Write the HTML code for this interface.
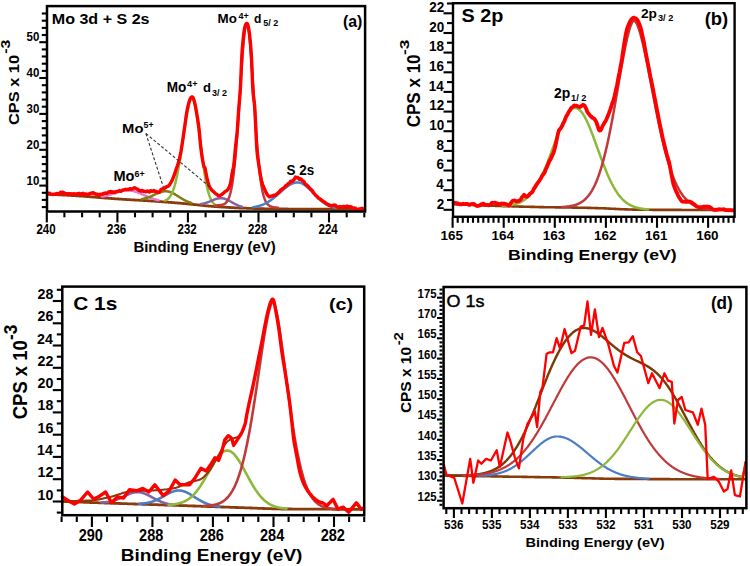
<!DOCTYPE html>
<html><head><meta charset="utf-8"><style>
html,body{margin:0;padding:0;background:#fff;}
svg{display:block;}
text{font-family:"Liberation Sans",sans-serif;font-weight:bold;}
</style></head><body>
<svg width="750" height="566" viewBox="0 0 750 566">
<rect width="750" height="566" fill="#fff"/>
<line x1="64.4" y1="212.5" x2="64.4" y2="217.3" stroke="#000" stroke-width="2.1"/>
<line x1="82.1" y1="212.5" x2="82.1" y2="217.3" stroke="#000" stroke-width="2.1"/>
<line x1="99.7" y1="212.5" x2="99.7" y2="217.3" stroke="#000" stroke-width="2.1"/>
<line x1="135" y1="212.5" x2="135" y2="217.3" stroke="#000" stroke-width="2.1"/>
<line x1="152.6" y1="212.5" x2="152.6" y2="217.3" stroke="#000" stroke-width="2.1"/>
<line x1="170.3" y1="212.5" x2="170.3" y2="217.3" stroke="#000" stroke-width="2.1"/>
<line x1="205.6" y1="212.5" x2="205.6" y2="217.3" stroke="#000" stroke-width="2.1"/>
<line x1="223.2" y1="212.5" x2="223.2" y2="217.3" stroke="#000" stroke-width="2.1"/>
<line x1="240.8" y1="212.5" x2="240.8" y2="217.3" stroke="#000" stroke-width="2.1"/>
<line x1="276.1" y1="212.5" x2="276.1" y2="217.3" stroke="#000" stroke-width="2.1"/>
<line x1="293.8" y1="212.5" x2="293.8" y2="217.3" stroke="#000" stroke-width="2.1"/>
<line x1="311.4" y1="212.5" x2="311.4" y2="217.3" stroke="#000" stroke-width="2.1"/>
<line x1="346.7" y1="212.5" x2="346.7" y2="217.3" stroke="#000" stroke-width="2.1"/>
<line x1="364.3" y1="212.5" x2="364.3" y2="217.3" stroke="#000" stroke-width="2.1"/>
<line x1="46.8" y1="212.5" x2="46.8" y2="222.4" stroke="#000" stroke-width="2.1"/>
<line x1="117.4" y1="212.5" x2="117.4" y2="222.4" stroke="#000" stroke-width="2.1"/>
<line x1="187.9" y1="212.5" x2="187.9" y2="222.4" stroke="#000" stroke-width="2.1"/>
<line x1="258.5" y1="212.5" x2="258.5" y2="222.4" stroke="#000" stroke-width="2.1"/>
<line x1="329" y1="212.5" x2="329" y2="222.4" stroke="#000" stroke-width="2.1"/>
<line x1="46" y1="207.1" x2="41.8" y2="207.1" stroke="#000" stroke-width="2.1"/>
<line x1="46" y1="199.9" x2="41.8" y2="199.9" stroke="#000" stroke-width="2.1"/>
<line x1="46" y1="192.8" x2="41.8" y2="192.8" stroke="#000" stroke-width="2.1"/>
<line x1="46" y1="178.4" x2="41.8" y2="178.4" stroke="#000" stroke-width="2.1"/>
<line x1="46" y1="171.3" x2="41.8" y2="171.3" stroke="#000" stroke-width="2.1"/>
<line x1="46" y1="164.1" x2="41.8" y2="164.1" stroke="#000" stroke-width="2.1"/>
<line x1="46" y1="156.9" x2="41.8" y2="156.9" stroke="#000" stroke-width="2.1"/>
<line x1="46" y1="142.6" x2="41.8" y2="142.6" stroke="#000" stroke-width="2.1"/>
<line x1="46" y1="135.4" x2="41.8" y2="135.4" stroke="#000" stroke-width="2.1"/>
<line x1="46" y1="128.2" x2="41.8" y2="128.2" stroke="#000" stroke-width="2.1"/>
<line x1="46" y1="121.1" x2="41.8" y2="121.1" stroke="#000" stroke-width="2.1"/>
<line x1="46" y1="106.7" x2="41.8" y2="106.7" stroke="#000" stroke-width="2.1"/>
<line x1="46" y1="99.6" x2="41.8" y2="99.6" stroke="#000" stroke-width="2.1"/>
<line x1="46" y1="92.4" x2="41.8" y2="92.4" stroke="#000" stroke-width="2.1"/>
<line x1="46" y1="85.2" x2="41.8" y2="85.2" stroke="#000" stroke-width="2.1"/>
<line x1="46" y1="70.9" x2="41.8" y2="70.9" stroke="#000" stroke-width="2.1"/>
<line x1="46" y1="63.7" x2="41.8" y2="63.7" stroke="#000" stroke-width="2.1"/>
<line x1="46" y1="56.5" x2="41.8" y2="56.5" stroke="#000" stroke-width="2.1"/>
<line x1="46" y1="49.4" x2="41.8" y2="49.4" stroke="#000" stroke-width="2.1"/>
<line x1="46" y1="35" x2="41.8" y2="35" stroke="#000" stroke-width="2.1"/>
<line x1="46" y1="27.9" x2="41.8" y2="27.9" stroke="#000" stroke-width="2.1"/>
<line x1="46" y1="20.7" x2="41.8" y2="20.7" stroke="#000" stroke-width="2.1"/>
<line x1="46" y1="13.5" x2="41.8" y2="13.5" stroke="#000" stroke-width="2.1"/>
<line x1="46" y1="185.6" x2="39.3" y2="185.6" stroke="#000" stroke-width="2.1"/>
<line x1="46" y1="149.8" x2="39.3" y2="149.8" stroke="#000" stroke-width="2.1"/>
<line x1="46" y1="113.9" x2="39.3" y2="113.9" stroke="#000" stroke-width="2.1"/>
<line x1="46" y1="78" x2="39.3" y2="78" stroke="#000" stroke-width="2.1"/>
<line x1="46" y1="42.2" x2="39.3" y2="42.2" stroke="#000" stroke-width="2.1"/>
<path d="M47.5,194.3 48,194.3 48.5,194.4 49,194.4 49.5,194.4 50,194.4 50.5,194.4 51,194.5 51.5,194.5 52,194.5 52.5,194.5 53,194.5 53.5,194.6 54,194.6 54.5,194.6 55,194.6 55.5,194.7 56,194.7 56.5,194.7 57,194.7 57.5,194.7 58,194.8 58.5,194.8 59,194.8 59.5,194.8 60,194.9 60.5,194.9 61,194.9 61.5,194.9 62,195 62.5,195 63,195 63.5,195.1 64,195.1 64.5,195.1 65,195.1 65.5,195.2 66,195.2 66.5,195.2 67,195.2 67.5,195.3 68,195.3 68.5,195.3 69,195.4 69.5,195.4 70,195.4 70.5,195.4 71,195.5 71.5,195.5 72,195.5 72.5,195.6 73,195.6 73.5,195.6 74,195.7 74.5,195.7 75,195.7 75.5,195.7 76,195.8 76.5,195.8 77,195.8 77.5,195.9 78,195.9 78.5,195.9 79,196 79.5,196 80,196 80.5,196.1 81,196.1 81.5,196.1 82,196.2 82.5,196.2 83,196.2 83.5,196.3 84,196.3 84.5,196.4 85,196.4 85.5,196.4 86,196.5 86.5,196.5 87,196.5 87.5,196.6 88,196.6 88.5,196.7 89,196.7 89.5,196.7 90,196.8 90.5,196.8 91,196.9 91.5,196.9 92,196.9 92.5,197 93,197 93.5,197.1 94,197.1 94.5,197.2 95,197.2 95.5,197.2 96,197.3 96.5,197.3 97,197.4 97.5,197.4 98,197.4 98.5,197.5 99,197.5 99.5,197.6 100,197.6 100.5,197.6 101,197.7 101.5,197.7 102,197.8 102.5,197.8 103,197.8 103.5,197.9 104,197.9 104.5,198 105,198 105.5,198 106,198.1 106.5,198.1 107,198.2 107.5,198.2 108,198.2 108.5,198.3 109,198.3 109.5,198.4 110,198.4 110.5,198.4 111,198.5 111.5,198.5 112,198.5 112.5,198.6 113,198.6 113.5,198.7 114,198.7 114.5,198.7 115,198.8 115.5,198.8 116,198.8 116.5,198.9 117,198.9 117.5,198.9 118,199 118.5,199 119,199 119.5,199.1 120,199.1 120.5,199.1 121,199.2 121.5,199.2 122,199.2 122.5,199.3 123,199.3 123.5,199.3 124,199.4 124.5,199.4 125,199.4 125.5,199.5 126,199.5 126.5,199.5 127,199.6 127.5,199.6 128,199.6 128.5,199.7 129,199.7 129.5,199.7 130,199.7 130.5,199.8 131,199.8 131.5,199.8 132,199.9 132.5,199.9 133,199.9 133.5,199.9 134,200 134.5,200 135,200 135.5,200.1 136,200.1 136.5,200.1 137,200.1 137.5,200.2 138,200.2 138.5,200.2 139,200.2 139.5,200.3 140,200.3 140.5,200.3 141,200.4 141.5,200.4 142,200.4 142.5,200.4 143,200.5 143.5,200.5 144,200.5 144.5,200.6 145,200.6 145.5,200.6 146,200.6 146.5,200.7 147,200.7 147.5,200.7 148,200.8 148.5,200.8 149,200.8 149.5,200.9 150,200.9 150.5,200.9 151,201 151.5,201 152,201 152.5,201.1 153,201.1 153.5,201.1 154,201.2 154.5,201.2 155,201.2 155.5,201.3 156,201.3 156.5,201.3 157,201.4 157.5,201.4 158,201.5 158.5,201.5 159,201.5 159.5,201.6 160,201.6 160.5,201.6 161,201.7 161.5,201.7 162,201.8 162.5,201.8 163,201.8 163.5,201.9 164,201.9 164.5,201.9 165,202 165.5,202 166,202.1 166.5,202.1 167,202.1 167.5,202.2 168,202.2 168.5,202.3 169,202.3 169.5,202.3 170,202.4 170.5,202.4 171,202.5 171.5,202.5 172,202.5 172.5,202.6 173,202.6 173.5,202.7 174,202.7 174.5,202.7 175,202.8 175.5,202.8 176,202.9 176.5,202.9 177,202.9 177.5,203 178,203 178.5,203.1 179,203.1 179.5,203.2 180,203.2 180.5,203.2 181,203.3 181.5,203.3 182,203.4 182.5,203.4 183,203.5 183.5,203.5 184,203.6 184.5,203.6 185,203.6 185.5,203.7 186,203.7 186.5,203.8 187,203.8 187.5,203.9 188,203.9 188.5,204 189,204 189.5,204.1 190,204.1 190.5,204.2 191,204.2 191.5,204.3 192,204.3 192.5,204.4 193,204.4 193.5,204.5 194,204.5 194.5,204.6 195,204.6 195.5,204.7 196,204.7 196.5,204.8 197,204.8 197.5,204.9 198,204.9 198.5,205 199,205 199.5,205.1 200,205.2 200.5,205.2 201,205.3 201.5,205.3 202,205.4 202.5,205.4 203,205.5 203.5,205.5 204,205.6 204.5,205.7 205,205.7 205.5,205.8 206,205.8 206.5,205.8 207,205.9 207.5,205.9 208,206 208.5,206 209,206.1 209.5,206.1 210,206.2 210.5,206.2 211,206.2 211.5,206.3 212,206.3 212.5,206.4 213,206.4 213.5,206.4 214,206.5 214.5,206.5 215,206.6 215.5,206.6 216,206.6 216.5,206.7 217,206.7 217.5,206.7 218,206.8 218.5,206.8 219,206.8 219.5,206.9 220,206.9 220.5,206.9 221,207 221.5,207 222,207 222.5,207.1 223,207.1 223.5,207.1 224,207.2 224.5,207.2 225,207.2 225.5,207.2 226,207.3 226.5,207.3 227,207.3 227.5,207.4 228,207.4 228.5,207.4 229,207.5 229.5,207.5 230,207.5 230.5,207.5 231,207.6 231.5,207.6 232,207.6 232.5,207.6 233,207.7 233.5,207.7 234,207.7 234.5,207.8 235,207.8 235.5,207.8 236,207.8 236.5,207.9 237,207.9 237.5,207.9 238,207.9 238.5,207.9 239,208 239.5,208 240,208 240.5,208 241,208.1 241.5,208.1 242,208.1 242.5,208.1 243,208.1 243.5,208.1 244,208.2 244.5,208.2 245,208.2 245.5,208.2 246,208.2 246.5,208.2 247,208.3 247.5,208.3 248,208.3 248.5,208.3 249,208.3 249.5,208.3 250,208.4 250.5,208.4 251,208.4 251.5,208.4 252,208.4 252.5,208.4 253,208.5 253.5,208.5 254,208.5 254.5,208.5 255,208.5 255.5,208.5 256,208.5 256.5,208.6 257,208.6 257.5,208.6 258,208.6 258.5,208.6 259,208.6 259.5,208.6 260,208.6 260.5,208.7 261,208.7 261.5,208.7 262,208.7 262.5,208.7 263,208.7 263.5,208.7 264,208.7 264.5,208.8 265,208.8 265.5,208.8 266,208.8 266.5,208.8 267,208.8 267.5,208.8 268,208.8 268.5,208.8 269,208.9 269.5,208.9 270,208.9 270.5,208.9 271,208.9 271.5,208.9 272,208.9 272.5,208.9 273,208.9 273.5,208.9 274,208.9 274.5,208.9 275,209 275.5,209 276,209 276.5,209 277,209 277.5,209 278,209 278.5,209 279,209 279.5,209 280,209 280.5,209 281,209 281.5,209 282,209 282.5,209 283,209 283.5,209 284,209 284.5,209 285,209 285.5,209 286,209 286.5,209 287,209 287.5,209 288,209.1 288.5,209.1 289,209.1 289.5,209.1 290,209.1 290.5,209.1 291,209.1 291.5,209.1 292,209.1 292.5,209.1 293,209.1 293.5,209.1 294,209.1 294.5,209.1 295,209.1 295.5,209.1 296,209.1 296.5,209.1 297,209.1 297.5,209.1 298,209.1 298.5,209.1 299,209.1 299.5,209.1 300,209.1 300.5,209.1 301,209.1 301.5,209.1 302,209.1 302.5,209.1 303,209.1 303.5,209.1 304,209.1 304.5,209.1 305,209.1 305.5,209.1 306,209.2 306.5,209.2 307,209.2 307.5,209.2 308,209.2 308.5,209.2 309,209.2 309.5,209.2 310,209.2 310.5,209.2 311,209.2 311.5,209.2 312,209.2 312.5,209.2 313,209.2 313.5,209.2 314,209.2 314.5,209.2 315,209.2 315.5,209.2 316,209.2 316.5,209.2 317,209.2 317.5,209.2 318,209.2 318.5,209.2 319,209.2 319.5,209.2 320,209.2 320.5,209.2 321,209.2 321.5,209.2 322,209.2 322.5,209.2 323,209.2 323.5,209.2 324,209.2 324.5,209.2 325,209.2 325.5,209.2 326,209.2 326.5,209.2 327,209.2 327.5,209.2 328,209.2 328.5,209.2 329,209.2 329.5,209.2 330,209.2 330.5,209.2 331,209.2 331.5,209.3 332,209.3 332.5,209.3 333,209.3 333.5,209.3 334,209.3 334.5,209.3 335,209.3 335.5,209.3 336,209.3 336.5,209.3 337,209.3 337.5,209.3 338,209.3 338.5,209.3 339,209.3 339.5,209.3 340,209.3 340.5,209.3 341,209.3 341.5,209.3 342,209.3 342.5,209.3 343,209.3 343.5,209.3 344,209.3 344.5,209.3 345,209.3 345.5,209.3 346,209.3 346.5,209.3 347,209.3 347.5,209.3 348,209.3 348.5,209.3 349,209.3 349.5,209.3 350,209.3 350.5,209.3 351,209.3 351.5,209.3 352,209.3 352.5,209.3 353,209.3 353.5,209.3 354,209.3 354.5,209.3 355,209.3 355.5,209.3 356,209.3 356.5,209.3 357,209.3 357.5,209.3 358,209.3 358.5,209.3 359,209.3 359.5,209.3 360,209.3 360.5,209.3 361,209.3 361.5,209.3 362,209.3 362.5,209.3 363,209.3 363.5,209.3" fill="none" stroke="#8b3a0a" stroke-width="2.8" stroke-linejoin="round" stroke-linecap="round"/>
<path d="M102,196.5 102.5,196.4 103,196.3 103.5,196.3 104,196.2 104.5,196.1 105,196 105.5,195.9 106,195.8 106.5,195.7 107,195.6 107.5,195.5 108,195.3 108.5,195.2 109,195.1 109.5,194.9 110,194.8 110.5,194.6 111,194.4 111.5,194.3 112,194.1 112.5,193.9 113,193.7 113.5,193.6 114,193.4 114.5,193.2 115,193 115.5,192.8 116,192.6 116.5,192.4 117,192.3 117.5,192.1 118,191.9 118.5,191.7 119,191.6 119.5,191.4 120,191.2 120.5,191.1 121,191 121.5,190.8 122,190.7 122.5,190.6 123,190.5 123.5,190.4 124,190.3 124.5,190.2 125,190.2 125.5,190.1 126,190.1 126.5,190.1 127,190.1 127.5,190.1 128,190.1 128.5,190.2 129,190.2 129.5,190.3 130,190.3 130.5,190.4 131,190.5 131.5,190.6 132,190.7 132.5,190.8 133,190.9 133.5,191.1 134,191.2 134.5,191.4 135,191.5 135.5,191.7 136,191.8 136.5,192 137,192.2 137.5,192.4 138,192.6 138.5,192.8 139,193 139.5,193.2 140,193.4 140.5,193.6 141,193.8 141.5,194.1 142,194.3 142.5,194.5 143,194.7 143.5,194.9 144,195.2 144.5,195.4 145,195.6 145.5,195.8 146,196 146.5,196.2 147,196.5 147.5,196.7 148,196.9 148.5,197.1 149,197.3 149.5,197.5 150,197.7 150.5,197.8 151,198 151.5,198.2 152,198.4 152.5,198.6 153,198.7 153.5,198.9 154,199.1 154.5,199.2 155,199.4 155.5,199.5 156,199.6 156.5,199.8 157,199.9 157.5,200 158,200.2 158.5,200.3" fill="none" stroke="#e679c8" stroke-width="2.5" stroke-linejoin="round" stroke-linecap="round"/>
<path d="M141.5,199.2 142,199.1 142.5,199 143,198.9 143.5,198.8 144,198.7 144.5,198.5 145,198.4 145.5,198.3 146,198.1 146.5,198 147,197.8 147.5,197.7 148,197.5 148.5,197.3 149,197.1 149.5,196.9 150,196.7 150.5,196.5 151,196.3 151.5,196.1 152,195.8 152.5,195.6 153,195.4 153.5,195.1 154,194.9 154.5,194.7 155,194.4 155.5,194.2 156,193.9 156.5,193.7 157,193.5 157.5,193.3 158,193.1 158.5,192.8 159,192.6 159.5,192.5 160,192.3 160.5,192.1 161,192 161.5,191.8 162,191.7 162.5,191.6 163,191.5 163.5,191.4 164,191.3 164.5,191.3 165,191.3 165.5,191.3 166,191.3 166.5,191.3 167,191.3 167.5,191.4 168,191.5 168.5,191.6 169,191.7 169.5,191.9 170,192 170.5,192.2 171,192.4 171.5,192.6 172,192.8 172.5,193 173,193.3 173.5,193.5 174,193.8 174.5,194.1 175,194.4 175.5,194.7 176,195 176.5,195.3 177,195.6 177.5,195.9 178,196.2 178.5,196.5 179,196.8 179.5,197.2 180,197.5 180.5,197.8 181,198.1 181.5,198.4 182,198.7 182.5,199 183,199.3 183.5,199.6 184,199.8 184.5,200.1 185,200.4 185.5,200.6 186,200.9 186.5,201.1 187,201.3 187.5,201.5 188,201.8 188.5,202 189,202.2 189.5,202.3 190,202.5 190.5,202.7 191,202.9 191.5,203" fill="none" stroke="#7f7f10" stroke-width="2.5" stroke-linejoin="round" stroke-linecap="round"/>
<path d="M165,200.6 165.5,200.4 166,200.2 166.5,200 167,199.6 167.5,199.3 168,198.9 168.5,198.4 169,197.9 169.5,197.3 170,196.6 170.5,195.9 171,195 171.5,194.1 172,193 172.5,191.9 173,190.6 173.5,189.2 174,187.7 174.5,186.1 175,184.3 175.5,182.4 176,180.4 176.5,178.2 177,175.9 177.5,173.4 178,170.8 178.5,168.1 179,165.3 179.5,162.3 180,159.2 180.5,156 181,152.8 181.5,149.4 182,146.1 182.5,142.6 183,139.2 183.5,135.7 184,132.3 184.5,128.9 185,125.6 185.5,122.4 186,119.3 186.5,116.3 187,113.5 187.5,110.8 188,108.4 188.5,106.2 189,104.2 189.5,102.5 190,101.1 190.5,100 191,99.1 191.5,98.6 192,98.3 192.5,98.4 193,98.9 193.5,99.8 194,101.2 194.5,102.8 195,104.9 195.5,107.3 196,110 196.5,113 197,116.3 197.5,119.8 198,123.4 198.5,127.2 199,131.2 199.5,135.2 200,139.3 200.5,143.3 201,147.4 201.5,151.4 202,155.3 202.5,159.2 203,162.9 203.5,166.5 204,169.9 204.5,173.1 205,176.2 205.5,179.1 206,181.9 206.5,184.4 207,186.7 207.5,188.9 208,190.9 208.5,192.7 209,194.4 209.5,195.9 210,197.2 210.5,198.5 211,199.5 211.5,200.5 212,201.4 212.5,202.1 213,202.8 213.5,203.4 214,203.9 214.5,204.3 215,204.7 215.5,205.1 216,205.4" fill="none" stroke="#8cb83c" stroke-width="2.5" stroke-linejoin="round" stroke-linecap="round"/>
<path d="M201,204 201.5,203.9 202,203.9 202.5,203.8 203,203.7 203.5,203.6 204,203.5 204.5,203.3 205,203.2 205.5,203.1 206,202.9 206.5,202.7 207,202.6 207.5,202.4 208,202.2 208.5,202 209,201.8 209.5,201.6 210,201.4 210.5,201.2 211,201 211.5,200.7 212,200.5 212.5,200.3 213,200.1 213.5,199.9 214,199.7 214.5,199.5 215,199.3 215.5,199.1 216,199 216.5,198.8 217,198.7 217.5,198.6 218,198.5 218.5,198.4 219,198.3 219.5,198.2 220,198.2 220.5,198.2 221,198.2 221.5,198.2 222,198.2 222.5,198.3 223,198.4 223.5,198.5 224,198.6 224.5,198.7 225,198.9 225.5,199.1 226,199.3 226.5,199.5 227,199.7 227.5,199.9 228,200.2 228.5,200.4 229,200.7 229.5,200.9 230,201.2 230.5,201.5 231,201.8 231.5,202.1 232,202.3 232.5,202.6 233,202.9 233.5,203.2 234,203.5 234.5,203.7 235,204 235.5,204.2 236,204.5 236.5,204.7 237,205 237.5,205.2 238,205.4 238.5,205.6 239,205.8 239.5,206 240,206.2 240.5,206.4 241,206.5 241.5,206.7 242,206.8" fill="none" stroke="#8064a8" stroke-width="2.5" stroke-linejoin="round" stroke-linecap="round"/>
<path d="M215.5,205.4 216,205.4 216.5,205.4 217,205.4 217.5,205.3 218,205.3 218.5,205.3 219,205.3 219.5,205.2 220,205.2 220.5,205.1 221,205.1 221.5,205 222,204.9 222.5,204.7 223,204.6 223.5,204.4 224,204.2 224.5,203.9 225,203.6 225.5,203.2 226,202.7 226.5,202.2 227,201.5 227.5,200.8 228,199.9 228.5,198.8 229,197.6 229.5,196.2 230,194.5 230.5,192.6 231,190.5 231.5,188.1 232,185.3 232.5,182.3 233,178.9 233.5,175.1 234,170.9 234.5,166.3 235,161.4 235.5,156 236,150.2 236.5,144.1 237,137.6 237.5,130.7 238,123.6 238.5,116.2 239,108.6 239.5,100.8 240,93 240.5,85.2 241,77.5 241.5,69.9 242,62.6 242.5,55.6 243,49.1 243.5,43.2 244,37.9 244.5,33.3 245,29.4 245.5,26.5 246,24.5 246.5,23.4 247,23.3 247.5,24.2 248,26.1 248.5,28.9 249,32.6 249.5,37 250,42.3 250.5,48.1 251,54.6 251.5,61.5 252,68.8 252.5,76.3 253,84.1 253.5,91.9 254,99.8 254.5,107.6 255,115.3 255.5,122.7 256,130 256.5,136.9 257,143.5 257.5,149.8 258,155.7 258.5,161.2 259,166.2 259.5,170.9 260,175.2 260.5,179.1 261,182.6 261.5,185.8 262,188.7 262.5,191.2 263,193.4 263.5,195.4 264,197.1 264.5,198.6 265,199.9 265.5,201 266,202 266.5,202.8 267,203.6 267.5,204.2 268,204.7 268.5,205.1 269,205.5 269.5,205.8 270,206.1 270.5,206.3 271,206.5 271.5,206.7 272,206.9 272.5,207 273,207.1 273.5,207.2 274,207.3 274.5,207.4 275,207.4 275.5,207.5 276,207.6 276.5,207.6 277,207.7 277.5,207.7 278,207.8" fill="none" stroke="#c0393b" stroke-width="2.5" stroke-linejoin="round" stroke-linecap="round"/>
<path d="M253,207.2 253.5,207.2 254,207.1 254.5,207 255,206.9 255.5,206.8 256,206.7 256.5,206.6 257,206.5 257.5,206.4 258,206.2 258.5,206.1 259,206 259.5,205.8 260,205.7 260.5,205.5 261,205.3 261.5,205.2 262,205 262.5,204.8 263,204.6 263.5,204.3 264,204.1 264.5,203.9 265,203.6 265.5,203.4 266,203.1 266.5,202.9 267,202.6 267.5,202.3 268,202 268.5,201.7 269,201.4 269.5,201 270,200.7 270.5,200.4 271,200 271.5,199.6 272,199.3 272.5,198.9 273,198.5 273.5,198.1 274,197.7 274.5,197.3 275,196.9 275.5,196.5 276,196.1 276.5,195.6 277,195.2 277.5,194.8 278,194.3 278.5,193.9 279,193.4 279.5,193 280,192.5 280.5,192.1 281,191.6 281.5,191.2 282,190.8 282.5,190.3 283,189.9 283.5,189.5 284,189 284.5,188.6 285,188.2 285.5,187.8 286,187.4 286.5,187 287,186.7 287.5,186.3 288,186 288.5,185.6 289,185.3 289.5,185 290,184.7 290.5,184.4 291,184.2 291.5,183.9 292,183.7 292.5,183.5 293,183.3 293.5,183.1 294,182.9 294.5,182.8 295,182.7 295.5,182.6 296,182.5 296.5,182.5 297,182.4 297.5,182.4 298,182.4 298.5,182.4 299,182.5 299.5,182.6 300,182.7 300.5,182.9 301,183 301.5,183.2 302,183.4 302.5,183.7 303,184 303.5,184.2 304,184.6 304.5,184.9 305,185.3 305.5,185.6 306,186 306.5,186.4 307,186.9 307.5,187.3 308,187.8 308.5,188.2 309,188.7 309.5,189.2 310,189.7 310.5,190.2 311,190.7 311.5,191.2 312,191.7 312.5,192.3 313,192.8 313.5,193.3 314,193.8 314.5,194.4 315,194.9 315.5,195.4 316,195.9 316.5,196.4 317,196.9 317.5,197.4 318,197.9 318.5,198.4 319,198.8 319.5,199.3 320,199.7 320.5,200.2 321,200.6 321.5,201 322,201.4 322.5,201.8 323,202.2 323.5,202.5 324,202.9 324.5,203.2 325,203.6 325.5,203.9 326,204.2 326.5,204.5 327,204.8 327.5,205 328,205.3 328.5,205.5 329,205.8 329.5,206 330,206.2 330.5,206.4 331,206.6 331.5,206.8 332,206.9 332.5,207.1 333,207.3 333.5,207.4 334,207.5 334.5,207.7 335,207.8 335.5,207.9 336,208" fill="none" stroke="#4a7ec6" stroke-width="2.5" stroke-linejoin="round" stroke-linecap="round"/>
<path d="M47.5,193.2 48,193.4 48.5,193.5 49,193.6 49.5,193.8 50,193.9 50.5,194 51,194.1 51.5,194.2 52,194.3 52.5,194.3 53,194.4 53.5,194.4 54,194.4 54.5,194.5 55,194.5 55.5,194.5 56,194.6 56.5,194.6 57,194.6 57.5,194.5 58,194.4 58.5,194.1 59,193.9 59.5,193.6 60,193.4 60.5,193.1 61,192.9 61.5,192.8 62,192.8 62.5,192.8 63,192.9 63.5,193 64,193.1 64.5,193.3 65,193.4 65.5,193.5 66,193.6 66.5,193.7 67,193.8 67.5,193.8 68,193.8 68.5,193.8 69,193.9 69.5,193.9 70,193.9 70.5,193.9 71,193.9 71.5,193.9 72,193.9 72.5,193.8 73,193.8 73.5,193.8 74,193.8 74.5,193.8 75,193.8 75.5,193.8 76,193.8 76.5,193.8 77,193.8 77.5,193.8 78,193.8 78.5,193.8 79,193.8 79.5,193.8 80,193.9 80.5,193.9 81,193.9 81.5,193.9 82,194 82.5,194 83,194 83.5,194 84,194.1 84.5,194.1 85,194.1 85.5,194.1 86,194.1 86.5,194.2 87,194.2 87.5,194.2 88,194.2 88.5,194.2 89,194.2 89.5,194 90,193.8 90.5,193.6 91,193.3 91.5,193 92,192.8 92.5,192.6 93,192.6 93.5,192.7 94,193 94.5,193.4 95,193.8 95.5,194.2 96,194.6 96.5,194.8 97,195 97.5,195 98,194.9 98.5,194.9 99,194.8 99.5,194.7 100,194.6 100.5,194.5 101,194.3 101.5,194.2 102,194.1 102.5,193.9 103,193.8 103.5,193.7 104,193.5 104.5,193.4 105,193.3 105.5,193.3 106,193.2 106.5,193.1 107,193 107.5,192.9 108,192.8 108.5,192.7 109,192.6 109.5,192.5 110,192.4 110.5,192.3 111,192.2 111.5,192.2 112,192.2 112.5,192.1 113,192.1 113.5,192.1 114,192.1 114.5,192 115,191.9 115.5,191.9 116,191.8 116.5,191.7 117,191.6 117.5,191.6 118,191.5 118.5,191.4 119,191.3 119.5,191.2 120,191.1 120.5,191 121,190.8 121.5,190.7 122,190.5 122.5,190.4 123,190.3 123.5,190.2 124,190.1 124.5,190 125,189.9 125.5,189.9 126,189.8 126.5,189.7 127,189.7 127.5,189.6 128,189.6 128.5,189.5 129,189.5 129.5,189.4 130,189.3 130.5,189.3 131,189.2 131.5,189.2 132,189.1 132.5,188.9 133,188.7 133.5,188.5 134,188.3 134.5,188.2 135,188.1 135.5,188.2 136,188.4 136.5,188.7 137,189 137.5,189.4 138,189.8 138.5,190.1 139,190.3 139.5,190.4 140,190.5 140.5,190.6 141,190.7 141.5,190.7 142,190.8 142.5,190.9 143,190.9 143.5,191 144,191 144.5,191 145,191 145.5,191.1 146,191.1 146.5,191.1 147,191.1 147.5,191.1 148,191.1 148.5,191.1 149,191.1 149.5,191.2 150,191.2 150.5,191.2 151,191.2 151.5,191.2 152,191.2 152.5,191.2 153,191.3 153.5,191.3 154,191.3 154.5,191.3 155,191.3 155.5,191.5 156,191.8 156.5,192.1 157,192.4 157.5,192.7 158,192.8 158.5,192.8 159,192.5 159.5,192 160,191.3 160.5,190.7 161,190.2 161.5,189.8 162,189.4 162.5,189.1 163,188.8 163.5,188.5 164,188.2 164.5,187.9 165,187.6 165.5,187.4 166,187.2 166.5,187 167,186.9 167.5,186.7 168,186.4 168.5,186 169,185.4 169.5,184.7 170,183.9 170.5,183.1 171,182.3 171.5,181.4 172,180.4 172.5,179.4 173,178.2 173.5,177 174,175.7 174.5,174.3 175,172.9 175.5,171.3 176,169.7 176.5,168.1 177,166.9 177.5,165.6 178,164 178.5,162.3 179,160.5 179.5,158.5 180,156.3 180.5,153.9 181,151.3 181.5,148.3 182,145.1 182.5,141.8 183,138.4 183.5,135 184,131.5 184.5,128.1 185,124.6 185.5,120.9 186,117.3 186.5,114 187,111 187.5,108.4 188,106.1 188.5,104.1 189,102.2 189.5,100.7 190,99.3 190.5,98.3 191,97.5 191.5,97.1 192,96.9 192.5,97.1 193,97.7 193.5,98.8 194,100.2 194.5,102 195,104.2 195.5,106.7 196,109.4 196.5,112.3 197,115.2 197.5,118.3 198,121.6 198.5,125 199,128.8 199.5,133.5 200,139.1 200.5,144.6 201,149.1 201.5,152.8 202,156.2 202.5,159.3 203,162.1 203.5,164.6 204,166.7 204.5,167.3 205,168 205.5,170.5 206,173.2 206.5,175.8 207,178.2 207.5,180.3 208,182.2 208.5,183.9 209,185.4 209.5,186.6 210,187.6 210.5,188.5 211,189.2 211.5,189.8 212,190.3 212.5,190.7 213,191.2 213.5,191.6 214,192.1 214.5,192.6 215,193 215.5,193.5 216,193.9 216.5,194.2 217,194.6 217.5,195 218,195.4 218.5,195.6 219,195.8 219.5,195.8 220,195.6 220.5,195.3 221,195 221.5,194.6 222,194.3 222.5,193.9 223,193.5 223.5,193.1 224,192.6 224.5,192.1 225,191.7 225.5,191.4 226,191.1 226.5,190.8 227,190.4 227.5,189.9 228,189.3 228.5,188.5 229,187.5 229.5,186.3 230,184.9 230.5,183.3 231,181.2 231.5,177.6 232,173.9 232.5,171.5 233,169.5 233.5,167.1 234,163.6 234.5,158.5 235,152.8 235.5,147.3 236,142.8 236.5,138.5 237,133.7 237.5,127.6 238,120.2 238.5,112.4 239,105.4 239.5,99.8 240,94.2 240.5,86.5 241,75 241.5,62.6 242,53 242.5,46.4 243,40.8 243.5,36 244,32 244.5,28.9 245,26.6 245.5,24.9 246,23.9 246.5,23.4 247,23.4 247.5,24.1 248,25.5 248.5,27.6 249,30.5 249.5,34.3 250,38.8 250.5,44.2 251,50.3 251.5,58.1 252,69.8 252.5,82.2 253,91.5 253.5,96.8 254,100.5 254.5,104.5 255,111.1 255.5,122.1 256,133.2 256.5,143.5 257,150.8 257.5,155.8 258,159.6 258.5,162.8 259,165.9 259.5,169.2 260,172.5 260.5,175.5 261,178.2 261.5,180.6 262,182.6 262.5,184.3 263,185.7 263.5,186.8 264,187.9 264.5,189 265,190.1 265.5,191.2 266,192.2 266.5,193.2 267,194.1 267.5,194.9 268,195.6 268.5,196 269,196.3 269.5,196.4 270,196.4 270.5,196.4 271,196.3 271.5,196.2 272,196 272.5,195.9 273,195.7 273.5,195.6 274,195.4 274.5,195.3 275,195.2 275.5,195.1 276,194.9 276.5,194.6 277,194.3 277.5,193.9 278,193.4 278.5,192.9 279,192.3 279.5,191.8 280,191.3 280.5,190.8 281,190.3 281.5,189.9 282,189.4 282.5,189 283,188.6 283.5,188.2 284,187.8 284.5,187.4 285,187 285.5,186.6 286,186 286.5,185.5 287,184.9 287.5,184.4 288,183.8 288.5,183.4 289,183 289.5,182.7 290,182.4 290.5,182.1 291,181.9 291.5,181.6 292,181.4 292.5,181.2 293,181 293.5,180.6 294,179.9 294.5,179 295,178.2 295.5,177.8 296,177.7 296.5,177.7 297,177.8 297.5,178 298,178.2 298.5,178.4 299,178.6 299.5,178.9 300,179.1 300.5,179.4 301,179.7 301.5,180 302,180.3 302.5,180.7 303,181.1 303.5,181.5 304,182 304.5,182.5 305,183.1 305.5,183.7 306,184.4 306.5,185 307,185.6 307.5,186.1 308,186.6 308.5,187.1 309,187.5 309.5,188 310,188.5 310.5,189 311,189.6 311.5,190.1 312,190.6 312.5,191.3 313,192 313.5,192.7 314,193.5 314.5,194.2 315,194.9 315.5,195.5 316,196 316.5,196.5 317,196.9 317.5,197.3 318,197.7 318.5,198.1 319,198.5 319.5,198.8 320,199.2 320.5,199.6 321,199.9 321.5,200.2 322,200.6 322.5,200.9 323,201.2 323.5,201.6 324,201.9 324.5,202.3 325,202.6 325.5,203 326,203.3 326.5,203.6 327,203.9 327.5,204.2 328,204.5 328.5,204.8 329,205 329.5,205.2 330,205.3 330.5,205.4 331,205.5 331.5,205.5 332,205.5 332.5,205.5 333,205.5 333.5,205.6 334,205.6 334.5,205.8 335,205.9 335.5,206 336,206.2 336.5,206.3 337,206.4 337.5,206.6 338,206.7 338.5,206.8 339,206.9 339.5,207 340,207 340.5,207 341,207 341.5,206.9 342,206.8 342.5,206.7 343,206.5 343.5,206.4 344,206.3 344.5,206.3 345,206.3 345.5,206.3 346,206.4 346.5,206.5 347,206.6 347.5,206.7 348,206.8 348.5,206.9 349,207 349.5,207.2 350,207.3 350.5,207.4 351,207.5 351.5,207.7 352,207.8 352.5,207.9 353,208 353.5,208.1 354,208.3 354.5,208.4 355,208.5 355.5,208.6 356,208.7 356.5,208.8 357,208.9 357.5,209 358,209 358.5,209 359,208.9 359.5,208.9 360,208.7 360.5,208.6 361,208.5 361.5,208.4 362,208.3 362.5,208.3 363,208.5 363.5,208.7" fill="none" stroke="#8b3a0a" stroke-width="2" stroke-linejoin="round" stroke-linecap="round"/>
<path d="M47.5,193.3 48,193.4 48.5,193.3 49,193.3 49.5,193.2 50,193.6 50.5,194.1 51,194.3 51.5,194.2 52,194.1 52.5,194.4 53,194.6 53.5,194.3 54,194.2 54.5,194.4 55,194.3 55.5,194.3 56,193.7 56.5,193.7 57,193.4 57.5,193.7 58,193.6 58.5,193.8 59,193.7 59.5,193.7 60,192.8 60.5,192.4 61,192.2 61.5,192.7 62,192.5 62.5,192.4 63,192.2 63.5,192.5 64,193 64.5,193.1 65,193.4 65.5,193.5 66,193.7 66.5,193.8 67,193.6 67.5,193.8 68,193.6 68.5,193.6 69,193.9 69.5,193.8 70,194 70.5,193.7 71,193.9 71.5,194.2 72,194.3 72.5,194.2 73,193.8 73.5,193.7 74,193.9 74.5,194.1 75,193.9 75.5,194.1 76,194.3 76.5,194.1 77,194 77.5,193.6 78,193.8 78.5,193.5 79,193.4 79.5,193.4 80,193.9 80.5,194.3 81,194.1 81.5,193.7 82,193.6 82.5,193.5 83,193.6 83.5,193.4 84,194.2 84.5,194.5 85,194.5 85.5,194.1 86,193.9 86.5,194.4 87,194.4 87.5,194.4 88,194.1 88.5,194.2 89,194.2 89.5,193.7 90,193.5 90.5,193.2 91,193.4 91.5,193.3 92,193.2 92.5,192.9 93,192.7 93.5,193.1 94,193.2 94.5,193.8 95,193.6 95.5,194.1 96,194 96.5,194.1 97,194.1 97.5,194.2 98,194.7 98.5,195.2 99,195.2 99.5,194.9 100,194.3 100.5,194.5 101,194.5 101.5,194.2 102,194.1 102.5,194.2 103,193.8 103.5,193.5 104,193.3 104.5,193.2 105,193.2 105.5,192.9 106,193.3 106.5,193.1 107,193.3 107.5,192.8 108,192.7 108.5,192.1 109,191.9 109.5,191.9 110,191.7 110.5,192.1 111,191.5 111.5,192.2 112,191.7 112.5,192.3 113,192.1 113.5,191.9 114,192 114.5,192.3 115,192.6 115.5,192.1 116,191.7 116.5,191.4 117,191.6 117.5,191.5 118,191.6 118.5,191.1 119,191 119.5,190.6 120,190.9 120.5,190.9 121,191.3 121.5,190.9 122,190.6 122.5,190.2 123,189.9 123.5,190 124,189.9 124.5,189.8 125,189.4 125.5,189.3 126,189.7 126.5,189.8 127,189.7 127.5,189.3 128,189.7 128.5,189.6 129,189.4 129.5,188.9 130,188.7 130.5,188.9 131,189 131.5,189.4 132,188.9 132.5,188.8 133,188.5 133.5,188.4 134,187.9 134.5,187.6 135,187.9 135.5,188.1 136,188.6 136.5,188.6 137,189 137.5,189.2 138,189.7 138.5,190.1 139,190.3 139.5,190.3 140,190.7 140.5,191 141,191.2 141.5,190.9 142,190.4 142.5,190.6 143,191 143.5,191.4 144,191.3 144.5,191.3 145,191.5 145.5,191.7 146,191.4 146.5,191.6 147,191.1 147.5,191.4 148,191.1 148.5,191.6 149,191.9 149.5,192.1 150,191.7 150.5,190.9 151,190.7 151.5,190.8 152,191.2 152.5,191.2 153,191.1 153.5,190.6 154,190.5 154.5,190.9 155,191.3 155.5,191.4 156,191.5 156.5,191.6 157,191.8 157.5,192.1 158,192.2 158.5,192.3 159,192.2 159.5,192.2 160,191.2 160.5,190.4 161,189.5 161.5,189.2 162,189 162.5,188.8 163,188.7 163.5,188.4 164,188.8 164.5,188.1 165,188 165.5,187.3 166,187.4 166.5,186.7 167,186.4 167.5,186.4 168,186.4 168.5,186.1 169,185.3 169.5,184.9 170,183.9 170.5,183.1 171,182.3 171.5,181.4 172,180.4 172.5,179.4 173,178.2 173.5,177 174,175.7 174.5,174.3 175,172.9 175.5,171.3 176,169.7 176.5,168.1 177,166.9 177.5,165.6 178,164 178.5,162.3 179,160.5 179.5,158.5 180,156.3 180.5,153.9 181,151.3 181.5,148.3 182,145.1 182.5,141.8 183,138.4 183.5,135 184,131.5 184.5,128.1 185,124.6 185.5,120.9 186,117.3 186.5,114 187,111 187.5,108.4 188,106.1 188.5,104.1 189,102.2 189.5,100.7 190,99.3 190.5,98.3 191,97.5 191.5,97.1 192,96.9 192.5,97.1 193,97.7 193.5,98.8 194,100.2 194.5,102 195,104.2 195.5,106.7 196,109.4 196.5,112.3 197,115.2 197.5,118.3 198,121.6 198.5,125 199,128.8 199.5,133.5 200,139.1 200.5,144.6 201,149.1 201.5,152.8 202,156.2 202.5,159.3 203,162.1 203.5,164.6 204,166.7 204.5,167.3 205,168 205.5,170.5 206,173.2 206.5,175.8 207,178.2 207.5,180.3 208,182.2 208.5,183.9 209,185.4 209.5,186.6 210,187.6 210.5,188.5 211,189.2 211.5,189.8 212,190.3 212.5,190.7 213,191.2 213.5,191.6 214,192.1 214.5,192.6 215,193 215.5,193.5 216,193.9 216.5,194.2 217,194.6 217.5,195 218,195.4 218.5,195.6 219,195.8 219.5,195.8 220,195.6 220.5,195.3 221,195 221.5,194.6 222,194.3 222.5,193.9 223,193.5 223.5,193.1 224,192.6 224.5,192.1 225,191.7 225.5,191.4 226,191.1 226.5,190.8 227,190.4 227.5,189.9 228,189.3 228.5,188.5 229,187.5 229.5,186.3 230,184.9 230.5,183.3 231,181.2 231.5,177.6 232,173.9 232.5,171.5 233,169.5 233.5,167.1 234,163.6 234.5,158.5 235,152.8 235.5,147.3 236,142.8 236.5,138.5 237,133.7 237.5,127.6 238,120.2 238.5,112.4 239,105.4 239.5,99.8 240,94.2 240.5,86.5 241,75 241.5,62.6 242,53 242.5,46.4 243,40.8 243.5,36 244,32 244.5,28.9 245,26.6 245.5,24.9 246,23.9 246.5,23.4 247,23.4 247.5,24.1 248,25.5 248.5,27.6 249,30.5 249.5,34.3 250,38.8 250.5,44.2 251,50.3 251.5,58.1 252,69.8 252.5,82.2 253,91.5 253.5,96.8 254,100.5 254.5,104.5 255,111.1 255.5,122.1 256,133.2 256.5,143.5 257,150.8 257.5,155.8 258,159.6 258.5,162.8 259,165.9 259.5,169.2 260,172.5 260.5,175.5 261,178.2 261.5,180.6 262,182.6 262.5,184.3 263,185.7 263.5,186.8 264,187.9 264.5,189 265,190.1 265.5,191.2 266,192.2 266.5,193.2 267,194.1 267.5,194.9 268,195.6 268.5,195.9 269,196.7 269.5,196.5 270,196.7 270.5,196.3 271,196.2 271.5,196.1 272,196 272.5,196.1 273,195.8 273.5,195.4 274,195.2 274.5,195.1 275,195.4 275.5,195.1 276,194.9 276.5,194.1 277,194.1 277.5,193.4 278,192.9 278.5,192.3 279,192.2 279.5,191.7 280,191 280.5,190.1 281,189.7 281.5,189.6 282,189.1 282.5,188.8 283,188.4 283.5,188 284,187.9 284.5,187.1 285,186.6 285.5,185.8 286,185.8 286.5,185.4 287,185.3 287.5,184.3 288,183.9 288.5,183.4 289,183.4 289.5,182.9 290,182.3 290.5,181.4 291,181.1 291.5,181.3 292,181.5 292.5,181.3 293,180.7 293.5,180 294,179.8 294.5,178.7 295,178.1 295.5,177.1 296,177.8 296.5,177.5 297,177.7 297.5,177.4 298,177.6 298.5,178.2 299,178.9 299.5,179.3 300,179.1 300.5,178.8 301,179.1 301.5,179.5 302,180.2 302.5,180.7 303,180.8 303.5,181.3 304,181.7 304.5,182.8 305,183.7 305.5,184.3 306,184.6 306.5,184.8 307,185.3 307.5,185.8 308,186.3 308.5,186.7 309,187.4 309.5,187.9 310,188.7 310.5,189 311,189.4 311.5,189.7 312,190.3 312.5,190.9 313,191.9 313.5,192.6 314,193.2 314.5,193.9 315,194.4 315.5,195.1 316,195.6 316.5,195.9 317,196.5 317.5,197 318,197.7 318.5,198 319,198.3 319.5,198.5 320,198.9 320.5,199.2 321,199.8 321.5,199.9 322,200.4 322.5,200.7 323,201.3 323.5,201.5 324,201.9 324.5,202 325,202.5 325.5,202.8 326,203.5 326.5,203.8 327,203.9 327.5,204.1 328,204.4 328.5,204.9 329,205.3 329.5,205 330,205.2 330.5,205.5 331,206 331.5,206 332,205.4 332.5,205.4 333,205.4 333.5,205.2 334,205.2 334.5,205 335,205.4 335.5,205.3 336,206 336.5,206.4 337,206.7 337.5,206.9 338,207.4 338.5,207.4 339,207.1 339.5,206.7 340,206.6 340.5,206.7 341,207 341.5,207.1 342,207.1 342.5,206.7 343,206.6 343.5,206.4 344,206.6 344.5,206.8 345,206.7 345.5,206.6 346,206.5 346.5,206.3 347,206.1 347.5,206.3 348,206.6 348.5,207.1 349,206.8 349.5,206.8 350,206.8 350.5,207.1 351,206.8 351.5,207 352,207.4 352.5,208.1 353,208.1 353.5,208.1 354,208.3 354.5,208 355,208.1 355.5,208.2 356,209 356.5,209.4 357,209.6 357.5,209.6 358,209.3 358.5,209.3 359,209.1 359.5,208.9 360,208.8 360.5,209.2 361,209 361.5,208.7 362,208.3 362.5,208.6 363,208.8 363.5,209" fill="none" stroke="#ff0000" stroke-width="3.4" stroke-linejoin="round" stroke-linecap="round"/>
<text x="36.4" y="234" font-size="13.9" fill="#000" textLength="19.2" lengthAdjust="spacingAndGlyphs">240</text>
<text x="107" y="234" font-size="13.9" fill="#000" textLength="19.2" lengthAdjust="spacingAndGlyphs">236</text>
<text x="177.5" y="234" font-size="13.9" fill="#000" textLength="19.2" lengthAdjust="spacingAndGlyphs">232</text>
<text x="248" y="234" font-size="13.9" fill="#000" textLength="19.2" lengthAdjust="spacingAndGlyphs">228</text>
<text x="318.5" y="234" font-size="13.9" fill="#000" textLength="19.2" lengthAdjust="spacingAndGlyphs">224</text>
<text x="26.5" y="184.7" font-size="13.4" fill="#000" textLength="12.8" lengthAdjust="spacingAndGlyphs">10</text>
<text x="26.5" y="148.8" font-size="13.4" fill="#000" textLength="12.8" lengthAdjust="spacingAndGlyphs">20</text>
<text x="26.5" y="113" font-size="13.4" fill="#000" textLength="12.8" lengthAdjust="spacingAndGlyphs">30</text>
<text x="26.5" y="77.1" font-size="13.4" fill="#000" textLength="12.8" lengthAdjust="spacingAndGlyphs">40</text>
<text x="26.5" y="41.3" font-size="13.4" fill="#000" textLength="12.8" lengthAdjust="spacingAndGlyphs">50</text>
<text x="133.4" y="251.5" font-size="13.93" fill="#000" textLength="142.3" lengthAdjust="spacingAndGlyphs">Binding Energy (eV)</text>
<text transform="translate(18.7,125.1) rotate(-90)" x="0" y="0" font-size="14.43" textLength="70.2" lengthAdjust="spacingAndGlyphs">CPS x 10</text>
<text transform="translate(10.2,53.7) rotate(-90)" x="0" y="0" font-size="12.43" textLength="14.2" lengthAdjust="spacingAndGlyphs">-3</text>
<text x="51.8" y="23.8" font-size="15.45" fill="#000" textLength="97.7" lengthAdjust="spacingAndGlyphs">Mo 3d + S 2s</text>
<text x="343" y="26.7" font-size="17.22" fill="#000" textLength="19.4" lengthAdjust="spacingAndGlyphs">(a)</text>
<text x="217.5" y="23.2" font-size="13.33" fill="#000" textLength="19.3" lengthAdjust="spacingAndGlyphs">Mo</text>
<text x="238.5" y="18.9" font-size="9.28" fill="#000" textLength="10.3" lengthAdjust="spacingAndGlyphs">4+</text>
<text x="253.9" y="23.2" font-size="12.69" fill="#000" textLength="7.4" lengthAdjust="spacingAndGlyphs">d</text>
<text x="263.2" y="26.2" font-size="9.52" fill="#000" textLength="15" lengthAdjust="spacingAndGlyphs">5/ 2</text>
<text x="166.7" y="91.9" font-size="13.91" fill="#000" textLength="19.6" lengthAdjust="spacingAndGlyphs">Mo</text>
<text x="187.1" y="87.3" font-size="9.28" fill="#000" textLength="10.4" lengthAdjust="spacingAndGlyphs">4+</text>
<text x="203" y="91.9" font-size="13.24" fill="#000" textLength="8" lengthAdjust="spacingAndGlyphs">d</text>
<text x="212" y="95.5" font-size="9.38" fill="#000" textLength="15" lengthAdjust="spacingAndGlyphs">3/ 2</text>
<text x="122.1" y="132.6" font-size="13.33" fill="#000" textLength="21.3" lengthAdjust="spacingAndGlyphs">Mo</text>
<text x="143.6" y="128.3" font-size="9.57" fill="#000" textLength="10" lengthAdjust="spacingAndGlyphs">5+</text>
<text x="113.5" y="181.3" font-size="13.91" fill="#000" textLength="21" lengthAdjust="spacingAndGlyphs">Mo</text>
<text x="134.6" y="176.5" font-size="9.29" fill="#000" textLength="10.1" lengthAdjust="spacingAndGlyphs">6+</text>
<text x="286.5" y="174.5" font-size="13.71" fill="#000" textLength="27.7" lengthAdjust="spacingAndGlyphs">S 2s</text>
<line x1="145.9" y1="133.5" x2="163.3" y2="186.9" stroke="#333" stroke-width="1.1" stroke-dasharray="3,2"/>
<line x1="145.9" y1="133.5" x2="210.9" y2="187.8" stroke="#333" stroke-width="1.1" stroke-dasharray="3,2"/>
<line x1="457.7" y1="217.5" x2="457.7" y2="222.8" stroke="#000" stroke-width="2.1"/>
<line x1="462.8" y1="217.5" x2="462.8" y2="222.8" stroke="#000" stroke-width="2.1"/>
<line x1="467.9" y1="217.5" x2="467.9" y2="222.8" stroke="#000" stroke-width="2.1"/>
<line x1="473" y1="217.5" x2="473" y2="222.8" stroke="#000" stroke-width="2.1"/>
<line x1="478.2" y1="217.5" x2="478.2" y2="222.8" stroke="#000" stroke-width="2.1"/>
<line x1="483.3" y1="217.5" x2="483.3" y2="222.8" stroke="#000" stroke-width="2.1"/>
<line x1="488.4" y1="217.5" x2="488.4" y2="222.8" stroke="#000" stroke-width="2.1"/>
<line x1="493.5" y1="217.5" x2="493.5" y2="222.8" stroke="#000" stroke-width="2.1"/>
<line x1="498.6" y1="217.5" x2="498.6" y2="222.8" stroke="#000" stroke-width="2.1"/>
<line x1="508.8" y1="217.5" x2="508.8" y2="222.8" stroke="#000" stroke-width="2.1"/>
<line x1="513.9" y1="217.5" x2="513.9" y2="222.8" stroke="#000" stroke-width="2.1"/>
<line x1="519" y1="217.5" x2="519" y2="222.8" stroke="#000" stroke-width="2.1"/>
<line x1="524.1" y1="217.5" x2="524.1" y2="222.8" stroke="#000" stroke-width="2.1"/>
<line x1="529.2" y1="217.5" x2="529.2" y2="222.8" stroke="#000" stroke-width="2.1"/>
<line x1="534.4" y1="217.5" x2="534.4" y2="222.8" stroke="#000" stroke-width="2.1"/>
<line x1="539.5" y1="217.5" x2="539.5" y2="222.8" stroke="#000" stroke-width="2.1"/>
<line x1="544.6" y1="217.5" x2="544.6" y2="222.8" stroke="#000" stroke-width="2.1"/>
<line x1="549.7" y1="217.5" x2="549.7" y2="222.8" stroke="#000" stroke-width="2.1"/>
<line x1="559.9" y1="217.5" x2="559.9" y2="222.8" stroke="#000" stroke-width="2.1"/>
<line x1="565" y1="217.5" x2="565" y2="222.8" stroke="#000" stroke-width="2.1"/>
<line x1="570.1" y1="217.5" x2="570.1" y2="222.8" stroke="#000" stroke-width="2.1"/>
<line x1="575.2" y1="217.5" x2="575.2" y2="222.8" stroke="#000" stroke-width="2.1"/>
<line x1="580.4" y1="217.5" x2="580.4" y2="222.8" stroke="#000" stroke-width="2.1"/>
<line x1="585.5" y1="217.5" x2="585.5" y2="222.8" stroke="#000" stroke-width="2.1"/>
<line x1="590.6" y1="217.5" x2="590.6" y2="222.8" stroke="#000" stroke-width="2.1"/>
<line x1="595.7" y1="217.5" x2="595.7" y2="222.8" stroke="#000" stroke-width="2.1"/>
<line x1="600.8" y1="217.5" x2="600.8" y2="222.8" stroke="#000" stroke-width="2.1"/>
<line x1="611" y1="217.5" x2="611" y2="222.8" stroke="#000" stroke-width="2.1"/>
<line x1="616.1" y1="217.5" x2="616.1" y2="222.8" stroke="#000" stroke-width="2.1"/>
<line x1="621.2" y1="217.5" x2="621.2" y2="222.8" stroke="#000" stroke-width="2.1"/>
<line x1="626.3" y1="217.5" x2="626.3" y2="222.8" stroke="#000" stroke-width="2.1"/>
<line x1="631.5" y1="217.5" x2="631.5" y2="222.8" stroke="#000" stroke-width="2.1"/>
<line x1="636.6" y1="217.5" x2="636.6" y2="222.8" stroke="#000" stroke-width="2.1"/>
<line x1="641.7" y1="217.5" x2="641.7" y2="222.8" stroke="#000" stroke-width="2.1"/>
<line x1="646.8" y1="217.5" x2="646.8" y2="222.8" stroke="#000" stroke-width="2.1"/>
<line x1="651.9" y1="217.5" x2="651.9" y2="222.8" stroke="#000" stroke-width="2.1"/>
<line x1="662.1" y1="217.5" x2="662.1" y2="222.8" stroke="#000" stroke-width="2.1"/>
<line x1="667.2" y1="217.5" x2="667.2" y2="222.8" stroke="#000" stroke-width="2.1"/>
<line x1="672.3" y1="217.5" x2="672.3" y2="222.8" stroke="#000" stroke-width="2.1"/>
<line x1="677.4" y1="217.5" x2="677.4" y2="222.8" stroke="#000" stroke-width="2.1"/>
<line x1="682.6" y1="217.5" x2="682.6" y2="222.8" stroke="#000" stroke-width="2.1"/>
<line x1="687.7" y1="217.5" x2="687.7" y2="222.8" stroke="#000" stroke-width="2.1"/>
<line x1="692.8" y1="217.5" x2="692.8" y2="222.8" stroke="#000" stroke-width="2.1"/>
<line x1="697.9" y1="217.5" x2="697.9" y2="222.8" stroke="#000" stroke-width="2.1"/>
<line x1="703" y1="217.5" x2="703" y2="222.8" stroke="#000" stroke-width="2.1"/>
<line x1="713.2" y1="217.5" x2="713.2" y2="222.8" stroke="#000" stroke-width="2.1"/>
<line x1="718.3" y1="217.5" x2="718.3" y2="222.8" stroke="#000" stroke-width="2.1"/>
<line x1="723.4" y1="217.5" x2="723.4" y2="222.8" stroke="#000" stroke-width="2.1"/>
<line x1="728.5" y1="217.5" x2="728.5" y2="222.8" stroke="#000" stroke-width="2.1"/>
<line x1="733.7" y1="217.5" x2="733.7" y2="222.8" stroke="#000" stroke-width="2.1"/>
<line x1="452.6" y1="217.5" x2="452.6" y2="227.8" stroke="#000" stroke-width="2.1"/>
<line x1="503.7" y1="217.5" x2="503.7" y2="227.8" stroke="#000" stroke-width="2.1"/>
<line x1="554.8" y1="217.5" x2="554.8" y2="227.8" stroke="#000" stroke-width="2.1"/>
<line x1="605.9" y1="217.5" x2="605.9" y2="227.8" stroke="#000" stroke-width="2.1"/>
<line x1="657" y1="217.5" x2="657" y2="227.8" stroke="#000" stroke-width="2.1"/>
<line x1="708.1" y1="217.5" x2="708.1" y2="227.8" stroke="#000" stroke-width="2.1"/>
<line x1="452" y1="200" x2="447" y2="200" stroke="#000" stroke-width="2.1"/>
<line x1="452" y1="180.3" x2="447" y2="180.3" stroke="#000" stroke-width="2.1"/>
<line x1="452" y1="160.7" x2="447" y2="160.7" stroke="#000" stroke-width="2.1"/>
<line x1="452" y1="141" x2="447" y2="141" stroke="#000" stroke-width="2.1"/>
<line x1="452" y1="121.4" x2="447" y2="121.4" stroke="#000" stroke-width="2.1"/>
<line x1="452" y1="101.7" x2="447" y2="101.7" stroke="#000" stroke-width="2.1"/>
<line x1="452" y1="82.1" x2="447" y2="82.1" stroke="#000" stroke-width="2.1"/>
<line x1="452" y1="62.4" x2="447" y2="62.4" stroke="#000" stroke-width="2.1"/>
<line x1="452" y1="42.8" x2="447" y2="42.8" stroke="#000" stroke-width="2.1"/>
<line x1="452" y1="23.1" x2="447" y2="23.1" stroke="#000" stroke-width="2.1"/>
<line x1="452" y1="3.5" x2="447" y2="3.5" stroke="#000" stroke-width="2.1"/>
<line x1="452" y1="209.8" x2="443.5" y2="209.8" stroke="#000" stroke-width="2.1"/>
<line x1="452" y1="190.2" x2="443.5" y2="190.2" stroke="#000" stroke-width="2.1"/>
<line x1="452" y1="170.5" x2="443.5" y2="170.5" stroke="#000" stroke-width="2.1"/>
<line x1="452" y1="150.9" x2="443.5" y2="150.9" stroke="#000" stroke-width="2.1"/>
<line x1="452" y1="131.2" x2="443.5" y2="131.2" stroke="#000" stroke-width="2.1"/>
<line x1="452" y1="111.6" x2="443.5" y2="111.6" stroke="#000" stroke-width="2.1"/>
<line x1="452" y1="91.9" x2="443.5" y2="91.9" stroke="#000" stroke-width="2.1"/>
<line x1="452" y1="72.3" x2="443.5" y2="72.3" stroke="#000" stroke-width="2.1"/>
<line x1="452" y1="52.6" x2="443.5" y2="52.6" stroke="#000" stroke-width="2.1"/>
<line x1="452" y1="33" x2="443.5" y2="33" stroke="#000" stroke-width="2.1"/>
<line x1="452" y1="13.3" x2="443.5" y2="13.3" stroke="#000" stroke-width="2.1"/>
<path d="M453.5,204.2 454,204.2 454.5,204.3 455,204.3 455.5,204.3 456,204.3 456.5,204.4 457,204.4 457.5,204.4 458,204.4 458.5,204.4 459,204.5 459.5,204.5 460,204.5 460.5,204.5 461,204.6 461.5,204.6 462,204.6 462.5,204.6 463,204.6 463.5,204.7 464,204.7 464.5,204.7 465,204.7 465.5,204.7 466,204.8 466.5,204.8 467,204.8 467.5,204.8 468,204.8 468.5,204.9 469,204.9 469.5,204.9 470,204.9 470.5,204.9 471,205 471.5,205 472,205 472.5,205 473,205 473.5,205.1 474,205.1 474.5,205.1 475,205.1 475.5,205.1 476,205.2 476.5,205.2 477,205.2 477.5,205.2 478,205.2 478.5,205.3 479,205.3 479.5,205.3 480,205.3 480.5,205.3 481,205.4 481.5,205.4 482,205.4 482.5,205.4 483,205.4 483.5,205.4 484,205.5 484.5,205.5 485,205.5 485.5,205.5 486,205.5 486.5,205.6 487,205.6 487.5,205.6 488,205.6 488.5,205.6 489,205.6 489.5,205.7 490,205.7 490.5,205.7 491,205.7 491.5,205.7 492,205.7 492.5,205.8 493,205.8 493.5,205.8 494,205.8 494.5,205.8 495,205.8 495.5,205.9 496,205.9 496.5,205.9 497,205.9 497.5,205.9 498,205.9 498.5,206 499,206 499.5,206 500,206 500.5,206 501,206 501.5,206 502,206.1 502.5,206.1 503,206.1 503.5,206.1 504,206.1 504.5,206.1 505,206.2 505.5,206.2 506,206.2 506.5,206.2 507,206.2 507.5,206.2 508,206.2 508.5,206.3 509,206.3 509.5,206.3 510,206.3 510.5,206.3 511,206.3 511.5,206.3 512,206.4 512.5,206.4 513,206.4 513.5,206.4 514,206.4 514.5,206.4 515,206.4 515.5,206.5 516,206.5 516.5,206.5 517,206.5 517.5,206.5 518,206.5 518.5,206.5 519,206.6 519.5,206.6 520,206.6 520.5,206.6 521,206.6 521.5,206.6 522,206.6 522.5,206.6 523,206.7 523.5,206.7 524,206.7 524.5,206.7 525,206.7 525.5,206.7 526,206.7 526.5,206.8 527,206.8 527.5,206.8 528,206.8 528.5,206.8 529,206.8 529.5,206.8 530,206.8 530.5,206.9 531,206.9 531.5,206.9 532,206.9 532.5,206.9 533,206.9 533.5,206.9 534,206.9 534.5,206.9 535,207 535.5,207 536,207 536.5,207 537,207 537.5,207 538,207 538.5,207 539,207.1 539.5,207.1 540,207.1 540.5,207.1 541,207.1 541.5,207.1 542,207.1 542.5,207.1 543,207.1 543.5,207.1 544,207.2 544.5,207.2 545,207.2 545.5,207.2 546,207.2 546.5,207.2 547,207.2 547.5,207.2 548,207.2 548.5,207.2 549,207.2 549.5,207.3 550,207.3 550.5,207.3 551,207.3 551.5,207.3 552,207.3 552.5,207.3 553,207.3 553.5,207.3 554,207.3 554.5,207.3 555,207.3 555.5,207.4 556,207.4 556.5,207.4 557,207.4 557.5,207.4 558,207.4 558.5,207.4 559,207.4 559.5,207.4 560,207.4 560.5,207.4 561,207.4 561.5,207.4 562,207.4 562.5,207.4 563,207.4 563.5,207.4 564,207.5 564.5,207.5 565,207.5 565.5,207.5 566,207.5 566.5,207.5 567,207.5 567.5,207.5 568,207.5 568.5,207.5 569,207.5 569.5,207.5 570,207.5 570.5,207.5 571,207.5 571.5,207.5 572,207.6 572.5,207.6 573,207.6 573.5,207.6 574,207.6 574.5,207.6 575,207.6 575.5,207.6 576,207.6 576.5,207.6 577,207.6 577.5,207.6 578,207.7 578.5,207.7 579,207.7 579.5,207.7 580,207.7 580.5,207.7 581,207.7 581.5,207.7 582,207.7 582.5,207.7 583,207.8 583.5,207.8 584,207.8 584.5,207.8 585,207.8 585.5,207.8 586,207.8 586.5,207.8 587,207.8 587.5,207.9 588,207.9 588.5,207.9 589,207.9 589.5,207.9 590,207.9 590.5,207.9 591,207.9 591.5,208 592,208 592.5,208 593,208 593.5,208 594,208 594.5,208 595,208.1 595.5,208.1 596,208.1 596.5,208.1 597,208.1 597.5,208.1 598,208.1 598.5,208.2 599,208.2 599.5,208.2 600,208.2 600.5,208.2 601,208.2 601.5,208.2 602,208.3 602.5,208.3 603,208.3 603.5,208.3 604,208.3 604.5,208.4 605,208.4 605.5,208.4 606,208.4 606.5,208.5 607,208.5 607.5,208.5 608,208.5 608.5,208.6 609,208.6 609.5,208.6 610,208.6 610.5,208.7 611,208.7 611.5,208.7 612,208.7 612.5,208.8 613,208.8 613.5,208.8 614,208.8 614.5,208.9 615,208.9 615.5,208.9 616,208.9 616.5,209 617,209 617.5,209 618,209 618.5,209.1 619,209.1 619.5,209.1 620,209.1 620.5,209.2 621,209.2 621.5,209.2 622,209.2 622.5,209.3 623,209.3 623.5,209.3 624,209.3 624.5,209.3 625,209.4 625.5,209.4 626,209.4 626.5,209.4 627,209.4 627.5,209.4 628,209.5 628.5,209.5 629,209.5 629.5,209.5 630,209.5 630.5,209.5 631,209.5 631.5,209.5 632,209.5 632.5,209.6 633,209.6 633.5,209.6 634,209.6 634.5,209.6 635,209.6 635.5,209.6 636,209.6 636.5,209.6 637,209.6 637.5,209.6 638,209.7 638.5,209.7 639,209.7 639.5,209.7 640,209.7 640.5,209.7 641,209.7 641.5,209.7 642,209.7 642.5,209.7 643,209.7 643.5,209.7 644,209.8 644.5,209.8 645,209.8 645.5,209.8 646,209.8 646.5,209.8 647,209.8 647.5,209.8 648,209.8 648.5,209.8 649,209.8 649.5,209.8 650,209.8 650.5,209.8 651,209.8 651.5,209.8 652,209.8 652.5,209.9 653,209.9 653.5,209.9 654,209.9 654.5,209.9 655,209.9 655.5,209.9 656,209.9 656.5,209.9 657,209.9 657.5,209.9 658,209.9 658.5,209.9 659,209.9 659.5,209.9 660,209.9 660.5,209.9 661,209.9 661.5,209.9 662,209.9 662.5,209.9 663,209.9 663.5,209.9 664,209.9 664.5,209.9 665,209.9 665.5,209.9 666,209.9 666.5,209.9 667,209.9 667.5,209.9 668,209.9 668.5,209.9 669,209.9 669.5,209.9 670,209.9 670.5,209.9 671,209.9 671.5,209.9 672,209.9 672.5,209.9 673,209.9 673.5,209.9 674,209.9 674.5,209.9 675,209.9 675.5,209.9 676,209.9 676.5,209.9 677,209.9 677.5,209.9 678,209.9 678.5,209.9 679,209.9 679.5,209.9 680,209.9 680.5,209.9 681,209.9 681.5,209.9 682,210 682.5,210 683,210 683.5,210 684,210 684.5,210 685,210 685.5,210 686,210 686.5,210 687,210 687.5,210 688,210 688.5,210 689,210 689.5,210 690,210 690.5,210 691,210 691.5,210 692,210 692.5,210 693,210 693.5,210 694,210 694.5,210 695,210 695.5,210 696,210 696.5,210 697,210 697.5,210 698,210 698.5,210 699,210 699.5,210 700,210 700.5,210 701,210 701.5,210 702,210 702.5,210 703,210 703.5,210 704,210 704.5,210 705,210 705.5,210 706,210 706.5,210 707,210 707.5,210 708,210 708.5,210 709,210 709.5,210 710,210 710.5,210 711,210 711.5,210 712,210 712.5,210 713,210 713.5,210 714,210 714.5,210 715,210 715.5,210 716,210 716.5,210 717,210 717.5,210 718,210 718.5,210 719,210 719.5,210 720,210 720.5,210 721,210 721.5,210 722,210 722.5,210 723,210 723.5,210 724,210 724.5,210 725,210 725.5,210 726,210 726.5,210 727,210 727.5,210 728,210 728.5,210 729,210 729.5,210 730,210 730.5,210 731,210 731.5,210 732,210 732.5,210 733,210 733.5,210" fill="none" stroke="#8b3a0a" stroke-width="2.6" stroke-linejoin="round" stroke-linecap="round"/>
<path d="M502.5,205.7 503,205.6 503.5,205.6 504,205.6 504.5,205.6 505,205.5 505.5,205.5 506,205.5 506.5,205.4 507,205.4 507.5,205.4 508,205.3 508.5,205.3 509,205.2 509.5,205.1 510,205.1 510.5,205 511,204.9 511.5,204.9 512,204.8 512.5,204.7 513,204.6 513.5,204.5 514,204.4 514.5,204.2 515,204.1 515.5,204 516,203.8 516.5,203.7 517,203.5 517.5,203.4 518,203.2 518.5,203 519,202.8 519.5,202.6 520,202.4 520.5,202.1 521,201.9 521.5,201.6 522,201.3 522.5,201.1 523,200.8 523.5,200.4 524,200.1 524.5,199.8 525,199.4 525.5,199 526,198.7 526.5,198.2 527,197.8 527.5,197.4 528,196.9 528.5,196.4 529,195.9 529.5,195.4 530,194.9 530.5,194.3 531,193.8 531.5,193.2 532,192.5 532.5,191.9 533,191.2 533.5,190.5 534,189.8 534.5,189.1 535,188.4 535.5,187.6 536,186.8 536.5,186 537,185.1 537.5,184.3 538,183.4 538.5,182.5 539,181.5 539.5,180.6 540,179.6 540.5,178.6 541,177.6 541.5,176.5 542,175.4 542.5,174.3 543,173.2 543.5,172.1 544,171 544.5,169.8 545,168.6 545.5,167.4 546,166.2 546.5,164.9 547,163.7 547.5,162.4 548,161.1 548.5,159.8 549,158.5 549.5,157.2 550,155.9 550.5,154.5 551,153.2 551.5,151.8 552,150.5 552.5,149.1 553,147.7 553.5,146.4 554,145 554.5,143.6 555,142.3 555.5,140.9 556,139.6 556.5,138.2 557,136.9 557.5,135.6 558,134.3 558.5,133 559,131.7 559.5,130.4 560,129.2 560.5,128 561,126.8 561.5,125.6 562,124.5 562.5,123.3 563,122.3 563.5,121.2 564,120.2 564.5,119.2 565,118.2 565.5,117.3 566,116.4 566.5,115.5 567,114.7 567.5,114 568,113.2 568.5,112.6 569,111.9 569.5,111.3 570,110.8 570.5,110.3 571,109.8 571.5,109.4 572,109.1 572.5,108.8 573,108.5 573.5,108.3 574,108.2 574.5,108.1 575,108 575.5,108 576,108.1 576.5,108.2 577,108.3 577.5,108.5 578,108.8 578.5,109.1 579,109.5 579.5,109.9 580,110.3 580.5,110.8 581,111.4 581.5,112 582,112.6 582.5,113.3 583,114.1 583.5,114.8 584,115.7 584.5,116.5 585,117.4 585.5,118.4 586,119.3 586.5,120.3 587,121.4 587.5,122.5 588,123.6 588.5,124.7 589,125.8 589.5,127 590,128.2 590.5,129.5 591,130.7 591.5,132 592,133.3 592.5,134.6 593,135.9 593.5,137.3 594,138.6 594.5,140 595,141.4 595.5,142.7 596,144.1 596.5,145.5 597,146.9 597.5,148.3 598,149.7 598.5,151 599,152.4 599.5,153.8 600,155.2 600.5,156.5 601,157.9 601.5,159.2 602,160.6 602.5,161.9 603,163.2 603.5,164.5 604,165.8 604.5,167.1 605,168.3 605.5,169.6 606,170.8 606.5,172 607,173.2 607.5,174.4 608,175.5 608.5,176.7 609,177.8 609.5,178.9 610,179.9 610.5,181 611,182 611.5,183 612,184 612.5,184.9 613,185.8 613.5,186.8 614,187.6 614.5,188.5 615,189.3 615.5,190.2 616,190.9 616.5,191.7 617,192.5 617.5,193.2 618,193.9 618.5,194.6 619,195.2 619.5,195.9 620,196.5 620.5,197.1 621,197.7 621.5,198.2 622,198.8 622.5,199.3 623,199.8 623.5,200.3 624,200.7 624.5,201.2 625,201.6 625.5,202 626,202.4 626.5,202.8 627,203.1 627.5,203.5 628,203.8 628.5,204.1 629,204.4 629.5,204.7 630,205 630.5,205.2 631,205.5 631.5,205.7 632,205.9 632.5,206.2 633,206.4 633.5,206.6 634,206.7 634.5,206.9 635,207.1 635.5,207.3 636,207.4 636.5,207.5 637,207.7 637.5,207.8 638,207.9 638.5,208.1 639,208.2 639.5,208.3 640,208.4 640.5,208.5 641,208.6 641.5,208.6 642,208.7 642.5,208.8 643,208.9 643.5,208.9 644,209 644.5,209.1 645,209.1 645.5,209.2 646,209.2 646.5,209.3 647,209.3 647.5,209.3 648,209.4" fill="none" stroke="#8cb83c" stroke-width="2.5" stroke-linejoin="round" stroke-linecap="round"/>
<path d="M562,207 562.5,207 563,207 563.5,206.9 564,206.9 564.5,206.9 565,206.8 565.5,206.8 566,206.7 566.5,206.7 567,206.6 567.5,206.6 568,206.5 568.5,206.4 569,206.4 569.5,206.3 570,206.2 570.5,206.1 571,206 571.5,205.9 572,205.8 572.5,205.7 573,205.6 573.5,205.5 574,205.4 574.5,205.2 575,205.1 575.5,204.9 576,204.7 576.5,204.6 577,204.4 577.5,204.2 578,204 578.5,203.7 579,203.5 579.5,203.2 580,203 580.5,202.7 581,202.4 581.5,202.1 582,201.8 582.5,201.4 583,201.1 583.5,200.7 584,200.3 584.5,199.9 585,199.4 585.5,198.9 586,198.5 586.5,197.9 587,197.4 587.5,196.8 588,196.2 588.5,195.6 589,195 589.5,194.3 590,193.6 590.5,192.9 591,192.1 591.5,191.3 592,190.4 592.5,189.6 593,188.7 593.5,187.7 594,186.7 594.5,185.7 595,184.7 595.5,183.6 596,182.4 596.5,181.2 597,180 597.5,178.7 598,177.4 598.5,176 599,174.6 599.5,173.2 600,171.7 600.5,170.1 601,168.5 601.5,166.8 602,165.1 602.5,163.4 603,161.6 603.5,159.8 604,157.9 604.5,155.9 605,153.9 605.5,151.9 606,149.8 606.5,147.6 607,145.4 607.5,143.2 608,140.9 608.5,138.5 609,136.2 609.5,133.7 610,131.3 610.5,128.7 611,126.2 611.5,123.6 612,121 612.5,118.3 613,115.6 613.5,112.9 614,110.1 614.5,107.3 615,104.5 615.5,101.6 616,98.8 616.5,95.9 617,93 617.5,90.1 618,87.2 618.5,84.3 619,81.4 619.5,78.5 620,75.7 620.5,72.8 621,69.9 621.5,67.1 622,64.3 622.5,61.5 623,58.8 623.5,56.1 624,53.5 624.5,50.9 625,48.4 625.5,45.9 626,43.5 626.5,41.2 627,39 627.5,36.8 628,34.8 628.5,32.9 629,31 629.5,29.3 630,27.7 630.5,26.2 631,24.9 631.5,23.7 632,22.7 632.5,21.9 633,21.2 633.5,20.8 634,20.6 634.5,20.7 635,21.1 635.5,21.7 636,22.4 636.5,23.3 637,24.3 637.5,25.4 638,26.6 638.5,28 639,29.4 639.5,31 640,32.7 640.5,34.4 641,36.2 641.5,38.1 642,40.1 642.5,42.2 643,44.3 643.5,46.5 644,48.7 644.5,51 645,53.3 645.5,55.7 646,58.1 646.5,60.6 647,63.1 647.5,65.6 648,68.1 648.5,70.7 649,73.3 649.5,75.9 650,78.5 650.5,81.1 651,83.8 651.5,86.4 652,89 652.5,91.7 653,94.3 653.5,96.9 654,99.5 654.5,102.1 655,104.7 655.5,107.3 656,109.8 656.5,112.3 657,114.8 657.5,117.3 658,119.7 658.5,122.2 659,124.6 659.5,126.9 660,129.2 660.5,131.5 661,133.8 661.5,136 662,138.2 662.5,140.4 663,142.5 663.5,144.6 664,146.6 664.5,148.6 665,150.6 665.5,152.5 666,154.4 666.5,156.2 667,158 667.5,159.8 668,161.5 668.5,163.2 669,164.8 669.5,166.4 670,168 670.5,169.5 671,171 671.5,172.4 672,173.8 672.5,175.2 673,176.5 673.5,177.8 674,179 674.5,180.2 675,181.4 675.5,182.5 676,183.6 676.5,184.7 677,185.7 677.5,186.7 678,187.7 678.5,188.6 679,189.5 679.5,190.4 680,191.2 680.5,192 681,192.8 681.5,193.6 682,194.3 682.5,195 683,195.7 683.5,196.3 684,196.9 684.5,197.5 685,198.1 685.5,198.7 686,199.2 686.5,199.7 687,200.2 687.5,200.6 688,201.1 688.5,201.5 689,201.9 689.5,202.3 690,202.7 690.5,203.1 691,203.4 691.5,203.8 692,204.1 692.5,204.4 693,204.7 693.5,204.9 694,205.2 694.5,205.5 695,205.7 695.5,205.9 696,206.1 696.5,206.3 697,206.5 697.5,206.7 698,206.9 698.5,207.1 699,207.2 699.5,207.4 700,207.5 700.5,207.7 701,207.8 701.5,207.9 702,208 702.5,208.2 703,208.3 703.5,208.4 704,208.5 704.5,208.5 705,208.6 705.5,208.7 706,208.8 706.5,208.9 707,208.9 707.5,209 708,209.1 708.5,209.1 709,209.2 709.5,209.2 710,209.3 710.5,209.3 711,209.4 711.5,209.4 712,209.4 712.5,209.5 713,209.5 713.5,209.5 714,209.6 714.5,209.6" fill="none" stroke="#c0393b" stroke-width="2.5" stroke-linejoin="round" stroke-linecap="round"/>
<path d="M453.5,202.7 454,202.7 454.5,202.8 455,203 455.5,203.1 456,203.3 456.5,203.4 457,203.5 457.5,203.6 458,203.8 458.5,203.8 459,203.9 459.5,204 460,204 460.5,204 461,204 461.5,204 462,204 462.5,204.1 463,204.1 463.5,204 464,204 464.5,204 465,204 465.5,204 466,204 466.5,204 467,204 467.5,204 468,204 468.5,204 469,204 469.5,204 470,204 470.5,204 471,204 471.5,204 472,204 472.5,204.1 473,204.2 473.5,204.3 474,204.5 474.5,204.8 475,205 475.5,205.2 476,205.5 476.5,205.7 477,205.8 477.5,205.9 478,206 478.5,206 479,205.8 479.5,205.5 480,205.2 480.5,204.9 481,204.6 481.5,204.3 482,204.1 482.5,204 483,204 483.5,204.1 484,204.2 484.5,204.3 485,204.4 485.5,204.5 486,204.6 486.5,204.7 487,204.8 487.5,204.9 488,204.9 488.5,204.9 489,204.7 489.5,204.5 490,204.2 490.5,203.9 491,203.6 491.5,203.3 492,203 492.5,202.8 493,202.7 493.5,202.7 494,202.8 494.5,202.9 495,203 495.5,203.2 496,203.3 496.5,203.5 497,203.7 497.5,203.8 498,203.9 498.5,204 499,204 499.5,204 500,204 500.5,204 501,204 501.5,204 502,204 502.5,204 503,204 503.5,204 504,204 504.5,204 505,204 505.5,204 506,204.2 506.5,204.6 507,204.9 507.5,205.2 508,205.3 508.5,205.2 509,204.8 509.5,204.4 510,203.9 510.5,203.3 511,202.6 511.5,202.1 512,201.5 512.5,201.1 513,200.8 513.5,200.7 514,200.6 514.5,200.7 515,200.7 515.5,200.8 516,200.9 516.5,201 517,201.1 517.5,201.1 518,201.1 518.5,201 519,200.8 519.5,200.4 520,199.9 520.5,199.4 521,198.7 521.5,198.1 522,197.4 522.5,196.8 523,196.2 523.5,195.7 524,195.3 524.5,195.2 525,195.4 525.5,195.9 526,196.4 526.5,196.7 527,196.8 527.5,196.5 528,196.2 528.5,195.7 529,195.3 529.5,194.8 530,194.3 530.5,193.8 531,193.2 531.5,192.6 532,192 532.5,191.3 533,190.6 533.5,189.9 534,189 534.5,188.2 535,187.4 535.5,186.5 536,185.7 536.5,184.8 537,184 537.5,183.2 538,182.5 538.5,181.7 539,181 539.5,180.2 540,179.5 540.5,178.7 541,177.9 541.5,177.1 542,176.3 542.5,175.6 543,174.9 543.5,174.2 544,173.4 544.5,172.5 545,171.5 545.5,170.4 546,169.3 546.5,168.1 547,166.9 547.5,165.7 548,164.5 548.5,163.2 549,162 549.5,160.9 550,159.9 550.5,158.9 551,158 551.5,157.1 552,156.2 552.5,155.2 553,154.2 553.5,153 554,151.6 554.5,149.9 555,147.9 555.5,145.7 556,143.6 556.5,141.3 557,138.8 557.5,136.1 558,133.7 558.5,131.9 559,130.7 559.5,129.7 560,129 560.5,128.3 561,127.8 561.5,127.1 562,126.4 562.5,125.4 563,124.3 563.5,123.1 564,121.8 564.5,120.6 565,119.3 565.5,118.1 566,117 566.5,115.9 567,114.9 567.5,114 568,113.1 568.5,112.3 569,111.5 569.5,110.7 570,110 570.5,109.3 571,108.6 571.5,108 572,107.4 572.5,106.9 573,106.4 573.5,105.9 574,105.6 574.5,105.3 575,105.2 575.5,105.1 576,105.2 576.5,105.4 577,105.7 577.5,106 578,106.3 578.5,106.6 579,106.8 579.5,106.9 580,106.9 580.5,106.7 581,106.3 581.5,105.9 582,105.5 582.5,105.2 583,105 583.5,105 584,105.2 584.5,105.7 585,106.5 585.5,107.5 586,108.5 586.5,109.6 587,110.6 587.5,111.4 588,112.2 588.5,113.1 589,113.9 589.5,114.6 590,115.3 590.5,115.8 591,116.3 591.5,116.7 592,117.1 592.5,117.5 593,117.9 593.5,118.2 594,118.5 594.5,118.9 595,119.5 595.5,120.5 596,121.7 596.5,122.9 597,124.1 597.5,125.4 598,127 598.5,128.5 599,129.7 599.5,130.6 600,130.8 600.5,130.4 601,129.6 601.5,128.6 602,127.4 602.5,126.3 603,125.4 603.5,124.6 604,123.8 604.5,122.9 605,121.9 605.5,121 606,119.9 606.5,118.9 607,117.8 607.5,116.6 608,115.5 608.5,114.2 609,113 609.5,111.6 610,110.3 610.5,108.8 611,107.3 611.5,105.8 612,104.2 612.5,102.6 613,101.1 613.5,99.5 614,97.7 614.5,95.8 615,93.8 615.5,91.6 616,89.4 616.5,87.1 617,84.7 617.5,82.3 618,79.8 618.5,77.3 619,74.7 619.5,72.1 620,69.4 620.5,66.8 621,64.1 621.5,61.3 622,58.3 622.5,55.2 623,51.8 623.5,48.5 624,45.1 624.5,41.8 625,38.7 625.5,35.9 626,33.3 626.5,31.2 627,29.4 627.5,27.7 628,26.2 628.5,24.8 629,23.6 629.5,22.4 630,21.5 630.5,20.6 631,19.9 631.5,19.2 632,18.7 632.5,18.3 633,18 633.5,17.8 634,17.7 634.5,17.9 635,18.1 635.5,18.3 636,18.6 636.5,19.1 637,19.6 637.5,20.2 638,20.9 638.5,21.8 639,22.9 639.5,24.1 640,25.6 640.5,27.3 641,29.2 641.5,31.3 642,33.5 642.5,35.8 643,38.3 643.5,40.8 644,43.3 644.5,46 645,48.6 645.5,51.3 646,54 646.5,56.7 647,59.3 647.5,62 648,64.5 648.5,67.1 649,69.6 649.5,72.1 650,74.5 650.5,77 651,79.4 651.5,81.9 652,84.3 652.5,86.7 653,89.2 653.5,91.7 654,94.2 654.5,96.8 655,99.3 655.5,101.9 656,104.6 656.5,107.2 657,109.8 657.5,112.4 658,115 658.5,117.6 659,120.1 659.5,122.6 660,125.1 660.5,127.6 661,130 661.5,132.3 662,134.6 662.5,136.9 663,139 663.5,141.2 664,143.3 664.5,145.4 665,147.4 665.5,149.4 666,151.3 666.5,153.2 667,155.1 667.5,156.9 668,158.8 668.5,160.6 669,162.4 669.5,164.4 670,166.7 670.5,169.3 671,171.9 671.5,174.7 672,177.3 672.5,179.9 673,182.3 673.5,184.4 674,186.1 674.5,187.5 675,188.8 675.5,190 676,191.2 676.5,192.3 677,193.4 677.5,194.4 678,195.4 678.5,196.3 679,197.2 679.5,198 680,198.8 680.5,199.6 681,200.4 681.5,201.1 682,201.5 682.5,201.7 683,201.7 683.5,201.7 684,201.5 684.5,201.5 685,201.5 685.5,201.6 686,201.6 686.5,201.6 687,201.6 687.5,201.5 688,201.5 688.5,201.5 689,201.5 689.5,201.6 690,201.7 690.5,202 691,202.3 691.5,202.6 692,202.9 692.5,203.3 693,203.6 693.5,203.9 694,204.2 694.5,204.5 695,204.9 695.5,205.3 696,205.8 696.5,206.2 697,206.6 697.5,206.7 698,206.9 698.5,207 699,207.1 699.5,207.1 700,207.2 700.5,207.3 701,207.3 701.5,207.3 702,207.3 702.5,207.2 703,207.2 703.5,207.1 704,207 704.5,207 705,206.9 705.5,206.8 706,206.7 706.5,206.7 707,206.6 707.5,206.6 708,206.6 708.5,206.6 709,206.6 709.5,206.6 710,206.8 710.5,207.3 711,207.8 711.5,208.4 712,209 712.5,209.4 713,209.7 713.5,209.7 714,209.7 714.5,209.7 715,209.7 715.5,209.7 716,209.7 716.5,209.7 717,209.7 717.5,209.6 718,209.6 718.5,209.6 719,209.5 719.5,209.5 720,209.5 720.5,209.5 721,209.4 721.5,209.4 722,209.4 722.5,209.4 723,209.4 723.5,209.5 724,209.6 724.5,209.7 725,209.9 725.5,210.1 726,210.2 726.5,210.3 727,210.3 727.5,210.3 728,210.3 728.5,210.3 729,210.3 729.5,210.3 730,210.3 730.5,210.3 731,210.3 731.5,210.3 732,210.3 732.5,210.3 733,210.3 733.5,210.3" fill="none" stroke="#8b3a0a" stroke-width="2" stroke-linejoin="round" stroke-linecap="round"/>
<path d="M453.5,202.8 454,202.8 454.5,202.6 455,203.1 455.5,203.4 456,203.3 456.5,203.2 457,203.2 457.5,203.4 458,203.4 458.5,203.7 459,203.9 459.5,204.3 460,204.1 460.5,204.2 461,204.1 461.5,204.4 462,204 462.5,203.9 463,203.8 463.5,203.8 464,204.1 464.5,204.1 465,204 465.5,203.9 466,203.8 466.5,204.1 467,204 467.5,203.9 468,204 468.5,204.5 469,204.9 469.5,204.7 470,204.3 470.5,204.3 471,204.2 471.5,204.1 472,203.8 472.5,204 473,204.1 473.5,204 474,203.9 474.5,204.4 475,204.7 475.5,205.2 476,205.4 476.5,205.8 477,205.9 477.5,206.1 478,205.9 478.5,205.8 479,205.4 479.5,205.5 480,205.2 480.5,205 481,204.4 481.5,204.1 482,204.1 482.5,203.8 483,203.7 483.5,203.6 484,204.3 484.5,204.8 485,204.9 485.5,204.7 486,205 486.5,205.1 487,205 487.5,205 488,205.1 488.5,205.3 489,204.8 489.5,204.8 490,204.7 490.5,204.6 491,204.1 491.5,203.2 492,202.9 492.5,202.6 493,202.9 493.5,202.9 494,202.9 494.5,202.6 495,202.7 495.5,202.8 496,203.2 496.5,203.2 497,203.4 497.5,203.3 498,203.7 498.5,203.8 499,204.4 499.5,204.6 500,204.6 500.5,204.1 501,203.6 501.5,203.4 502,203.6 502.5,203.8 503,203.6 503.5,203.8 504,203.5 504.5,203.9 505,203.8 505.5,204 506,204.1 506.5,204.4 507,204.7 507.5,204.7 508,204.9 508.5,205.2 509,205.5 509.5,205.2 510,204.5 510.5,203.5 511,202.9 511.5,202.2 512,201.7 512.5,201 513,200.8 513.5,200.6 514,200.6 514.5,200.4 515,200.5 515.5,201 516,201.2 516.5,201.4 517,201.1 517.5,201.3 518,201.1 518.5,200.9 519,200.7 519.5,200.6 520,200.1 520.5,199.7 521,198.9 521.5,198.2 522,197.2 522.5,197 523,196 523.5,195.5 524,194.8 524.5,195.1 525,195.6 525.5,196.3 526,196.4 526.5,196.8 527,196.7 527.5,196.5 528,196.1 528.5,195.6 529,194.9 529.5,194.2 530,193.6 530.5,193.3 531,192.9 531.5,192.6 532,192.4 532.5,191.6 533,190.6 533.5,189.4 534,188.5 534.5,187.7 535,187.1 535.5,186.3 536,185.3 536.5,184.5 537,183.8 537.5,183.4 538,182.5 538.5,181.9 539,181.1 539.5,180.5 540,179.7 540.5,179 541,178.1 541.5,177 542,176.1 542.5,175.3 543,174.9 543.5,173.9 544,173.4 544.5,172.6 545,171.6 545.5,170 546,168.8 546.5,167.8 547,166.7 547.5,165.6 548,164.3 548.5,163.3 549,161.9 549.5,160.9 550,159.9 550.5,159.5 551,158.4 551.5,157.3 552,155.8 552.5,155.2 553,154 553.5,152.9 554,151.3 554.5,149.6 555,147.6 555.5,145.3 556,143 556.5,140.7 557,138.1 557.5,135.9 558,133.7 558.5,131.6 559,130.3 559.5,129.5 560,129.1 560.5,128.6 561,127.7 561.5,127.1 562,126.2 562.5,125.2 563,123.8 563.5,123 564,122 564.5,121 565,119.5 565.5,118.4 566,116.9 566.5,115.9 567,115.2 567.5,114.5 568,113.6 568.5,112.3 569,111.4 569.5,110.9 570,110.2 570.5,109.1 571,108.2 571.5,107.7 572,107.4 572.5,107.1 573,106.7 573.5,106.3 574,105.6 574.5,105.4 575,105.5 575.5,105.8 576,105.8 576.5,105.6 577,106.1 577.5,106.2 578,106.4 578.5,106.5 579,107 579.5,107.1 580,107 580.5,106.6 581,106.4 581.5,105.9 582,105.4 582.5,105 583,105 583.5,105 584,105.2 584.5,105.6 585,106.4 585.5,107.4 586,108.2 586.5,109.6 587,111 587.5,112.3 588,112.9 588.5,113.5 589,114 589.5,114.8 590,115.6 590.5,115.9 591,116.5 591.5,116.6 592,117.5 592.5,117.8 593,118 593.5,118.2 594,118.6 594.5,119.1 595,119.7 595.5,120.5 596,121.4 596.5,122.6 597,124 597.5,125.7 598,127.1 598.5,128.7 599,129.9 599.5,130.6 600,130.6 600.5,130.4 601,129.5 601.5,128.7 602,127.3 602.5,126.2 603,125.3 603.5,124.6 604,123.7 604.5,122.6 605,121.8 605.5,121.3 606,120.2 606.5,119.1 607,117.9 607.5,116.7 608,115.5 608.5,114.2 609,112.9 609.5,111.5 610,110.2 610.5,108.8 611,107.3 611.5,105.7 612,104.2 612.5,102.7 613,101.3 613.5,99.7 614,98 614.5,96.2 615,94 615.5,91.9 616,89.4 616.5,87.3 617,85.1 617.5,82.5 618,79.7 618.5,77 619,74.7 619.5,72.3 620,69.6 620.5,66.9 621,64.2 621.5,61.4 622,58.5 622.5,55 623,51.8 623.5,48.2 624,45.1 624.5,41.8 625,38.7 625.5,35.8 626,33.2 626.5,31.1 627,29 627.5,27.4 628,26.1 628.5,24.9 629,23.7 629.5,22.6 630,21.6 630.5,20.7 631,19.9 631.5,19.4 632,18.8 632.5,18.3 633,17.9 633.5,17.8 634,17.6 634.5,17.9 635,18 635.5,18.4 636,18.6 636.5,19.1 637,19.5 637.5,20.2 638,21.1 638.5,22 639,23.3 639.5,24.5 640,25.8 640.5,27.3 641,29.2 641.5,31.3 642,33.6 642.5,35.8 643,38.1 643.5,40.5 644,42.9 644.5,45.8 645,48.4 645.5,51.2 646,53.8 646.5,56.6 647,59.2 647.5,61.7 648,64.1 648.5,66.6 649,69.2 649.5,71.9 650,74.5 650.5,77.1 651,79.2 651.5,81.8 652,84.2 652.5,86.7 653,89.2 653.5,91.9 654,94.5 654.5,97 655,99.3 655.5,101.9 656,104.5 656.5,107.3 657,109.8 657.5,112.7 658,115 658.5,117.5 659,120 659.5,122.7 660,125.1 660.5,127.4 661,129.7 661.5,132.2 662,134.7 662.5,137.2 663,139.3 663.5,141.1 664,143.1 664.5,145.3 665,147.3 665.5,149.3 666,151.2 666.5,153.3 667,155.2 667.5,156.9 668,158.5 668.5,160.2 669,161.9 669.5,164.2 670,166.5 670.5,169.3 671,172.1 671.5,175 672,177.5 672.5,180 673,182.4 673.5,184.5 674,186.1 674.5,187.3 675,188.5 675.5,190 676,191 676.5,192.1 677,193 677.5,194.2 678,195.3 678.5,196.3 679,197.2 679.5,198.1 680,198.7 680.5,199.5 681,200.1 681.5,201 682,201.5 682.5,201.6 683,201.6 683.5,201.6 684,201.6 684.5,201.5 685,201.7 685.5,201.9 686,201.9 686.5,201.7 687,201.7 687.5,201.9 688,201.8 688.5,201.6 689,201.5 689.5,201.5 690,201.6 690.5,202 691,202.2 691.5,202.6 692,202.7 692.5,203.1 693,203.4 693.5,203.8 694,204.2 694.5,204.6 695,205.1 695.5,205.5 696,205.9 696.5,206.3 697,206.5 697.5,206.8 698,206.8 698.5,207.1 699,207.1 699.5,207.2 700,207.1 700.5,207.1 701,207.2 701.5,207.2 702,207.3 702.5,207.2 703,207 703.5,206.7 704,206.5 704.5,206.7 705,206.8 705.5,207 706,206.8 706.5,206.5 707,206.6 707.5,206.7 708,206.8 708.5,206.7 709,206.9 709.5,207.1 710,207.2 710.5,207.4 711,207.9 711.5,208.4 712,208.9 712.5,209.2 713,209.5 713.5,209.6 714,209.6 714.5,210 715,209.9 715.5,209.9 716,209.6 716.5,209.7 717,209.8 717.5,209.7 718,209.6 718.5,209.3 719,209.2 719.5,209.3 720,209.4 720.5,209.4 721,209.3 721.5,209.3 722,209.4 722.5,209.4 723,209.4 723.5,209.2 724,209.2 724.5,209.6 725,209.7 725.5,210 726,210 726.5,210.2 727,210.2 727.5,210.2 728,210.2 728.5,210.3 729,210.1 729.5,210.1 730,210 730.5,210.2 731,210.2 731.5,210.4 732,210.5 732.5,210.4 733,210.4 733.5,210.4" fill="none" stroke="#ff0000" stroke-width="3.8" stroke-linejoin="round" stroke-linecap="round"/>
<text x="440.6" y="240.3" font-size="13.7" fill="#000" textLength="22.4" lengthAdjust="spacingAndGlyphs">165</text>
<text x="491.5" y="240.3" font-size="13.7" fill="#000" textLength="22.4" lengthAdjust="spacingAndGlyphs">164</text>
<text x="542.8" y="240.3" font-size="13.7" fill="#000" textLength="22.4" lengthAdjust="spacingAndGlyphs">163</text>
<text x="594" y="240.3" font-size="13.7" fill="#000" textLength="22.4" lengthAdjust="spacingAndGlyphs">162</text>
<text x="645" y="240.3" font-size="13.7" fill="#000" textLength="22.4" lengthAdjust="spacingAndGlyphs">161</text>
<text x="696.2" y="240.3" font-size="13.7" fill="#000" textLength="22.4" lengthAdjust="spacingAndGlyphs">160</text>
<text x="436.7" y="208.5" font-size="14.6" fill="#000" textLength="7.5" lengthAdjust="spacingAndGlyphs">2</text>
<text x="436.2" y="188.8" font-size="14.6" fill="#000" textLength="7.5" lengthAdjust="spacingAndGlyphs">4</text>
<text x="436.6" y="169.2" font-size="14.6" fill="#000" textLength="7.5" lengthAdjust="spacingAndGlyphs">6</text>
<text x="436.5" y="149.6" font-size="14.6" fill="#000" textLength="7.5" lengthAdjust="spacingAndGlyphs">8</text>
<text x="429.2" y="129.9" font-size="14.6" fill="#000" textLength="15" lengthAdjust="spacingAndGlyphs">10</text>
<text x="429.2" y="110.3" font-size="14.6" fill="#000" textLength="15" lengthAdjust="spacingAndGlyphs">12</text>
<text x="428.7" y="90.6" font-size="14.6" fill="#000" textLength="15" lengthAdjust="spacingAndGlyphs">14</text>
<text x="429.1" y="71" font-size="14.6" fill="#000" textLength="15" lengthAdjust="spacingAndGlyphs">16</text>
<text x="429.1" y="51.3" font-size="14.6" fill="#000" textLength="15" lengthAdjust="spacingAndGlyphs">18</text>
<text x="429.2" y="31.7" font-size="14.6" fill="#000" textLength="15" lengthAdjust="spacingAndGlyphs">20</text>
<text x="429.2" y="12" font-size="14.6" fill="#000" textLength="15" lengthAdjust="spacingAndGlyphs">22</text>
<text x="508.1" y="259.6" font-size="15.45" fill="#000" textLength="168.5" lengthAdjust="spacingAndGlyphs">Binding Energy (eV)</text>
<text transform="translate(420,127.3) rotate(-90)" x="0" y="0" font-size="17.43" textLength="72.9" lengthAdjust="spacingAndGlyphs">CPS x 10</text>
<text transform="translate(408.9,55) rotate(-90)" x="0" y="0" font-size="12.86" textLength="15.5" lengthAdjust="spacingAndGlyphs">-3</text>
<text x="461.6" y="21.8" font-size="17.71" fill="#000" textLength="41.8" lengthAdjust="spacingAndGlyphs">S 2p</text>
<text x="704.7" y="24.5" font-size="18.5" fill="#000" textLength="23.5" lengthAdjust="spacingAndGlyphs">(b)</text>
<text x="640.9" y="17.9" font-size="13.43" fill="#000" textLength="16" lengthAdjust="spacingAndGlyphs">2p</text>
<text x="658" y="20.5" font-size="8.55" fill="#000" textLength="15.3" lengthAdjust="spacingAndGlyphs">3/ 2</text>
<text x="553.9" y="97.6" font-size="13.71" fill="#000" textLength="16.3" lengthAdjust="spacingAndGlyphs">2p</text>
<text x="571.1" y="100.5" font-size="8.69" fill="#000" textLength="15.4" lengthAdjust="spacingAndGlyphs">1/ 2</text>
<line x1="61.6" y1="516.5" x2="61.6" y2="522" stroke="#000" stroke-width="2.1"/>
<line x1="76.8" y1="516.5" x2="76.8" y2="522" stroke="#000" stroke-width="2.1"/>
<line x1="107" y1="516.5" x2="107" y2="522" stroke="#000" stroke-width="2.1"/>
<line x1="122.2" y1="516.5" x2="122.2" y2="522" stroke="#000" stroke-width="2.1"/>
<line x1="137.3" y1="516.5" x2="137.3" y2="522" stroke="#000" stroke-width="2.1"/>
<line x1="167.6" y1="516.5" x2="167.6" y2="522" stroke="#000" stroke-width="2.1"/>
<line x1="182.7" y1="516.5" x2="182.7" y2="522" stroke="#000" stroke-width="2.1"/>
<line x1="197.8" y1="516.5" x2="197.8" y2="522" stroke="#000" stroke-width="2.1"/>
<line x1="228.1" y1="516.5" x2="228.1" y2="522" stroke="#000" stroke-width="2.1"/>
<line x1="243.2" y1="516.5" x2="243.2" y2="522" stroke="#000" stroke-width="2.1"/>
<line x1="258.3" y1="516.5" x2="258.3" y2="522" stroke="#000" stroke-width="2.1"/>
<line x1="288.6" y1="516.5" x2="288.6" y2="522" stroke="#000" stroke-width="2.1"/>
<line x1="303.7" y1="516.5" x2="303.7" y2="522" stroke="#000" stroke-width="2.1"/>
<line x1="318.9" y1="516.5" x2="318.9" y2="522" stroke="#000" stroke-width="2.1"/>
<line x1="349.1" y1="516.5" x2="349.1" y2="522" stroke="#000" stroke-width="2.1"/>
<line x1="364.2" y1="516.5" x2="364.2" y2="522" stroke="#000" stroke-width="2.1"/>
<line x1="91.9" y1="516.5" x2="91.9" y2="527" stroke="#000" stroke-width="2.1"/>
<line x1="152.4" y1="516.5" x2="152.4" y2="527" stroke="#000" stroke-width="2.1"/>
<line x1="212.9" y1="516.5" x2="212.9" y2="527" stroke="#000" stroke-width="2.1"/>
<line x1="273.5" y1="516.5" x2="273.5" y2="527" stroke="#000" stroke-width="2.1"/>
<line x1="334" y1="516.5" x2="334" y2="527" stroke="#000" stroke-width="2.1"/>
<line x1="61.5" y1="512.6" x2="56.8" y2="512.6" stroke="#000" stroke-width="2.1"/>
<line x1="61.5" y1="490.4" x2="56.8" y2="490.4" stroke="#000" stroke-width="2.1"/>
<line x1="61.5" y1="468.1" x2="56.8" y2="468.1" stroke="#000" stroke-width="2.1"/>
<line x1="61.5" y1="445.8" x2="56.8" y2="445.8" stroke="#000" stroke-width="2.1"/>
<line x1="61.5" y1="423.5" x2="56.8" y2="423.5" stroke="#000" stroke-width="2.1"/>
<line x1="61.5" y1="401.2" x2="56.8" y2="401.2" stroke="#000" stroke-width="2.1"/>
<line x1="61.5" y1="379" x2="56.8" y2="379" stroke="#000" stroke-width="2.1"/>
<line x1="61.5" y1="356.7" x2="56.8" y2="356.7" stroke="#000" stroke-width="2.1"/>
<line x1="61.5" y1="334.4" x2="56.8" y2="334.4" stroke="#000" stroke-width="2.1"/>
<line x1="61.5" y1="312.1" x2="56.8" y2="312.1" stroke="#000" stroke-width="2.1"/>
<line x1="61.5" y1="289.8" x2="56.8" y2="289.8" stroke="#000" stroke-width="2.1"/>
<line x1="61.5" y1="501.5" x2="52.8" y2="501.5" stroke="#000" stroke-width="2.1"/>
<line x1="61.5" y1="479.2" x2="52.8" y2="479.2" stroke="#000" stroke-width="2.1"/>
<line x1="61.5" y1="456.9" x2="52.8" y2="456.9" stroke="#000" stroke-width="2.1"/>
<line x1="61.5" y1="434.7" x2="52.8" y2="434.7" stroke="#000" stroke-width="2.1"/>
<line x1="61.5" y1="412.4" x2="52.8" y2="412.4" stroke="#000" stroke-width="2.1"/>
<line x1="61.5" y1="390.1" x2="52.8" y2="390.1" stroke="#000" stroke-width="2.1"/>
<line x1="61.5" y1="367.8" x2="52.8" y2="367.8" stroke="#000" stroke-width="2.1"/>
<line x1="61.5" y1="345.5" x2="52.8" y2="345.5" stroke="#000" stroke-width="2.1"/>
<line x1="61.5" y1="323.3" x2="52.8" y2="323.3" stroke="#000" stroke-width="2.1"/>
<line x1="61.5" y1="301" x2="52.8" y2="301" stroke="#000" stroke-width="2.1"/>
<path d="M62.5,501.5 63,501.5 63.5,501.6 64,501.6 64.5,501.6 65,501.6 65.5,501.6 66,501.6 66.5,501.7 67,501.7 67.5,501.7 68,501.7 68.5,501.7 69,501.7 69.5,501.8 70,501.8 70.5,501.8 71,501.8 71.5,501.8 72,501.8 72.5,501.9 73,501.9 73.5,501.9 74,501.9 74.5,501.9 75,502 75.5,502 76,502 76.5,502 77,502 77.5,502 78,502.1 78.5,502.1 79,502.1 79.5,502.1 80,502.1 80.5,502.1 81,502.2 81.5,502.2 82,502.2 82.5,502.2 83,502.2 83.5,502.2 84,502.3 84.5,502.3 85,502.3 85.5,502.3 86,502.3 86.5,502.4 87,502.4 87.5,502.4 88,502.4 88.5,502.4 89,502.4 89.5,502.5 90,502.5 90.5,502.5 91,502.5 91.5,502.5 92,502.5 92.5,502.6 93,502.6 93.5,502.6 94,502.6 94.5,502.6 95,502.6 95.5,502.7 96,502.7 96.5,502.7 97,502.7 97.5,502.7 98,502.7 98.5,502.8 99,502.8 99.5,502.8 100,502.8 100.5,502.8 101,502.9 101.5,502.9 102,502.9 102.5,502.9 103,502.9 103.5,502.9 104,503 104.5,503 105,503 105.5,503 106,503 106.5,503 107,503.1 107.5,503.1 108,503.1 108.5,503.1 109,503.1 109.5,503.1 110,503.2 110.5,503.2 111,503.2 111.5,503.2 112,503.2 112.5,503.2 113,503.3 113.5,503.3 114,503.3 114.5,503.3 115,503.3 115.5,503.3 116,503.4 116.5,503.4 117,503.4 117.5,503.4 118,503.4 118.5,503.4 119,503.5 119.5,503.5 120,503.5 120.5,503.5 121,503.5 121.5,503.6 122,503.6 122.5,503.6 123,503.6 123.5,503.6 124,503.6 124.5,503.7 125,503.7 125.5,503.7 126,503.7 126.5,503.7 127,503.7 127.5,503.8 128,503.8 128.5,503.8 129,503.8 129.5,503.8 130,503.8 130.5,503.9 131,503.9 131.5,503.9 132,503.9 132.5,503.9 133,503.9 133.5,504 134,504 134.5,504 135,504 135.5,504 136,504 136.5,504.1 137,504.1 137.5,504.1 138,504.1 138.5,504.1 139,504.1 139.5,504.2 140,504.2 140.5,504.2 141,504.2 141.5,504.2 142,504.2 142.5,504.3 143,504.3 143.5,504.3 144,504.3 144.5,504.3 145,504.3 145.5,504.3 146,504.4 146.5,504.4 147,504.4 147.5,504.4 148,504.4 148.5,504.4 149,504.5 149.5,504.5 150,504.5 150.5,504.5 151,504.5 151.5,504.5 152,504.6 152.5,504.6 153,504.6 153.5,504.6 154,504.6 154.5,504.6 155,504.7 155.5,504.7 156,504.7 156.5,504.7 157,504.7 157.5,504.7 158,504.8 158.5,504.8 159,504.8 159.5,504.8 160,504.8 160.5,504.8 161,504.9 161.5,504.9 162,504.9 162.5,504.9 163,504.9 163.5,504.9 164,505 164.5,505 165,505 165.5,505 166,505 166.5,505 167,505.1 167.5,505.1 168,505.1 168.5,505.1 169,505.1 169.5,505.1 170,505.2 170.5,505.2 171,505.2 171.5,505.2 172,505.2 172.5,505.2 173,505.3 173.5,505.3 174,505.3 174.5,505.3 175,505.3 175.5,505.3 176,505.4 176.5,505.4 177,505.4 177.5,505.4 178,505.4 178.5,505.4 179,505.5 179.5,505.5 180,505.5 180.5,505.5 181,505.5 181.5,505.6 182,505.6 182.5,505.6 183,505.6 183.5,505.6 184,505.6 184.5,505.7 185,505.7 185.5,505.7 186,505.7 186.5,505.7 187,505.7 187.5,505.8 188,505.8 188.5,505.8 189,505.8 189.5,505.8 190,505.8 190.5,505.9 191,505.9 191.5,505.9 192,505.9 192.5,505.9 193,506 193.5,506 194,506 194.5,506 195,506 195.5,506 196,506.1 196.5,506.1 197,506.1 197.5,506.1 198,506.1 198.5,506.1 199,506.2 199.5,506.2 200,506.2 200.5,506.2 201,506.2 201.5,506.3 202,506.3 202.5,506.3 203,506.3 203.5,506.3 204,506.3 204.5,506.4 205,506.4 205.5,506.4 206,506.4 206.5,506.4 207,506.5 207.5,506.5 208,506.5 208.5,506.5 209,506.5 209.5,506.5 210,506.6 210.5,506.6 211,506.6 211.5,506.6 212,506.6 212.5,506.6 213,506.7 213.5,506.7 214,506.7 214.5,506.7 215,506.7 215.5,506.8 216,506.8 216.5,506.8 217,506.8 217.5,506.8 218,506.8 218.5,506.9 219,506.9 219.5,506.9 220,506.9 220.5,506.9 221,507 221.5,507 222,507 222.5,507 223,507 223.5,507 224,507.1 224.5,507.1 225,507.1 225.5,507.1 226,507.1 226.5,507.1 227,507.2 227.5,507.2 228,507.2 228.5,507.2 229,507.2 229.5,507.2 230,507.3 230.5,507.3 231,507.3 231.5,507.3 232,507.3 232.5,507.3 233,507.4 233.5,507.4 234,507.4 234.5,507.4 235,507.4 235.5,507.5 236,507.5 236.5,507.5 237,507.5 237.5,507.5 238,507.5 238.5,507.6 239,507.6 239.5,507.6 240,507.6 240.5,507.6 241,507.6 241.5,507.7 242,507.7 242.5,507.7 243,507.7 243.5,507.7 244,507.7 244.5,507.8 245,507.8 245.5,507.8 246,507.8 246.5,507.8 247,507.8 247.5,507.9 248,507.9 248.5,507.9 249,507.9 249.5,507.9 250,508 250.5,508 251,508 251.5,508 252,508 252.5,508.1 253,508.1 253.5,508.1 254,508.1 254.5,508.1 255,508.2 255.5,508.2 256,508.2 256.5,508.2 257,508.2 257.5,508.3 258,508.3 258.5,508.3 259,508.3 259.5,508.3 260,508.4 260.5,508.4 261,508.4 261.5,508.4 262,508.4 262.5,508.4 263,508.5 263.5,508.5 264,508.5 264.5,508.5 265,508.5 265.5,508.6 266,508.6 266.5,508.6 267,508.6 267.5,508.6 268,508.6 268.5,508.7 269,508.7 269.5,508.7 270,508.7 270.5,508.7 271,508.7 271.5,508.7 272,508.8 272.5,508.8 273,508.8 273.5,508.8 274,508.8 274.5,508.8 275,508.8 275.5,508.8 276,508.9 276.5,508.9 277,508.9 277.5,508.9 278,508.9 278.5,508.9 279,508.9 279.5,508.9 280,508.9 280.5,508.9 281,509 281.5,509 282,509 282.5,509 283,509 283.5,509 284,509 284.5,509 285,509 285.5,509 286,509 286.5,509 287,509 287.5,509 288,509 288.5,509 289,509 289.5,509 290,509 290.5,509 291,509 291.5,509 292,509 292.5,509.1 293,509.1 293.5,509.1 294,509.1 294.5,509.1 295,509.1 295.5,509.1 296,509.1 296.5,509.1 297,509.1 297.5,509.1 298,509.1 298.5,509.1 299,509.1 299.5,509.1 300,509.1 300.5,509.1 301,509.1 301.5,509.1 302,509.1 302.5,509.1 303,509.1 303.5,509.1 304,509.1 304.5,509.1 305,509.1 305.5,509.1 306,509.1 306.5,509.1 307,509.1 307.5,509.1 308,509.1 308.5,509.1 309,509.2 309.5,509.2 310,509.2 310.5,509.2 311,509.2 311.5,509.2 312,509.2 312.5,509.2 313,509.2 313.5,509.2 314,509.2 314.5,509.2 315,509.2 315.5,509.2 316,509.2 316.5,509.2 317,509.2 317.5,509.2 318,509.2 318.5,509.2 319,509.2 319.5,509.2 320,509.2 320.5,509.2 321,509.2 321.5,509.2 322,509.2 322.5,509.2 323,509.2 323.5,509.2 324,509.2 324.5,509.2 325,509.2 325.5,509.2 326,509.2 326.5,509.2 327,509.2 327.5,509.2 328,509.2 328.5,509.2 329,509.2 329.5,509.2 330,509.2 330.5,509.2 331,509.2 331.5,509.2 332,509.2 332.5,509.3 333,509.3 333.5,509.3 334,509.3 334.5,509.3 335,509.3 335.5,509.3 336,509.3 336.5,509.3 337,509.3 337.5,509.3 338,509.3 338.5,509.3 339,509.3 339.5,509.3 340,509.3 340.5,509.3 341,509.3 341.5,509.3 342,509.3 342.5,509.3 343,509.3 343.5,509.3 344,509.3 344.5,509.3 345,509.3 345.5,509.3 346,509.3 346.5,509.3 347,509.3 347.5,509.3 348,509.3 348.5,509.3 349,509.3 349.5,509.3 350,509.3 350.5,509.3 351,509.3 351.5,509.3 352,509.3 352.5,509.3 353,509.3 353.5,509.3 354,509.3 354.5,509.3 355,509.3 355.5,509.3 356,509.3 356.5,509.3 357,509.3 357.5,509.3 358,509.3 358.5,509.3 359,509.3 359.5,509.3 360,509.3 360.5,509.3 361,509.3 361.5,509.3 362,509.3 362.5,509.3 363,509.3" fill="none" stroke="#8b3a0a" stroke-width="2.8" stroke-linejoin="round" stroke-linecap="round"/>
<path d="M101.5,502.5 102,502.4 102.5,502.4 103,502.4 103.5,502.4 104,502.3 104.5,502.3 105,502.2 105.5,502.2 106,502.1 106.5,502.1 107,502 107.5,502 108,501.9 108.5,501.8 109,501.7 109.5,501.6 110,501.5 110.5,501.4 111,501.3 111.5,501.2 112,501.1 112.5,501 113,500.8 113.5,500.7 114,500.5 114.5,500.4 115,500.2 115.5,500 116,499.9 116.5,499.7 117,499.5 117.5,499.3 118,499.1 118.5,498.9 119,498.7 119.5,498.5 120,498.2 120.5,498 121,497.8 121.5,497.6 122,497.3 122.5,497.1 123,496.8 123.5,496.6 124,496.4 124.5,496.1 125,495.9 125.5,495.6 126,495.4 126.5,495.2 127,494.9 127.5,494.7 128,494.5 128.5,494.3 129,494 129.5,493.8 130,493.6 130.5,493.5 131,493.3 131.5,493.1 132,493 132.5,492.8 133,492.7 133.5,492.6 134,492.4 134.5,492.4 135,492.3 135.5,492.2 136,492.2 136.5,492.1 137,492.1 137.5,492.1 138,492.1 138.5,492.1 139,492.2 139.5,492.2 140,492.3 140.5,492.4 141,492.5 141.5,492.6 142,492.7 142.5,492.9 143,493 143.5,493.2 144,493.4 144.5,493.5 145,493.7 145.5,494 146,494.2 146.5,494.4 147,494.6 147.5,494.9 148,495.1 148.5,495.4 149,495.7 149.5,495.9 150,496.2 150.5,496.5 151,496.7 151.5,497 152,497.3 152.5,497.6 153,497.8 153.5,498.1 154,498.4 154.5,498.7 155,498.9 155.5,499.2 156,499.4 156.5,499.7 157,500 157.5,500.2 158,500.4 158.5,500.7 159,500.9 159.5,501.1 160,501.3 160.5,501.5 161,501.7 161.5,501.9 162,502.1 162.5,502.3 163,502.5 163.5,502.7 164,502.8 164.5,503 165,503.1 165.5,503.3 166,503.4 166.5,503.5 167,503.7 167.5,503.8 168,503.9 168.5,504 169,504.1 169.5,504.2 170,504.3 170.5,504.4 171,504.4 171.5,504.5 172,504.6 172.5,504.7 173,504.7 173.5,504.8 174,504.9 174.5,504.9" fill="none" stroke="#8064a8" stroke-width="2.6" stroke-linejoin="round" stroke-linecap="round"/>
<path d="M139,503.7 139.5,503.7 140,503.7 140.5,503.7 141,503.6 141.5,503.6 142,503.6 142.5,503.5 143,503.5 143.5,503.4 144,503.4 144.5,503.3 145,503.2 145.5,503.2 146,503.1 146.5,503 147,502.9 147.5,502.8 148,502.7 148.5,502.6 149,502.5 149.5,502.4 150,502.3 150.5,502.1 151,502 151.5,501.9 152,501.7 152.5,501.5 153,501.4 153.5,501.2 154,501 154.5,500.8 155,500.6 155.5,500.4 156,500.2 156.5,500 157,499.8 157.5,499.5 158,499.3 158.5,499 159,498.8 159.5,498.5 160,498.3 160.5,498 161,497.7 161.5,497.5 162,497.2 162.5,496.9 163,496.6 163.5,496.3 164,496 164.5,495.8 165,495.5 165.5,495.2 166,494.9 166.5,494.6 167,494.3 167.5,494.1 168,493.8 168.5,493.5 169,493.3 169.5,493 170,492.8 170.5,492.6 171,492.3 171.5,492.1 172,491.9 172.5,491.7 173,491.5 173.5,491.4 174,491.2 174.5,491.1 175,490.9 175.5,490.8 176,490.7 176.5,490.6 177,490.6 177.5,490.5 178,490.5 178.5,490.5 179,490.5 179.5,490.5 180,490.5 180.5,490.6 181,490.6 181.5,490.7 182,490.8 182.5,490.9 183,491.1 183.5,491.2 184,491.4 184.5,491.5 185,491.7 185.5,491.9 186,492.1 186.5,492.4 187,492.6 187.5,492.8 188,493.1 188.5,493.4 189,493.6 189.5,493.9 190,494.2 190.5,494.5 191,494.8 191.5,495.1 192,495.4 192.5,495.8 193,496.1 193.5,496.4 194,496.7 194.5,497 195,497.4 195.5,497.7 196,498 196.5,498.3 197,498.6 197.5,498.9 198,499.2 198.5,499.5 199,499.8 199.5,500.1 200,500.4 200.5,500.7 201,501 201.5,501.2 202,501.5 202.5,501.8 203,502 203.5,502.2 204,502.5 204.5,502.7 205,502.9 205.5,503.1 206,503.3 206.5,503.5 207,503.7 207.5,503.9 208,504.1 208.5,504.3 209,504.4 209.5,504.6 210,504.7 210.5,504.9 211,505 211.5,505.1 212,505.2 212.5,505.4 213,505.5 213.5,505.6 214,505.7 214.5,505.8 215,505.9 215.5,505.9 216,506 216.5,506.1 217,506.2 217.5,506.2 218,506.3 218.5,506.4 219,506.4 219.5,506.5" fill="none" stroke="#4a7ec6" stroke-width="2.6" stroke-linejoin="round" stroke-linecap="round"/>
<path d="M168.5,504.7 169,504.7 169.5,504.7 170,504.6 170.5,504.6 171,504.6 171.5,504.5 172,504.5 172.5,504.4 173,504.4 173.5,504.4 174,504.3 174.5,504.2 175,504.2 175.5,504.1 176,504 176.5,503.9 177,503.8 177.5,503.7 178,503.6 178.5,503.5 179,503.4 179.5,503.3 180,503.1 180.5,503 181,502.8 181.5,502.7 182,502.5 182.5,502.3 183,502.1 183.5,501.9 184,501.7 184.5,501.5 185,501.2 185.5,501 186,500.7 186.5,500.4 187,500.1 187.5,499.8 188,499.5 188.5,499.1 189,498.8 189.5,498.4 190,498 190.5,497.6 191,497.2 191.5,496.8 192,496.3 192.5,495.8 193,495.3 193.5,494.8 194,494.3 194.5,493.8 195,493.2 195.5,492.6 196,492 196.5,491.4 197,490.8 197.5,490.1 198,489.5 198.5,488.8 199,488.1 199.5,487.4 200,486.6 200.5,485.9 201,485.1 201.5,484.3 202,483.6 202.5,482.7 203,481.9 203.5,481.1 204,480.3 204.5,479.4 205,478.5 205.5,477.7 206,476.8 206.5,475.9 207,475 207.5,474.1 208,473.3 208.5,472.4 209,471.5 209.5,470.6 210,469.7 210.5,468.8 211,467.9 211.5,467 212,466.2 212.5,465.3 213,464.5 213.5,463.6 214,462.8 214.5,462 215,461.2 215.5,460.4 216,459.7 216.5,458.9 217,458.2 217.5,457.6 218,456.9 218.5,456.3 219,455.7 219.5,455.1 220,454.5 220.5,454 221,453.5 221.5,453.1 222,452.7 222.5,452.3 223,451.9 223.5,451.6 224,451.4 224.5,451.1 225,451 225.5,450.8 226,450.7 226.5,450.6 227,450.6 227.5,450.6 228,450.6 228.5,450.7 229,450.8 229.5,451 230,451.2 230.5,451.4 231,451.7 231.5,452 232,452.4 232.5,452.8 233,453.2 233.5,453.7 234,454.2 234.5,454.7 235,455.3 235.5,455.9 236,456.5 236.5,457.1 237,457.8 237.5,458.5 238,459.3 238.5,460 239,460.8 239.5,461.6 240,462.4 240.5,463.2 241,464.1 241.5,464.9 242,465.8 242.5,466.7 243,467.6 243.5,468.5 244,469.4 244.5,470.3 245,471.3 245.5,472.2 246,473.1 246.5,474 247,475 247.5,475.9 248,476.8 248.5,477.8 249,478.7 249.5,479.6 250,480.5 250.5,481.4 251,482.3 251.5,483.1 252,484 252.5,484.8 253,485.7 253.5,486.5 254,487.3 254.5,488.1 255,488.9 255.5,489.7 256,490.4 256.5,491.1 257,491.8 257.5,492.5 258,493.2 258.5,493.9 259,494.5 259.5,495.2 260,495.8 260.5,496.4 261,496.9 261.5,497.5 262,498 262.5,498.5 263,499 263.5,499.5 264,500 264.5,500.4 265,500.9 265.5,501.3 266,501.7 266.5,502.1 267,502.4 267.5,502.8 268,503.1 268.5,503.5 269,503.8 269.5,504.1 270,504.4 270.5,504.6 271,504.9 271.5,505.1 272,505.4 272.5,505.6 273,505.8 273.5,506 274,506.2 274.5,506.4 275,506.5 275.5,506.7 276,506.9 276.5,507 277,507.1 277.5,507.3 278,507.4 278.5,507.5 279,507.6 279.5,507.7 280,507.8 280.5,507.9 281,508 281.5,508.1 282,508.1 282.5,508.2 283,508.3 283.5,508.3 284,508.4 284.5,508.4 285,508.5 285.5,508.5 286,508.6 286.5,508.6" fill="none" stroke="#8cb83c" stroke-width="2.6" stroke-linejoin="round" stroke-linecap="round"/>
<path d="M204,505.9 204.5,505.9 205,505.9 205.5,505.9 206,505.9 206.5,505.8 207,505.8 207.5,505.8 208,505.7 208.5,505.7 209,505.7 209.5,505.6 210,505.6 210.5,505.5 211,505.4 211.5,505.4 212,505.3 212.5,505.2 213,505.1 213.5,505 214,504.9 214.5,504.8 215,504.7 215.5,504.6 216,504.5 216.5,504.3 217,504.2 217.5,504 218,503.8 218.5,503.7 219,503.5 219.5,503.2 220,503 220.5,502.8 221,502.5 221.5,502.3 222,502 222.5,501.7 223,501.3 223.5,501 224,500.6 224.5,500.3 225,499.9 225.5,499.4 226,499 226.5,498.5 227,498 227.5,497.5 228,497 228.5,496.4 229,495.8 229.5,495.1 230,494.4 230.5,493.7 231,493 231.5,492.2 232,491.4 232.5,490.6 233,489.7 233.5,488.7 234,487.8 234.5,486.8 235,485.7 235.5,484.6 236,483.4 236.5,482.2 237,481 237.5,479.7 238,478.3 238.5,476.9 239,475.5 239.5,474 240,472.4 240.5,470.8 241,469.1 241.5,467.4 242,465.6 242.5,463.7 243,461.8 243.5,459.8 244,457.8 244.5,455.7 245,453.5 245.5,451.3 246,449 246.5,446.6 247,444.2 247.5,441.8 248,439.2 248.5,436.6 249,434 249.5,431.2 250,428.5 250.5,425.6 251,422.7 251.5,419.8 252,416.8 252.5,413.8 253,410.7 253.5,407.5 254,404.3 254.5,401.1 255,397.9 255.5,394.6 256,391.2 256.5,387.9 257,384.5 257.5,381.1 258,377.7 258.5,374.3 259,370.9 259.5,367.5 260,364 260.5,360.6 261,357.2 261.5,353.9 262,350.5 262.5,347.3 263,344 263.5,340.8 264,337.6 264.5,334.6 265,331.6 265.5,328.6 266,325.8 266.5,323.1 267,320.4 267.5,317.9 268,315.5 268.5,313.3 269,311.2 269.5,309.3 270,307.5 270.5,305.9 271,304.6 271.5,303.4 272,302.6 272.5,302 273,301.8 273.5,302.3 274,303.2 274.5,304.4 275,305.9 275.5,307.7 276,309.7 276.5,311.9 277,314.4 277.5,317 278,319.8 278.5,322.7 279,325.7 279.5,328.9 280,332.2 280.5,335.6 281,339.1 281.5,342.7 282,346.4 282.5,350.1 283,353.8 283.5,357.6 284,361.4 284.5,365.2 285,369.1 285.5,372.9 286,376.8 286.5,380.6 287,384.5 287.5,388.3 288,392.1 288.5,395.8 289,399.5 289.5,403.2 290,406.8 290.5,410.3 291,413.8 291.5,417.3 292,420.7 292.5,424 293,427.2 293.5,430.4 294,433.5 294.5,436.6 295,439.5 295.5,442.4 296,445.2 296.5,447.9 297,450.6 297.5,453.2 298,455.6 298.5,458.1 299,460.4 299.5,462.7 300,464.8 300.5,466.9 301,469 301.5,470.9 302,472.8 302.5,474.6 303,476.4 303.5,478.1 304,479.7 304.5,481.2 305,482.7 305.5,484.1 306,485.4 306.5,486.7 307,488 307.5,489.1 308,490.3 308.5,491.3 309,492.4 309.5,493.3 310,494.3 310.5,495.1 311,496 311.5,496.8 312,497.5 312.5,498.2 313,498.9 313.5,499.5 314,500.1 314.5,500.7 315,501.3 315.5,501.8 316,502.2 316.5,502.7 317,503.1 317.5,503.5 318,503.9 318.5,504.3 319,504.6 319.5,504.9 320,505.2 320.5,505.5 321,505.7 321.5,506 322,506.2 322.5,506.4 323,506.6 323.5,506.8 324,507 324.5,507.2 325,507.3 325.5,507.5 326,507.6 326.5,507.7 327,507.8 327.5,507.9 328,508 328.5,508.1 329,508.2 329.5,508.3 330,508.4 330.5,508.4 331,508.5 331.5,508.6 332,508.6 332.5,508.7 333,508.7 333.5,508.8 334,508.8 334.5,508.8" fill="none" stroke="#c0393b" stroke-width="2.6" stroke-linejoin="round" stroke-linecap="round"/>
<path d="M62.5,501 63,501 63.5,501 64,501 64.5,501 65,501 65.5,501 66,501 66.5,501 67,501 67.5,501 68,501 68.5,501 69,501 69.5,501 70,501 70.5,501 71,500.9 71.5,500.9 72,500.9 72.5,500.9 73,500.9 73.5,500.9 74,500.9 74.5,500.9 75,500.9 75.5,500.9 76,500.9 76.5,500.9 77,500.8 77.5,500.8 78,500.8 78.5,500.8 79,500.8 79.5,500.8 80,500.8 80.5,500.8 81,500.8 81.5,500.8 82,500.7 82.5,500.7 83,500.7 83.5,500.7 84,500.7 84.5,500.7 85,500.7 85.5,500.6 86,500.6 86.5,500.6 87,500.6 87.5,500.6 88,500.6 88.5,500.5 89,500.5 89.5,500.5 90,500.5 90.5,500.5 91,500.5 91.5,500.4 92,500.4 92.5,500.3 93,500.3 93.5,500.2 94,500.2 94.5,500.1 95,500.1 95.5,500 96,499.9 96.5,499.8 97,499.8 97.5,499.7 98,499.6 98.5,499.5 99,499.4 99.5,499.3 100,499.2 100.5,499.1 101,499 101.5,498.9 102,498.8 102.5,498.7 103,498.6 103.5,498.5 104,498.3 104.5,498.2 105,498.1 105.5,498 106,497.9 106.5,497.8 107,497.7 107.5,497.6 108,497.4 108.5,497.3 109,497.2 109.5,497.1 110,497 110.5,496.9 111,496.8 111.5,496.6 112,496.5 112.5,496.4 113,496.2 113.5,496.1 114,495.9 114.5,495.8 115,495.6 115.5,495.5 116,495.3 116.5,495.1 117,495 117.5,494.8 118,494.6 118.5,494.4 119,494.3 119.5,494.1 120,493.9 120.5,493.8 121,493.6 121.5,493.4 122,493.3 122.5,493.1 123,493 123.5,492.8 124,492.7 124.5,492.5 125,492.4 125.5,492.3 126,492.2 126.5,492 127,491.9 127.5,491.8 128,491.8 128.5,491.7 129,491.6 129.5,491.5 130,491.5 130.5,491.5 131,491.4 131.5,491.4 132,491.3 132.5,491.3 133,491.3 133.5,491.2 134,491.2 134.5,491.2 135,491.1 135.5,491.1 136,491.1 136.5,491 137,491 137.5,491 138,491 138.5,491 139,490.9 139.5,490.9 140,490.9 140.5,490.9 141,490.8 141.5,490.8 142,490.8 142.5,490.8 143,490.8 143.5,490.8 144,490.7 144.5,490.7 145,490.7 145.5,490.7 146,490.7 146.5,490.7 147,490.6 147.5,490.6 148,490.6 148.5,490.6 149,490.6 149.5,490.6 150,490.5 150.5,490.5 151,490.5 151.5,490.5 152,490.5 152.5,490.4 153,490.4 153.5,490.4 154,490.4 154.5,490.3 155,490.3 155.5,490.3 156,490.3 156.5,490.2 157,490.2 157.5,490.2 158,490.1 158.5,490.1 159,490.1 159.5,490 160,490 160.5,490 161,489.9 161.5,489.9 162,489.8 162.5,489.8 163,489.7 163.5,489.7 164,489.6 164.5,489.6 165,489.5 165.5,489.5 166,489.4 166.5,489.4 167,489.3 167.5,489.2 168,489.2 168.5,489.1 169,489 169.5,489 170,488.9 170.5,488.8 171,488.7 171.5,488.6 172,488.6 172.5,488.5 173,488.4 173.5,488.3 174,488.2 174.5,488.1 175,488 175.5,487.9 176,487.8 176.5,487.6 177,487.5 177.5,487.3 178,487.1 178.5,487 179,486.8 179.5,486.5 180,486.3 180.5,486.1 181,485.9 181.5,485.7 182,485.4 182.5,485.2 183,485 183.5,484.7 184,484.5 184.5,484.2 185,484 185.5,483.8 186,483.5 186.5,483.3 187,483.1 187.5,482.9 188,482.7 188.5,482.5 189,482.3 189.5,482.2 190,482 190.5,481.9 191,481.7 191.5,481.6 192,481.5 192.5,481.4 193,481.3 193.5,481.2 194,481.1 194.5,481 195,480.9 195.5,480.8 196,480.7 196.5,480.5 197,480.4 197.5,480.3 198,480.2 198.5,480 199,479.9 199.5,479.7 200,479.5 200.5,479.3 201,479 201.5,478.7 202,478.4 202.5,478 203,477.7 203.5,477.2 204,476.8 204.5,476.3 205,475.8 205.5,475.3 206,474.8 206.5,474.2 207,473.6 207.5,473 208,472.5 208.5,471.9 209,471.2 209.5,470.6 210,470 210.5,469.3 211,468.6 211.5,467.8 212,467 212.5,466.2 213,465.3 213.5,464.3 214,463.4 214.5,462.4 215,461.5 215.5,460.5 216,459.5 216.5,458.6 217,457.7 217.5,456.8 218,456 218.5,455.2 219,454.3 219.5,453.5 220,452.6 220.5,451.7 221,450.9 221.5,450 222,449.1 222.5,448.3 223,447.4 223.5,446.6 224,445.8 224.5,445.1 225,444.3 225.5,443.6 226,443 226.5,442.4 227,441.9 227.5,441.4 228,441 228.5,440.6 229,440.3 229.5,440 230,439.8 230.5,439.5 231,439.3 231.5,439.1 232,438.9 232.5,438.7 233,438.6 233.5,438.4 234,438.2 234.5,438.1 235,437.9 235.5,437.7 236,437.6 236.5,437.4 237,437.2 237.5,436.9 238,436.7 238.5,436.4 239,436.1 239.5,435.7 240,435.3 240.5,434.9 241,434.4 241.5,433.6 242,432.7 242.5,431.6 243,430.3 243.5,429 244,427.5 244.5,425.9 245,424.2 245.5,422.1 246,419.4 246.5,416.4 247,413.5 247.5,411.1 248,408.7 248.5,406.3 249,403.9 249.5,401.6 250,399.3 250.5,397.1 251,395 251.5,392.7 252,390.5 252.5,388.2 253,385.8 253.5,383.4 254,381 254.5,378.6 255,376.2 255.5,373.7 256,371.3 256.5,368.8 257,366.2 257.5,363.7 258,361.1 258.5,358.5 259,355.9 259.5,353.5 260,351 260.5,348.6 261,346.2 261.5,343.8 262,341.3 262.5,338.7 263,336 263.5,333.3 264,330.6 264.5,327.9 265,325.3 265.5,322.8 266,320.3 266.5,317.9 267,315.6 267.5,313.4 268,311.3 268.5,309.3 269,307.4 269.5,305.7 270,304.1 270.5,302.6 271,301.4 271.5,300.4 272,299.6 272.5,299.2 273,299.2 273.5,300.2 274,301.8 274.5,304 275,306.5 275.5,309.2 276,311.9 276.5,314.6 277,317.4 277.5,320.3 278,323.4 278.5,326.6 279,330 279.5,333.6 280,337.5 280.5,341.5 281,345.4 281.5,349.3 282,352.8 282.5,356.1 283,359.1 283.5,362.1 284,365 284.5,368.1 285,371.3 285.5,374.6 286,377.8 286.5,381 287,384.3 287.5,387.5 288,390.9 288.5,394.3 289,397.8 289.5,401.5 290,405.5 290.5,409.8 291,414.3 291.5,418.9 292,423.5 292.5,428 293,432.9 293.5,437.8 294,441.2 294.5,444.1 295,446.8 295.5,449.3 296,451.9 296.5,454.5 297,457.2 297.5,460 298,462.8 298.5,465.5 299,468.1 299.5,470.4 300,472.5 300.5,474.4 301,476.1 301.5,477.6 302,479.1 302.5,480.6 303,481.9 303.5,483.1 304,484.3 304.5,485.3 305,486.3 305.5,487.2 306,488 306.5,488.9 307,489.7 307.5,490.5 308,491.3 308.5,492 309,492.6 309.5,493.3 310,493.9 310.5,494.4 311,495 311.5,495.5 312,496.1 312.5,496.6 313,497.1 313.5,497.6 314,498.1 314.5,498.6 315,499 315.5,499.5 316,499.9 316.5,500.3 317,500.6 317.5,501 318,501.3 318.5,501.6 319,501.8 319.5,502 320,502.2 320.5,502.4 321,502.5 321.5,502.6 322,502.7 322.5,502.8 323,503 323.5,503.3 324,503.6 324.5,504.1 325,504.6 325.5,505 326,505.4 326.5,505.6 327,505.7 327.5,505.6 328,505.2 328.5,504.7 329,504 329.5,503.3 330,502.5 330.5,501.7 331,501 331.5,500.4 332,499.9 332.5,499.5 333,499.4 333.5,499.6 334,500.3 334.5,501.4 335,502.8 335.5,504.2 336,505.7 336.5,507.1 337,508.2 337.5,509 338,509.3 338.5,509.3 339,509.1 339.5,508.8 340,508.5 340.5,508.2 341,507.9 341.5,507.6 342,507.3 342.5,507.2 343,507.1 343.5,507.2 344,507.5 344.5,508 345,508.6 345.5,509.2 346,509.9 346.5,510.5 347,511.1 347.5,511.6 348,511.9 348.5,512.1 349,512 349.5,511.8 350,511.3 350.5,510.7 351,510 351.5,509.2 352,508.4 352.5,507.5 353,506.6 353.5,505.8 354,505 354.5,504.3 355,503.7 355.5,503.2 356,503 356.5,502.9 357,503.2 357.5,503.7 358,504.5 358.5,505.4 359,506.4 359.5,507.3 360,508.2 360.5,508.8 361,509.2 361.5,509.3 362,509.2 362.5,508.9 363,508.5" fill="none" stroke="#8b3a0a" stroke-width="2" stroke-linejoin="round" stroke-linecap="round"/>
<path d="M62.5,496.8 68,500.5 74.4,504 80.4,500.4 87.6,492 93.6,499 98.4,496.8 105.6,492 111.6,502.8 117.6,496.8 123.6,498 129.6,489.6 136.8,490.8 142.8,488.4 148.8,492 154.8,484.8 163.2,495.6 169.2,490.8 175.2,480 180,484.8 189.6,484.8 194.4,478.8 200.9,468.3 206.2,471 210.6,464.8 215,457.7 218.6,460.4 222.1,450.7 224.7,440.1 228.3,435.7 231.8,438.3 233.6,445.4 237.1,440.1 241,434 241.5,433 242,432 242.5,430.9 243,429.7 243.5,428.5 244,427.2 244.5,425.7 245,424.2 245.5,422.1 246,419.4 246.5,416.4 247,413.5 247.5,411.1 248,408.7 248.5,406.3 249,403.9 249.5,401.6 250,399.3 250.5,397.1 251,395 251.5,392.7 252,390.5 252.5,388.2 253,385.8 253.5,383.4 254,381 254.5,378.6 255,376.2 255.5,373.7 256,371.3 256.5,368.8 257,366.2 257.5,363.7 258,361.1 258.5,358.5 259,355.9 259.5,353.5 260,351 260.5,348.6 261,346.2 261.5,343.8 262,341.3 262.5,338.7 263,336 263.5,333.3 264,330.6 264.5,327.9 265,325.3 265.5,322.8 266,320.3 266.5,317.9 267,315.6 267.5,313.4 268,311.3 268.5,309.3 269,307.4 269.5,305.7 270,304.1 270.5,302.6 271,301.4 271.5,300.4 272,299.6 272.5,299.2 273,299.2 273.5,300.2 274,301.8 274.5,304 275,306.5 275.5,309.2 276,311.9 276.5,314.6 277,317.4 277.5,320.3 278,323.4 278.5,326.6 279,330 279.5,333.6 280,337.5 280.5,341.5 281,345.4 281.5,349.3 282,352.8 282.5,356.1 283,359.1 283.5,362.1 284,365 284.5,368.1 285,371.3 285.5,374.6 286,377.8 286.5,381 287,384.3 287.5,387.5 288,390.9 288.5,394.3 289,397.8 289.5,401.5 290,405.5 290.5,409.8 291,414.3 291.5,418.9 292,423.5 292.5,428 293,432.9 293.5,437.8 294,441.2 294.5,444.1 295,446.8 295.5,449.3 296,451.9 296.5,454.5 297,457.2 297.5,460 298,462.8 298.5,465.5 299,468.1 299.5,470.4 300,472.5 300.5,474.4 301,476.1 301.5,477.6 302,479.1 302.5,480.6 303,481.9 303.5,483.1 304,484.3 304.5,485.3 305,486.3 305.5,487.2 306,488 306.5,488.9 307,489.7 307.5,490.5 308,491.3 308.5,492 309,492.6 309.5,493.3 310,493.9 310.5,494.4 311,495 311.5,495.5 312,496.1 312.5,496.6 313,497.1 313.5,497.6 314,498.1 314.5,498.6 315,499 315.5,499.5 316,499.9 316.5,500.3 317,500.6 317.5,501 318,501.3 318.5,501.6 319,501.8 319.9,502.2 323,503 326.7,505.7 333.1,499.4 338,509.3 343,507.1 348.6,512.1 356.4,502.9 361.3,509.3 363.5,508" fill="none" stroke="#ff0000" stroke-width="3.4" stroke-linejoin="round" stroke-linecap="round"/>
<text x="78.7" y="541.2" font-size="16" fill="#000" textLength="24.2" lengthAdjust="spacingAndGlyphs">290</text>
<text x="139.1" y="541.2" font-size="16" fill="#000" textLength="24.2" lengthAdjust="spacingAndGlyphs">288</text>
<text x="199.7" y="541.2" font-size="16" fill="#000" textLength="24.2" lengthAdjust="spacingAndGlyphs">286</text>
<text x="260" y="541.2" font-size="16" fill="#000" textLength="24.2" lengthAdjust="spacingAndGlyphs">284</text>
<text x="320.7" y="541.2" font-size="16" fill="#000" textLength="24.2" lengthAdjust="spacingAndGlyphs">282</text>
<text x="37.6" y="499.5" font-size="14.9" fill="#000" textLength="15.8" lengthAdjust="spacingAndGlyphs">10</text>
<text x="37.6" y="477.2" font-size="14.9" fill="#000" textLength="15.8" lengthAdjust="spacingAndGlyphs">12</text>
<text x="37.1" y="454.9" font-size="14.9" fill="#000" textLength="15.8" lengthAdjust="spacingAndGlyphs">14</text>
<text x="37.5" y="432.7" font-size="14.9" fill="#000" textLength="15.8" lengthAdjust="spacingAndGlyphs">16</text>
<text x="37.5" y="410.4" font-size="14.9" fill="#000" textLength="15.8" lengthAdjust="spacingAndGlyphs">18</text>
<text x="37.6" y="388.1" font-size="14.9" fill="#000" textLength="15.8" lengthAdjust="spacingAndGlyphs">20</text>
<text x="37.6" y="365.8" font-size="14.9" fill="#000" textLength="15.8" lengthAdjust="spacingAndGlyphs">22</text>
<text x="37.1" y="343.5" font-size="14.9" fill="#000" textLength="15.8" lengthAdjust="spacingAndGlyphs">24</text>
<text x="37.5" y="321.3" font-size="14.9" fill="#000" textLength="15.8" lengthAdjust="spacingAndGlyphs">26</text>
<text x="37.5" y="299" font-size="14.9" fill="#000" textLength="15.8" lengthAdjust="spacingAndGlyphs">28</text>
<text x="120.8" y="560.8" font-size="17.1" fill="#000" textLength="181.6" lengthAdjust="spacingAndGlyphs">Binding Energy (eV)</text>
<text transform="translate(26.6,419.2) rotate(-90)" x="0" y="0" font-size="19.29" textLength="78.9" lengthAdjust="spacingAndGlyphs">CPS x 10</text>
<text transform="translate(16.6,339.9) rotate(-90)" x="0" y="0" font-size="17.86" textLength="15.3" lengthAdjust="spacingAndGlyphs">-3</text>
<text x="73.2" y="309.8" font-size="18.86" fill="#000" textLength="44.1" lengthAdjust="spacingAndGlyphs">C 1s</text>
<text x="328.9" y="310" font-size="17.33" fill="#000" textLength="24.1" lengthAdjust="spacingAndGlyphs">(c)</text>
<line x1="446.3" y1="509" x2="446.3" y2="514" stroke="#000" stroke-width="2.1"/>
<line x1="461.5" y1="509" x2="461.5" y2="514" stroke="#000" stroke-width="2.1"/>
<line x1="469.1" y1="509" x2="469.1" y2="514" stroke="#000" stroke-width="2.1"/>
<line x1="476.7" y1="509" x2="476.7" y2="514" stroke="#000" stroke-width="2.1"/>
<line x1="484.3" y1="509" x2="484.3" y2="514" stroke="#000" stroke-width="2.1"/>
<line x1="499.5" y1="509" x2="499.5" y2="514" stroke="#000" stroke-width="2.1"/>
<line x1="507.1" y1="509" x2="507.1" y2="514" stroke="#000" stroke-width="2.1"/>
<line x1="514.7" y1="509" x2="514.7" y2="514" stroke="#000" stroke-width="2.1"/>
<line x1="522.3" y1="509" x2="522.3" y2="514" stroke="#000" stroke-width="2.1"/>
<line x1="537.5" y1="509" x2="537.5" y2="514" stroke="#000" stroke-width="2.1"/>
<line x1="545.1" y1="509" x2="545.1" y2="514" stroke="#000" stroke-width="2.1"/>
<line x1="552.7" y1="509" x2="552.7" y2="514" stroke="#000" stroke-width="2.1"/>
<line x1="560.3" y1="509" x2="560.3" y2="514" stroke="#000" stroke-width="2.1"/>
<line x1="575.5" y1="509" x2="575.5" y2="514" stroke="#000" stroke-width="2.1"/>
<line x1="583.1" y1="509" x2="583.1" y2="514" stroke="#000" stroke-width="2.1"/>
<line x1="590.7" y1="509" x2="590.7" y2="514" stroke="#000" stroke-width="2.1"/>
<line x1="598.3" y1="509" x2="598.3" y2="514" stroke="#000" stroke-width="2.1"/>
<line x1="613.5" y1="509" x2="613.5" y2="514" stroke="#000" stroke-width="2.1"/>
<line x1="621.1" y1="509" x2="621.1" y2="514" stroke="#000" stroke-width="2.1"/>
<line x1="628.7" y1="509" x2="628.7" y2="514" stroke="#000" stroke-width="2.1"/>
<line x1="636.3" y1="509" x2="636.3" y2="514" stroke="#000" stroke-width="2.1"/>
<line x1="651.6" y1="509" x2="651.6" y2="514" stroke="#000" stroke-width="2.1"/>
<line x1="659.2" y1="509" x2="659.2" y2="514" stroke="#000" stroke-width="2.1"/>
<line x1="666.8" y1="509" x2="666.8" y2="514" stroke="#000" stroke-width="2.1"/>
<line x1="674.4" y1="509" x2="674.4" y2="514" stroke="#000" stroke-width="2.1"/>
<line x1="689.6" y1="509" x2="689.6" y2="514" stroke="#000" stroke-width="2.1"/>
<line x1="697.2" y1="509" x2="697.2" y2="514" stroke="#000" stroke-width="2.1"/>
<line x1="704.8" y1="509" x2="704.8" y2="514" stroke="#000" stroke-width="2.1"/>
<line x1="712.4" y1="509" x2="712.4" y2="514" stroke="#000" stroke-width="2.1"/>
<line x1="727.6" y1="509" x2="727.6" y2="514" stroke="#000" stroke-width="2.1"/>
<line x1="735.2" y1="509" x2="735.2" y2="514" stroke="#000" stroke-width="2.1"/>
<line x1="742.8" y1="509" x2="742.8" y2="514" stroke="#000" stroke-width="2.1"/>
<line x1="453.9" y1="509" x2="453.9" y2="518" stroke="#000" stroke-width="2.1"/>
<line x1="491.9" y1="509" x2="491.9" y2="518" stroke="#000" stroke-width="2.1"/>
<line x1="529.9" y1="509" x2="529.9" y2="518" stroke="#000" stroke-width="2.1"/>
<line x1="567.9" y1="509" x2="567.9" y2="518" stroke="#000" stroke-width="2.1"/>
<line x1="605.9" y1="509" x2="605.9" y2="518" stroke="#000" stroke-width="2.1"/>
<line x1="643.9" y1="509" x2="643.9" y2="518" stroke="#000" stroke-width="2.1"/>
<line x1="682" y1="509" x2="682" y2="518" stroke="#000" stroke-width="2.1"/>
<line x1="720" y1="509" x2="720" y2="518" stroke="#000" stroke-width="2.1"/>
<line x1="442.5" y1="504.8" x2="439.5" y2="504.8" stroke="#000" stroke-width="2.1"/>
<line x1="442.5" y1="496.6" x2="439.5" y2="496.6" stroke="#000" stroke-width="2.1"/>
<line x1="442.5" y1="492.6" x2="439.5" y2="492.6" stroke="#000" stroke-width="2.1"/>
<line x1="442.5" y1="488.5" x2="439.5" y2="488.5" stroke="#000" stroke-width="2.1"/>
<line x1="442.5" y1="484.5" x2="439.5" y2="484.5" stroke="#000" stroke-width="2.1"/>
<line x1="442.5" y1="476.3" x2="439.5" y2="476.3" stroke="#000" stroke-width="2.1"/>
<line x1="442.5" y1="472.3" x2="439.5" y2="472.3" stroke="#000" stroke-width="2.1"/>
<line x1="442.5" y1="468.2" x2="439.5" y2="468.2" stroke="#000" stroke-width="2.1"/>
<line x1="442.5" y1="464.2" x2="439.5" y2="464.2" stroke="#000" stroke-width="2.1"/>
<line x1="442.5" y1="456" x2="439.5" y2="456" stroke="#000" stroke-width="2.1"/>
<line x1="442.5" y1="452" x2="439.5" y2="452" stroke="#000" stroke-width="2.1"/>
<line x1="442.5" y1="447.9" x2="439.5" y2="447.9" stroke="#000" stroke-width="2.1"/>
<line x1="442.5" y1="443.9" x2="439.5" y2="443.9" stroke="#000" stroke-width="2.1"/>
<line x1="442.5" y1="435.7" x2="439.5" y2="435.7" stroke="#000" stroke-width="2.1"/>
<line x1="442.5" y1="431.7" x2="439.5" y2="431.7" stroke="#000" stroke-width="2.1"/>
<line x1="442.5" y1="427.6" x2="439.5" y2="427.6" stroke="#000" stroke-width="2.1"/>
<line x1="442.5" y1="423.6" x2="439.5" y2="423.6" stroke="#000" stroke-width="2.1"/>
<line x1="442.5" y1="415.4" x2="439.5" y2="415.4" stroke="#000" stroke-width="2.1"/>
<line x1="442.5" y1="411.4" x2="439.5" y2="411.4" stroke="#000" stroke-width="2.1"/>
<line x1="442.5" y1="407.3" x2="439.5" y2="407.3" stroke="#000" stroke-width="2.1"/>
<line x1="442.5" y1="403.3" x2="439.5" y2="403.3" stroke="#000" stroke-width="2.1"/>
<line x1="442.5" y1="395.1" x2="439.5" y2="395.1" stroke="#000" stroke-width="2.1"/>
<line x1="442.5" y1="391.1" x2="439.5" y2="391.1" stroke="#000" stroke-width="2.1"/>
<line x1="442.5" y1="387" x2="439.5" y2="387" stroke="#000" stroke-width="2.1"/>
<line x1="442.5" y1="383" x2="439.5" y2="383" stroke="#000" stroke-width="2.1"/>
<line x1="442.5" y1="374.8" x2="439.5" y2="374.8" stroke="#000" stroke-width="2.1"/>
<line x1="442.5" y1="370.8" x2="439.5" y2="370.8" stroke="#000" stroke-width="2.1"/>
<line x1="442.5" y1="366.7" x2="439.5" y2="366.7" stroke="#000" stroke-width="2.1"/>
<line x1="442.5" y1="362.7" x2="439.5" y2="362.7" stroke="#000" stroke-width="2.1"/>
<line x1="442.5" y1="354.5" x2="439.5" y2="354.5" stroke="#000" stroke-width="2.1"/>
<line x1="442.5" y1="350.5" x2="439.5" y2="350.5" stroke="#000" stroke-width="2.1"/>
<line x1="442.5" y1="346.4" x2="439.5" y2="346.4" stroke="#000" stroke-width="2.1"/>
<line x1="442.5" y1="342.4" x2="439.5" y2="342.4" stroke="#000" stroke-width="2.1"/>
<line x1="442.5" y1="334.2" x2="439.5" y2="334.2" stroke="#000" stroke-width="2.1"/>
<line x1="442.5" y1="330.2" x2="439.5" y2="330.2" stroke="#000" stroke-width="2.1"/>
<line x1="442.5" y1="326.1" x2="439.5" y2="326.1" stroke="#000" stroke-width="2.1"/>
<line x1="442.5" y1="322.1" x2="439.5" y2="322.1" stroke="#000" stroke-width="2.1"/>
<line x1="442.5" y1="313.9" x2="439.5" y2="313.9" stroke="#000" stroke-width="2.1"/>
<line x1="442.5" y1="309.9" x2="439.5" y2="309.9" stroke="#000" stroke-width="2.1"/>
<line x1="442.5" y1="305.8" x2="439.5" y2="305.8" stroke="#000" stroke-width="2.1"/>
<line x1="442.5" y1="301.8" x2="439.5" y2="301.8" stroke="#000" stroke-width="2.1"/>
<line x1="442.5" y1="293.6" x2="439.5" y2="293.6" stroke="#000" stroke-width="2.1"/>
<line x1="442.5" y1="289.6" x2="439.5" y2="289.6" stroke="#000" stroke-width="2.1"/>
<line x1="442.5" y1="500.7" x2="437" y2="500.7" stroke="#000" stroke-width="2.1"/>
<line x1="442.5" y1="480.4" x2="437" y2="480.4" stroke="#000" stroke-width="2.1"/>
<line x1="442.5" y1="460.1" x2="437" y2="460.1" stroke="#000" stroke-width="2.1"/>
<line x1="442.5" y1="439.8" x2="437" y2="439.8" stroke="#000" stroke-width="2.1"/>
<line x1="442.5" y1="419.5" x2="437" y2="419.5" stroke="#000" stroke-width="2.1"/>
<line x1="442.5" y1="399.2" x2="437" y2="399.2" stroke="#000" stroke-width="2.1"/>
<line x1="442.5" y1="378.9" x2="437" y2="378.9" stroke="#000" stroke-width="2.1"/>
<line x1="442.5" y1="358.6" x2="437" y2="358.6" stroke="#000" stroke-width="2.1"/>
<line x1="442.5" y1="338.3" x2="437" y2="338.3" stroke="#000" stroke-width="2.1"/>
<line x1="442.5" y1="318" x2="437" y2="318" stroke="#000" stroke-width="2.1"/>
<line x1="442.5" y1="297.7" x2="437" y2="297.7" stroke="#000" stroke-width="2.1"/>
<path d="M444,475.5 444.5,475.5 445,475.5 445.5,475.5 446,475.5 446.5,475.5 447,475.6 447.5,475.6 448,475.6 448.5,475.6 449,475.6 449.5,475.6 450,475.6 450.5,475.6 451,475.6 451.5,475.6 452,475.6 452.5,475.7 453,475.7 453.5,475.7 454,475.7 454.5,475.7 455,475.7 455.5,475.7 456,475.7 456.5,475.7 457,475.7 457.5,475.7 458,475.8 458.5,475.8 459,475.8 459.5,475.8 460,475.8 460.5,475.8 461,475.8 461.5,475.8 462,475.8 462.5,475.8 463,475.8 463.5,475.9 464,475.9 464.5,475.9 465,475.9 465.5,475.9 466,475.9 466.5,475.9 467,475.9 467.5,475.9 468,475.9 468.5,475.9 469,476 469.5,476 470,476 470.5,476 471,476 471.5,476 472,476 472.5,476 473,476 473.5,476 474,476 474.5,476.1 475,476.1 475.5,476.1 476,476.1 476.5,476.1 477,476.1 477.5,476.1 478,476.1 478.5,476.1 479,476.1 479.5,476.1 480,476.2 480.5,476.2 481,476.2 481.5,476.2 482,476.2 482.5,476.2 483,476.2 483.5,476.2 484,476.2 484.5,476.2 485,476.2 485.5,476.2 486,476.3 486.5,476.3 487,476.3 487.5,476.3 488,476.3 488.5,476.3 489,476.3 489.5,476.3 490,476.3 490.5,476.3 491,476.3 491.5,476.4 492,476.4 492.5,476.4 493,476.4 493.5,476.4 494,476.4 494.5,476.4 495,476.4 495.5,476.4 496,476.4 496.5,476.4 497,476.4 497.5,476.5 498,476.5 498.5,476.5 499,476.5 499.5,476.5 500,476.5 500.5,476.5 501,476.5 501.5,476.5 502,476.5 502.5,476.5 503,476.6 503.5,476.6 504,476.6 504.5,476.6 505,476.6 505.5,476.6 506,476.6 506.5,476.6 507,476.6 507.5,476.6 508,476.6 508.5,476.6 509,476.7 509.5,476.7 510,476.7 510.5,476.7 511,476.7 511.5,476.7 512,476.7 512.5,476.7 513,476.7 513.5,476.7 514,476.7 514.5,476.7 515,476.7 515.5,476.8 516,476.8 516.5,476.8 517,476.8 517.5,476.8 518,476.8 518.5,476.8 519,476.8 519.5,476.8 520,476.8 520.5,476.8 521,476.8 521.5,476.8 522,476.9 522.5,476.9 523,476.9 523.5,476.9 524,476.9 524.5,476.9 525,476.9 525.5,476.9 526,476.9 526.5,476.9 527,476.9 527.5,476.9 528,477 528.5,477 529,477 529.5,477 530,477 530.5,477 531,477 531.5,477 532,477 532.5,477 533,477 533.5,477 534,477 534.5,477.1 535,477.1 535.5,477.1 536,477.1 536.5,477.1 537,477.1 537.5,477.1 538,477.1 538.5,477.1 539,477.1 539.5,477.1 540,477.1 540.5,477.2 541,477.2 541.5,477.2 542,477.2 542.5,477.2 543,477.2 543.5,477.2 544,477.2 544.5,477.2 545,477.2 545.5,477.2 546,477.2 546.5,477.3 547,477.3 547.5,477.3 548,477.3 548.5,477.3 549,477.3 549.5,477.3 550,477.3 550.5,477.3 551,477.3 551.5,477.3 552,477.4 552.5,477.4 553,477.4 553.5,477.4 554,477.4 554.5,477.4 555,477.4 555.5,477.4 556,477.4 556.5,477.4 557,477.4 557.5,477.5 558,477.5 558.5,477.5 559,477.5 559.5,477.5 560,477.5 560.5,477.5 561,477.5 561.5,477.5 562,477.5 562.5,477.6 563,477.6 563.5,477.6 564,477.6 564.5,477.6 565,477.6 565.5,477.6 566,477.6 566.5,477.6 567,477.7 567.5,477.7 568,477.7 568.5,477.7 569,477.7 569.5,477.7 570,477.7 570.5,477.7 571,477.8 571.5,477.8 572,477.8 572.5,477.8 573,477.8 573.5,477.8 574,477.8 574.5,477.9 575,477.9 575.5,477.9 576,477.9 576.5,477.9 577,477.9 577.5,477.9 578,478 578.5,478 579,478 579.5,478 580,478 580.5,478 581,478 581.5,478.1 582,478.1 582.5,478.1 583,478.1 583.5,478.1 584,478.1 584.5,478.1 585,478.2 585.5,478.2 586,478.2 586.5,478.2 587,478.2 587.5,478.2 588,478.2 588.5,478.3 589,478.3 589.5,478.3 590,478.3 590.5,478.3 591,478.3 591.5,478.3 592,478.4 592.5,478.4 593,478.4 593.5,478.4 594,478.4 594.5,478.4 595,478.4 595.5,478.5 596,478.5 596.5,478.5 597,478.5 597.5,478.5 598,478.5 598.5,478.5 599,478.5 599.5,478.6 600,478.6 600.5,478.6 601,478.6 601.5,478.6 602,478.6 602.5,478.6 603,478.6 603.5,478.7 604,478.7 604.5,478.7 605,478.7 605.5,478.7 606,478.7 606.5,478.7 607,478.7 607.5,478.7 608,478.7 608.5,478.8 609,478.8 609.5,478.8 610,478.8 610.5,478.8 611,478.8 611.5,478.8 612,478.8 612.5,478.8 613,478.8 613.5,478.8 614,478.8 614.5,478.8 615,478.9 615.5,478.9 616,478.9 616.5,478.9 617,478.9 617.5,478.9 618,478.9 618.5,478.9 619,478.9 619.5,478.9 620,478.9 620.5,478.9 621,478.9 621.5,478.9 622,478.9 622.5,478.9 623,478.9 623.5,478.9 624,478.9 624.5,478.9 625,478.9 625.5,478.9 626,478.9 626.5,478.9 627,478.9 627.5,478.9 628,478.9 628.5,479 629,479 629.5,479 630,479 630.5,479 631,479 631.5,479 632,479 632.5,479 633,479 633.5,479 634,479 634.5,479 635,479 635.5,479 636,479 636.5,479 637,479 637.5,479 638,479 638.5,479 639,479 639.5,479 640,479 640.5,479 641,479 641.5,479 642,479 642.5,479 643,479 643.5,479 644,479 644.5,479 645,479 645.5,479 646,479 646.5,479 647,479 647.5,479.1 648,479.1 648.5,479.1 649,479.1 649.5,479.1 650,479.1 650.5,479.1 651,479.1 651.5,479.1 652,479.1 652.5,479.1 653,479.1 653.5,479.1 654,479.1 654.5,479.1 655,479.1 655.5,479.1 656,479.1 656.5,479.1 657,479.1 657.5,479.1 658,479.1 658.5,479.1 659,479.1 659.5,479.1 660,479.1 660.5,479.1 661,479.1 661.5,479.1 662,479.1 662.5,479.1 663,479.1 663.5,479.1 664,479.1 664.5,479.1 665,479.1 665.5,479.1 666,479.1 666.5,479.1 667,479.1 667.5,479.1 668,479.1 668.5,479.1 669,479.1 669.5,479.1 670,479.2 670.5,479.2 671,479.2 671.5,479.2 672,479.2 672.5,479.2 673,479.2 673.5,479.2 674,479.2 674.5,479.2 675,479.2 675.5,479.2 676,479.2 676.5,479.2 677,479.2 677.5,479.2 678,479.2 678.5,479.2 679,479.2 679.5,479.2 680,479.2 680.5,479.2 681,479.2 681.5,479.2 682,479.2 682.5,479.2 683,479.2 683.5,479.2 684,479.2 684.5,479.2 685,479.2 685.5,479.2 686,479.2 686.5,479.2 687,479.2 687.5,479.2 688,479.2 688.5,479.2 689,479.2 689.5,479.2 690,479.2 690.5,479.2 691,479.2 691.5,479.2 692,479.2 692.5,479.2 693,479.2 693.5,479.2 694,479.2 694.5,479.2 695,479.2 695.5,479.2 696,479.2 696.5,479.2 697,479.2 697.5,479.2 698,479.2 698.5,479.2 699,479.2 699.5,479.2 700,479.2 700.5,479.2 701,479.2 701.5,479.2 702,479.2 702.5,479.3 703,479.3 703.5,479.3 704,479.3 704.5,479.3 705,479.3 705.5,479.3 706,479.3 706.5,479.3 707,479.3 707.5,479.3 708,479.3 708.5,479.3 709,479.3 709.5,479.3 710,479.3 710.5,479.3 711,479.3 711.5,479.3 712,479.3 712.5,479.3 713,479.3 713.5,479.3 714,479.3 714.5,479.3 715,479.3 715.5,479.3 716,479.3 716.5,479.3 717,479.3 717.5,479.3 718,479.3 718.5,479.3 719,479.3 719.5,479.3 720,479.3 720.5,479.3 721,479.3 721.5,479.3 722,479.3 722.5,479.3 723,479.3 723.5,479.3 724,479.3 724.5,479.3 725,479.3 725.5,479.3 726,479.3 726.5,479.3 727,479.3 727.5,479.3 728,479.3 728.5,479.3 729,479.3 729.5,479.3 730,479.3 730.5,479.3 731,479.3 731.5,479.3 732,479.3 732.5,479.3 733,479.3 733.5,479.3 734,479.3 734.5,479.3 735,479.3 735.5,479.3 736,479.3 736.5,479.3 737,479.3 737.5,479.3 738,479.3 738.5,479.3 739,479.3 739.5,479.3 740,479.3 740.5,479.3 741,479.3 741.5,479.3 742,479.3 742.5,479.3 743,479.3 743.5,479.3 744,479.3 744.5,479.3 745,479.3 745.5,479.3" fill="none" stroke="#8b3a0a" stroke-width="2.6" stroke-linejoin="round" stroke-linecap="round"/>
<path d="M444,475.4 444.5,475.4 445,475.4 445.5,475.4 446,475.4 446.5,475.5 447,475.5 447.5,475.5 448,475.5 448.5,475.5 449,475.5 449.5,475.5 450,475.5 450.5,475.5 451,475.5 451.5,475.5 452,475.5 452.5,475.5 453,475.5 453.5,475.5 454,475.5 454.5,475.5 455,475.5 455.5,475.5 456,475.5 456.5,475.5 457,475.5 457.5,475.5 458,475.5 458.5,475.5 459,475.5 459.5,475.4 460,475.4 460.5,475.4 461,475.4 461.5,475.4 462,475.4 462.5,475.4 463,475.4 463.5,475.4 464,475.3 464.5,475.3 465,475.3 465.5,475.3 466,475.3 466.5,475.3 467,475.2 467.5,475.2 468,475.2 468.5,475.2 469,475.1 469.5,475.1 470,475.1 470.5,475 471,475 471.5,475 472,474.9 472.5,474.9 473,474.8 473.5,474.8 474,474.8 474.5,474.7 475,474.7 475.5,474.6 476,474.5 476.5,474.5 477,474.4 477.5,474.4 478,474.3 478.5,474.2 479,474.1 479.5,474.1 480,474 480.5,473.9 481,473.8 481.5,473.7 482,473.6 482.5,473.5 483,473.4 483.5,473.3 484,473.2 484.5,473.1 485,472.9 485.5,472.8 486,472.7 486.5,472.5 487,472.4 487.5,472.2 488,472.1 488.5,471.9 489,471.7 489.5,471.6 490,471.4 490.5,471.2 491,471 491.5,470.8 492,470.6 492.5,470.4 493,470.2 493.5,469.9 494,469.7 494.5,469.4 495,469.2 495.5,468.9 496,468.6 496.5,468.4 497,468.1 497.5,467.8 498,467.4 498.5,467.1 499,466.8 499.5,466.5 500,466.1 500.5,465.7 501,465.4 501.5,465 502,464.6 502.5,464.2 503,463.7 503.5,463.3 504,462.9 504.5,462.4 505,461.9 505.5,461.5 506,461 506.5,460.5 507,459.9 507.5,459.4 508,458.9 508.5,458.3 509,457.7 509.5,457.1 510,456.5 510.5,455.9 511,455.3 511.5,454.6 512,454 512.5,453.3 513,452.6 513.5,451.9 514,451.2 514.5,450.4 515,449.7 515.5,448.9 516,448.1 516.5,447.3 517,446.5 517.5,445.7 518,444.8 518.5,444 519,443.1 519.5,442.2 520,441.3 520.5,440.4 521,439.4 521.5,438.5 522,437.5 522.5,436.5 523,435.6 523.5,434.5 524,433.5 524.5,432.5 525,431.4 525.5,430.4 526,429.3 526.5,428.2 527,427.1 527.5,426 528,424.9 528.5,423.8 529,422.6 529.5,421.4 530,420.3 530.5,419.1 531,417.9 531.5,416.7 532,415.5 532.5,414.3 533,413.1 533.5,411.8 534,410.6 534.5,409.3 535,408.1 535.5,406.8 536,405.6 536.5,404.3 537,403 537.5,401.8 538,400.5 538.5,399.2 539,397.9 539.5,396.6 540,395.3 540.5,394.1 541,392.8 541.5,391.5 542,390.2 542.5,388.9 543,387.6 543.5,386.4 544,385.1 544.5,383.8 545,382.6 545.5,381.3 546,380 546.5,378.8 547,377.6 547.5,376.3 548,375.1 548.5,373.9 549,372.7 549.5,371.5 550,370.3 550.5,369.1 551,368 551.5,366.8 552,365.7 552.5,364.6 553,363.5 553.5,362.4 554,361.3 554.5,360.2 555,359.2 555.5,358.1 556,357.1 556.5,356.1 557,355.1 557.5,354.2 558,353.2 558.5,352.3 559,351.3 559.5,350.4 560,349.5 560.5,348.7 561,347.8 561.5,347 562,346.1 562.5,345.3 563,344.5 563.5,343.7 564,343 564.5,342.2 565,341.5 565.5,340.8 566,340.1 566.5,339.4 567,338.8 567.5,338.2 568,337.5 568.5,336.9 569,336.4 569.5,335.8 570,335.3 570.5,334.8 571,334.2 571.5,333.8 572,333.3 572.5,332.9 573,332.4 573.5,332 574,331.7 574.5,331.3 575,330.9 575.5,330.6 576,330.3 576.5,330 577,329.8 577.5,329.5 578,329.3 578.5,329.1 579,328.9 579.5,328.7 580,328.6 580.5,328.4 581,328.3 581.5,328.2 582,328.1 582.5,328.1 583,328 583.5,328 584,328 584.5,328 585,328 585.5,328 586,328.1 586.5,328.2 587,328.2 587.5,328.3 588,328.5 588.5,328.6 589,328.7 589.5,328.9 590,329.1 590.5,329.2 591,329.4 591.5,329.7 592,329.9 592.5,330.1 593,330.4 593.5,330.6 594,330.9 594.5,331.2 595,331.5 595.5,331.8 596,332.1 596.5,332.4 597,332.7 597.5,333.1 598,333.4 598.5,333.8 599,334.1 599.5,334.5 600,334.9 600.5,335.3 601,335.6 601.5,336 602,336.4 602.5,336.8 603,337.2 603.5,337.6 604,338.1 604.5,338.5 605,338.9 605.5,339.3 606,339.7 606.5,340.2 607,340.6 607.5,341 608,341.4 608.5,341.9 609,342.3 609.5,342.7 610,343.2 610.5,343.6 611,344 611.5,344.4 612,344.9 612.5,345.3 613,345.7 613.5,346.1 614,346.5 614.5,346.9 615,347.4 615.5,347.8 616,348.2 616.5,348.6 617,348.9 617.5,349.3 618,349.7 618.5,350.1 619,350.5 619.5,350.8 620,351.2 620.5,351.6 621,351.9 621.5,352.3 622,352.6 622.5,353 623,353.3 623.5,353.6 624,353.9 624.5,354.3 625,354.6 625.5,354.9 626,355.2 626.5,355.5 627,355.8 627.5,356.1 628,356.4 628.5,356.7 629,356.9 629.5,357.2 630,357.5 630.5,357.8 631,358 631.5,358.3 632,358.5 632.5,358.8 633,359 633.5,359.3 634,359.5 634.5,359.8 635,360 635.5,360.3 636,360.5 636.5,360.7 637,361 637.5,361.2 638,361.4 638.5,361.7 639,361.9 639.5,362.2 640,362.4 640.5,362.6 641,362.9 641.5,363.1 642,363.4 642.5,363.6 643,363.9 643.5,364.1 644,364.4 644.5,364.6 645,364.9 645.5,365.2 646,365.5 646.5,365.7 647,366 647.5,366.3 648,366.6 648.5,366.9 649,367.2 649.5,367.6 650,367.9 650.5,368.2 651,368.6 651.5,368.9 652,369.3 652.5,369.7 653,370 653.5,370.4 654,370.8 654.5,371.2 655,371.7 655.5,372.1 656,372.5 656.5,373 657,373.4 657.5,373.9 658,374.4 658.5,374.9 659,375.4 659.5,375.9 660,376.4 660.5,377 661,377.5 661.5,378.1 662,378.7 662.5,379.3 663,379.9 663.5,380.5 664,381.1 664.5,381.7 665,382.4 665.5,383 666,383.7 666.5,384.4 667,385.1 667.5,385.8 668,386.5 668.5,387.2 669,388 669.5,388.7 670,389.5 670.5,390.2 671,391 671.5,391.8 672,392.6 672.5,393.4 673,394.2 673.5,395.1 674,395.9 674.5,396.7 675,397.6 675.5,398.5 676,399.3 676.5,400.2 677,401.1 677.5,402 678,402.8 678.5,403.7 679,404.7 679.5,405.6 680,406.5 680.5,407.4 681,408.3 681.5,409.2 682,410.2 682.5,411.1 683,412 683.5,413 684,413.9 684.5,414.8 685,415.8 685.5,416.7 686,417.7 686.5,418.6 687,419.6 687.5,420.5 688,421.4 688.5,422.4 689,423.3 689.5,424.2 690,425.2 690.5,426.1 691,427 691.5,427.9 692,428.8 692.5,429.8 693,430.7 693.5,431.6 694,432.5 694.5,433.4 695,434.2 695.5,435.1 696,436 696.5,436.9 697,437.7 697.5,438.6 698,439.4 698.5,440.2 699,441.1 699.5,441.9 700,442.7 700.5,443.5 701,444.3 701.5,445.1 702,445.8 702.5,446.6 703,447.4 703.5,448.1 704,448.9 704.5,449.6 705,450.3 705.5,451 706,451.7 706.5,452.4 707,453.1 707.5,453.7 708,454.4 708.5,455 709,455.7 709.5,456.3 710,456.9 710.5,457.5 711,458.1 711.5,458.7 712,459.2 712.5,459.8 713,460.3 713.5,460.9 714,461.4 714.5,461.9 715,462.4 715.5,462.9 716,463.4 716.5,463.9 717,464.3 717.5,464.8 718,465.2 718.5,465.7 719,466.1 719.5,466.5 720,466.9 720.5,467.3 721,467.7 721.5,468.1 722,468.4 722.5,468.8 723,469.2 723.5,469.5 724,469.8 724.5,470.1 725,470.5 725.5,470.8 726,471.1 726.5,471.3 727,471.6 727.5,471.9 728,472.2 728.5,472.4 729,472.7 729.5,472.9 730,473.1 730.5,473.4 731,473.6 731.5,473.8 732,474 732.5,474.2 733,474.4 733.5,474.6 734,474.8 734.5,475 735,475.1 735.5,475.3 736,475.4 736.5,475.6 737,475.8 737.5,475.9 738,476 738.5,476.2 739,476.3 739.5,476.4 740,476.5 740.5,476.7 741,476.8 741.5,476.9 742,477 742.5,477.1 744.5,470 745.8,463" fill="none" stroke="#7a3a08" stroke-width="2.4" stroke-linejoin="round" stroke-linecap="round"/>
<path d="M478.5,475.7 479,475.7 479.5,475.7 480,475.7 480.5,475.7 481,475.6 481.5,475.6 482,475.6 482.5,475.6 483,475.5 483.5,475.5 484,475.5 484.5,475.4 485,475.4 485.5,475.4 486,475.3 486.5,475.3 487,475.2 487.5,475.2 488,475.2 488.5,475.1 489,475 489.5,475 490,474.9 490.5,474.9 491,474.8 491.5,474.7 492,474.7 492.5,474.6 493,474.5 493.5,474.4 494,474.3 494.5,474.2 495,474.2 495.5,474.1 496,474 496.5,473.8 497,473.7 497.5,473.6 498,473.5 498.5,473.4 499,473.2 499.5,473.1 500,473 500.5,472.8 501,472.7 501.5,472.5 502,472.4 502.5,472.2 503,472 503.5,471.9 504,471.7 504.5,471.5 505,471.3 505.5,471.1 506,470.9 506.5,470.7 507,470.4 507.5,470.2 508,470 508.5,469.8 509,469.5 509.5,469.3 510,469 510.5,468.7 511,468.5 511.5,468.2 512,467.9 512.5,467.6 513,467.3 513.5,467 514,466.7 514.5,466.4 515,466 515.5,465.7 516,465.4 516.5,465 517,464.7 517.5,464.3 518,463.9 518.5,463.6 519,463.2 519.5,462.8 520,462.4 520.5,462 521,461.6 521.5,461.2 522,460.8 522.5,460.4 523,460 523.5,459.5 524,459.1 524.5,458.7 525,458.2 525.5,457.8 526,457.3 526.5,456.9 527,456.4 527.5,456 528,455.5 528.5,455 529,454.6 529.5,454.1 530,453.6 530.5,453.2 531,452.7 531.5,452.2 532,451.8 532.5,451.3 533,450.8 533.5,450.4 534,449.9 534.5,449.4 535,449 535.5,448.5 536,448 536.5,447.6 537,447.1 537.5,446.7 538,446.3 538.5,445.8 539,445.4 539.5,445 540,444.5 540.5,444.1 541,443.7 541.5,443.3 542,442.9 542.5,442.5 543,442.2 543.5,441.8 544,441.5 544.5,441.1 545,440.8 545.5,440.4 546,440.1 546.5,439.8 547,439.5 547.5,439.3 548,439 548.5,438.7 549,438.5 549.5,438.2 550,438 550.5,437.8 551,437.6 551.5,437.5 552,437.3 552.5,437.1 553,437 553.5,436.9 554,436.8 554.5,436.7 555,436.6 555.5,436.5 556,436.5 556.5,436.5 557,436.5 557.5,436.5 558,436.5 558.5,436.5 559,436.5 559.5,436.6 560,436.6 560.5,436.7 561,436.8 561.5,436.9 562,437 562.5,437.1 563,437.2 563.5,437.4 564,437.5 564.5,437.7 565,437.8 565.5,438 566,438.2 566.5,438.4 567,438.6 567.5,438.8 568,439.1 568.5,439.3 569,439.6 569.5,439.8 570,440.1 570.5,440.4 571,440.6 571.5,440.9 572,441.2 572.5,441.6 573,441.9 573.5,442.2 574,442.5 574.5,442.9 575,443.2 575.5,443.6 576,443.9 576.5,444.3 577,444.7 577.5,445 578,445.4 578.5,445.8 579,446.2 579.5,446.6 580,447 580.5,447.4 581,447.8 581.5,448.2 582,448.6 582.5,449 583,449.4 583.5,449.9 584,450.3 584.5,450.7 585,451.1 585.5,451.6 586,452 586.5,452.4 587,452.8 587.5,453.3 588,453.7 588.5,454.1 589,454.6 589.5,455 590,455.4 590.5,455.8 591,456.3 591.5,456.7 592,457.1 592.5,457.5 593,457.9 593.5,458.4 594,458.8 594.5,459.2 595,459.6 595.5,460 596,460.4 596.5,460.8 597,461.2 597.5,461.6 598,462 598.5,462.3 599,462.7 599.5,463.1 600,463.5 600.5,463.8 601,464.2 601.5,464.6 602,464.9 602.5,465.3 603,465.6 603.5,465.9 604,466.3 604.5,466.6 605,466.9 605.5,467.2 606,467.5 606.5,467.9 607,468.2 607.5,468.5 608,468.7 608.5,469 609,469.3 609.5,469.6 610,469.9 610.5,470.1 611,470.4 611.5,470.6 612,470.9 612.5,471.1 613,471.4 613.5,471.6 614,471.8 614.5,472.1 615,472.3 615.5,472.5 616,472.7 616.5,472.9 617,473.1 617.5,473.3 618,473.5 618.5,473.7 619,473.8 619.5,474 620,474.2 620.5,474.4 621,474.5 621.5,474.7 622,474.8 622.5,475 623,475.1 623.5,475.2 624,475.4 624.5,475.5 625,475.6 625.5,475.8 626,475.9 626.5,476 627,476.1 627.5,476.2 628,476.3 628.5,476.4 629,476.5 629.5,476.6 630,476.7 630.5,476.8 631,476.9 631.5,477 632,477.1 632.5,477.2 633,477.2 633.5,477.3 634,477.4 634.5,477.4 635,477.5 635.5,477.6 636,477.6 636.5,477.7 637,477.8 637.5,477.8 638,477.9 638.5,477.9 639,478 639.5,478 640,478.1 640.5,478.1 641,478.2 641.5,478.2 642,478.2 642.5,478.3 643,478.3 643.5,478.4 644,478.4 644.5,478.4 645,478.5 645.5,478.5 646,478.5 646.5,478.5 647,478.6 647.5,478.6 648,478.6 648.5,478.6" fill="none" stroke="#4a7ec6" stroke-width="2.2" stroke-linejoin="round" stroke-linecap="round"/>
<path d="M463,475.4 463.5,475.4 464,475.4 464.5,475.4 465,475.4 465.5,475.4 466,475.4 466.5,475.3 467,475.3 467.5,475.3 468,475.3 468.5,475.3 469,475.3 469.5,475.2 470,475.2 470.5,475.2 471,475.2 471.5,475.1 472,475.1 472.5,475.1 473,475.1 473.5,475 474,475 474.5,475 475,474.9 475.5,474.9 476,474.8 476.5,474.8 477,474.8 477.5,474.7 478,474.7 478.5,474.6 479,474.6 479.5,474.5 480,474.5 480.5,474.4 481,474.3 481.5,474.3 482,474.2 482.5,474.1 483,474.1 483.5,474 484,473.9 484.5,473.8 485,473.8 485.5,473.7 486,473.6 486.5,473.5 487,473.4 487.5,473.3 488,473.2 488.5,473.1 489,473 489.5,472.9 490,472.8 490.5,472.7 491,472.6 491.5,472.4 492,472.3 492.5,472.2 493,472 493.5,471.9 494,471.7 494.5,471.6 495,471.4 495.5,471.3 496,471.1 496.5,470.9 497,470.8 497.5,470.6 498,470.4 498.5,470.2 499,470 499.5,469.8 500,469.6 500.5,469.4 501,469.2 501.5,469 502,468.7 502.5,468.5 503,468.3 503.5,468 504,467.8 504.5,467.5 505,467.2 505.5,467 506,466.7 506.5,466.4 507,466.1 507.5,465.8 508,465.5 508.5,465.2 509,464.9 509.5,464.5 510,464.2 510.5,463.8 511,463.5 511.5,463.1 512,462.8 512.5,462.4 513,462 513.5,461.6 514,461.2 514.5,460.8 515,460.4 515.5,459.9 516,459.5 516.5,459.1 517,458.6 517.5,458.1 518,457.7 518.5,457.2 519,456.7 519.5,456.2 520,455.7 520.5,455.2 521,454.7 521.5,454.1 522,453.6 522.5,453 523,452.5 523.5,451.9 524,451.3 524.5,450.7 525,450.1 525.5,449.5 526,448.9 526.5,448.3 527,447.6 527.5,447 528,446.3 528.5,445.7 529,445 529.5,444.3 530,443.6 530.5,442.9 531,442.2 531.5,441.5 532,440.8 532.5,440 533,439.3 533.5,438.5 534,437.8 534.5,437 535,436.2 535.5,435.4 536,434.6 536.5,433.8 537,433 537.5,432.2 538,431.4 538.5,430.5 539,429.7 539.5,428.8 540,428 540.5,427.1 541,426.2 541.5,425.4 542,424.5 542.5,423.6 543,422.7 543.5,421.8 544,420.9 544.5,420 545,419.1 545.5,418.2 546,417.2 546.5,416.3 547,415.4 547.5,414.4 548,413.5 548.5,412.6 549,411.6 549.5,410.7 550,409.7 550.5,408.8 551,407.8 551.5,406.8 552,405.9 552.5,404.9 553,404 553.5,403 554,402.1 554.5,401.1 555,400.2 555.5,399.2 556,398.3 556.5,397.3 557,396.4 557.5,395.4 558,394.5 558.5,393.5 559,392.6 559.5,391.7 560,390.8 560.5,389.8 561,388.9 561.5,388 562,387.1 562.5,386.2 563,385.3 563.5,384.4 564,383.6 564.5,382.7 565,381.9 565.5,381 566,380.2 566.5,379.4 567,378.5 567.5,377.7 568,376.9 568.5,376.1 569,375.4 569.5,374.6 570,373.9 570.5,373.1 571,372.4 571.5,371.7 572,371 572.5,370.3 573,369.7 573.5,369 574,368.4 574.5,367.7 575,367.1 575.5,366.5 576,366 576.5,365.4 577,364.9 577.5,364.3 578,363.8 578.5,363.3 579,362.9 579.5,362.4 580,362 580.5,361.6 581,361.2 581.5,360.8 582,360.4 582.5,360.1 583,359.7 583.5,359.4 584,359.2 584.5,358.9 585,358.7 585.5,358.4 586,358.2 586.5,358 587,357.9 587.5,357.7 588,357.6 588.5,357.5 589,357.4 589.5,357.4 590,357.3 590.5,357.3 591,357.3 591.5,357.4 592,357.4 592.5,357.5 593,357.6 593.5,357.7 594,357.8 594.5,357.9 595,358.1 595.5,358.3 596,358.5 596.5,358.7 597,359 597.5,359.3 598,359.6 598.5,359.9 599,360.2 599.5,360.5 600,360.9 600.5,361.3 601,361.7 601.5,362.1 602,362.6 602.5,363 603,363.5 603.5,364 604,364.5 604.5,365.1 605,365.6 605.5,366.2 606,366.8 606.5,367.4 607,368 607.5,368.6 608,369.3 608.5,369.9 609,370.6 609.5,371.3 610,372 610.5,372.7 611,373.4 611.5,374.2 612,374.9 612.5,375.7 613,376.5 613.5,377.3 614,378.1 614.5,378.9 615,379.7 615.5,380.6 616,381.4 616.5,382.3 617,383.1 617.5,384 618,384.9 618.5,385.8 619,386.7 619.5,387.6 620,388.5 620.5,389.4 621,390.3 621.5,391.2 622,392.2 622.5,393.1 623,394 623.5,395 624,395.9 624.5,396.9 625,397.8 625.5,398.8 626,399.8 626.5,400.7 627,401.7 627.5,402.7 628,403.6 628.5,404.6 629,405.6 629.5,406.5 630,407.5 630.5,408.5 631,409.4 631.5,410.4 632,411.4 632.5,412.3 633,413.3 633.5,414.2 634,415.2 634.5,416.1 635,417.1 635.5,418 636,419 636.5,419.9 637,420.8 637.5,421.8 638,422.7 638.5,423.6 639,424.5 639.5,425.4 640,426.3 640.5,427.2 641,428.1 641.5,429 642,429.9 642.5,430.7 643,431.6 643.5,432.4 644,433.3 644.5,434.1 645,435 645.5,435.8 646,436.6 646.5,437.4 647,438.2 647.5,439 648,439.8 648.5,440.5 649,441.3 649.5,442.1 650,442.8 650.5,443.6 651,444.3 651.5,445 652,445.7 652.5,446.4 653,447.1 653.5,447.8 654,448.5 654.5,449.1 655,449.8 655.5,450.4 656,451.1 656.5,451.7 657,452.3 657.5,452.9 658,453.5 658.5,454.1 659,454.7 659.5,455.3 660,455.8 660.5,456.4 661,456.9 661.5,457.5 662,458 662.5,458.5 663,459 663.5,459.5 664,460 664.5,460.5 665,461 665.5,461.4 666,461.9 666.5,462.3 667,462.8 667.5,463.2 668,463.6 668.5,464 669,464.4 669.5,464.8 670,465.2 670.5,465.6 671,466 671.5,466.3 672,466.7 672.5,467 673,467.4 673.5,467.7 674,468 674.5,468.3 675,468.7 675.5,469 676,469.3 676.5,469.5 677,469.8 677.5,470.1 678,470.4 678.5,470.6 679,470.9 679.5,471.2 680,471.4 680.5,471.6 681,471.9 681.5,472.1 682,472.3 682.5,472.5 683,472.7 683.5,472.9 684,473.1 684.5,473.3 685,473.5 685.5,473.7 686,473.9 686.5,474.1 687,474.2 687.5,474.4 688,474.6 688.5,474.7 689,474.9 689.5,475 690,475.2 690.5,475.3 691,475.4 691.5,475.6 692,475.7 692.5,475.8 693,475.9 693.5,476 694,476.2 694.5,476.3 695,476.4 695.5,476.5 696,476.6 696.5,476.7 697,476.8 697.5,476.9 698,476.9 698.5,477 699,477.1 699.5,477.2 700,477.3 700.5,477.3 701,477.4 701.5,477.5 702,477.6 702.5,477.6 703,477.7 703.5,477.7 704,477.8 704.5,477.9 705,477.9 705.5,478 706,478 706.5,478.1 707,478.1 707.5,478.2 708,478.2 708.5,478.2 709,478.3 709.5,478.3 710,478.4 710.5,478.4 711,478.4 711.5,478.5 712,478.5 712.5,478.5 713,478.6 713.5,478.6 714,478.6 714.5,478.7 715,478.7 715.5,478.7 716,478.7 716.5,478.8 717,478.8 717.5,478.8 718,478.8 718.5,478.8 719,478.9" fill="none" stroke="#c0393b" stroke-width="2.2" stroke-linejoin="round" stroke-linecap="round"/>
<path d="M561.5,477.1 562,477.1 562.5,477.1 563,477.1 563.5,477.1 564,477.1 564.5,477 565,477 565.5,477 566,477 566.5,477 567,476.9 567.5,476.9 568,476.9 568.5,476.9 569,476.8 569.5,476.8 570,476.8 570.5,476.7 571,476.7 571.5,476.7 572,476.6 572.5,476.6 573,476.5 573.5,476.5 574,476.4 574.5,476.4 575,476.3 575.5,476.3 576,476.2 576.5,476.2 577,476.1 577.5,476 578,475.9 578.5,475.9 579,475.8 579.5,475.7 580,475.6 580.5,475.5 581,475.4 581.5,475.3 582,475.2 582.5,475.1 583,475 583.5,474.9 584,474.8 584.5,474.6 585,474.5 585.5,474.4 586,474.2 586.5,474.1 587,473.9 587.5,473.8 588,473.6 588.5,473.4 589,473.3 589.5,473.1 590,472.9 590.5,472.7 591,472.5 591.5,472.3 592,472.1 592.5,471.9 593,471.6 593.5,471.4 594,471.2 594.5,470.9 595,470.6 595.5,470.4 596,470.1 596.5,469.8 597,469.5 597.5,469.2 598,468.9 598.5,468.6 599,468.3 599.5,468 600,467.6 600.5,467.3 601,466.9 601.5,466.5 602,466.2 602.5,465.8 603,465.4 603.5,465 604,464.6 604.5,464.2 605,463.7 605.5,463.3 606,462.8 606.5,462.4 607,461.9 607.5,461.4 608,460.9 608.5,460.4 609,459.9 609.5,459.4 610,458.9 610.5,458.3 611,457.8 611.5,457.2 612,456.6 612.5,456.1 613,455.5 613.5,454.9 614,454.3 614.5,453.7 615,453 615.5,452.4 616,451.8 616.5,451.1 617,450.5 617.5,449.8 618,449.1 618.5,448.4 619,447.8 619.5,447.1 620,446.3 620.5,445.6 621,444.9 621.5,444.2 622,443.5 622.5,442.7 623,442 623.5,441.2 624,440.5 624.5,439.7 625,439 625.5,438.2 626,437.4 626.5,436.6 627,435.9 627.5,435.1 628,434.3 628.5,433.5 629,432.7 629.5,432 630,431.2 630.5,430.4 631,429.6 631.5,428.8 632,428 632.5,427.3 633,426.5 633.5,425.7 634,424.9 634.5,424.2 635,423.4 635.5,422.6 636,421.9 636.5,421.1 637,420.4 637.5,419.6 638,418.9 638.5,418.2 639,417.4 639.5,416.7 640,416 640.5,415.3 641,414.6 641.5,414 642,413.3 642.5,412.7 643,412 643.5,411.4 644,410.8 644.5,410.2 645,409.6 645.5,409 646,408.4 646.5,407.9 647,407.4 647.5,406.8 648,406.3 648.5,405.9 649,405.4 649.5,404.9 650,404.5 650.5,404.1 651,403.7 651.5,403.3 652,402.9 652.5,402.6 653,402.3 653.5,402 654,401.7 654.5,401.4 655,401.2 655.5,400.9 656,400.7 656.5,400.5 657,400.4 657.5,400.2 658,400.1 658.5,400 659,399.9 659.5,399.9 660,399.8 660.5,399.8 661,399.8 661.5,399.8 662,399.9 662.5,400 663,400 663.5,400.2 664,400.3 664.5,400.4 665,400.6 665.5,400.8 666,401 666.5,401.3 667,401.5 667.5,401.8 668,402.1 668.5,402.4 669,402.7 669.5,403.1 670,403.5 670.5,403.8 671,404.2 671.5,404.7 672,405.1 672.5,405.6 673,406.1 673.5,406.5 674,407.1 674.5,407.6 675,408.1 675.5,408.7 676,409.2 676.5,409.8 677,410.4 677.5,411 678,411.7 678.5,412.3 679,412.9 679.5,413.6 680,414.3 680.5,415 681,415.6 681.5,416.3 682,417.1 682.5,417.8 683,418.5 683.5,419.2 684,420 684.5,420.7 685,421.5 685.5,422.2 686,423 686.5,423.8 687,424.5 687.5,425.3 688,426.1 688.5,426.9 689,427.7 689.5,428.4 690,429.2 690.5,430 691,430.8 691.5,431.6 692,432.4 692.5,433.2 693,434 693.5,434.8 694,435.5 694.5,436.3 695,437.1 695.5,437.9 696,438.6 696.5,439.4 697,440.2 697.5,440.9 698,441.7 698.5,442.5 699,443.2 699.5,443.9 700,444.7 700.5,445.4 701,446.1 701.5,446.8 702,447.5 702.5,448.2 703,448.9 703.5,449.6 704,450.3 704.5,451 705,451.6 705.5,452.3 706,452.9 706.5,453.6 707,454.2 707.5,454.8 708,455.4 708.5,456 709,456.6 709.5,457.2 710,457.8 710.5,458.4 711,458.9 711.5,459.5 712,460 712.5,460.5 713,461 713.5,461.6 714,462 714.5,462.5 715,463 715.5,463.5 716,464 716.5,464.4 717,464.8 717.5,465.3 718,465.7 718.5,466.1 719,466.5 719.5,466.9 720,467.3 720.5,467.7 721,468.1 721.5,468.4 722,468.8 722.5,469.1 723,469.4 723.5,469.8 724,470.1 724.5,470.4 725,470.7 725.5,471 726,471.3 726.5,471.6 727,471.8 727.5,472.1 728,472.3 728.5,472.6 729,472.8 729.5,473.1 730,473.3 730.5,473.5 731,473.7 731.5,473.9 732,474.1 732.5,474.3 733,474.5 733.5,474.7 734,474.9 734.5,475.1 735,475.2 735.5,475.4 736,475.5 736.5,475.7 737,475.8 737.5,476 738,476.1 738.5,476.2 739,476.4 739.5,476.5 740,476.6 740.5,476.7 741,476.8 741.5,476.9 742,477 742.5,477.1 744.5,471.5 745.8,464" fill="none" stroke="#8cb83c" stroke-width="2.2" stroke-linejoin="round" stroke-linecap="round"/>
<path d="M444,465.3 446.4,474.8 454.3,478 462.3,503.5 470.2,458.9 473.4,482.8 478.2,460.5 481.4,463.7 486.1,458.9 490.9,460.5 496.7,450.3 499.8,466.9 507.5,432.5 510,439.8 514.8,457.3 518.9,468.4 523.4,438.2 527.5,423.9 532.3,415.9 534.8,411.2 537.1,427.1 540.3,392.1 542.5,387.3 546.6,353.9 549.8,352.3 553,352.3 556.6,338.2 560,348.5 564.6,329 571.5,353.1 575,350.8 580.7,326.7 584.1,325.6 587.5,301.5 591,334.8 594.9,309.5 599,337 602.5,327.9 608.2,344 613.9,365.7 617.4,372.6 624.3,342.8 628.6,342.4 632.8,336.2 637.2,352.3 640.9,356 648.3,383.2 652,373.3 659.5,388.1 664.4,373.3 668.1,380.7 671.8,381.9 674.3,423.5 678,400 681.7,397 685.4,410 692.9,412.4 697.8,424.7 701.5,408.7 705.2,424.7 707.7,479.1 713.9,476.7 718.8,481.6 723.8,491.5 727.5,489 731.2,470.5 734.9,495.2 739.9,496.5 743.6,474.2 745.5,462" fill="none" stroke="#ff0000" stroke-width="2.3" stroke-linejoin="round" stroke-linecap="round"/>
<text x="444.1" y="528.9" font-size="13.1" fill="#000" textLength="19.4" lengthAdjust="spacingAndGlyphs">536</text>
<text x="482.1" y="528.9" font-size="13.1" fill="#000" textLength="19.4" lengthAdjust="spacingAndGlyphs">535</text>
<text x="520" y="528.9" font-size="13.1" fill="#000" textLength="19.4" lengthAdjust="spacingAndGlyphs">534</text>
<text x="558.2" y="528.9" font-size="13.1" fill="#000" textLength="19.4" lengthAdjust="spacingAndGlyphs">533</text>
<text x="596.2" y="528.9" font-size="13.1" fill="#000" textLength="19.4" lengthAdjust="spacingAndGlyphs">532</text>
<text x="634.1" y="528.9" font-size="13.1" fill="#000" textLength="19.4" lengthAdjust="spacingAndGlyphs">531</text>
<text x="672.2" y="528.9" font-size="13.1" fill="#000" textLength="19.4" lengthAdjust="spacingAndGlyphs">530</text>
<text x="710.2" y="528.9" font-size="13.1" fill="#000" textLength="19.4" lengthAdjust="spacingAndGlyphs">529</text>
<text x="417.6" y="500.6" font-size="12.6" fill="#000" textLength="18.9" lengthAdjust="spacingAndGlyphs">125</text>
<text x="417.8" y="480.3" font-size="12.6" fill="#000" textLength="18.9" lengthAdjust="spacingAndGlyphs">130</text>
<text x="417.6" y="460" font-size="12.6" fill="#000" textLength="18.9" lengthAdjust="spacingAndGlyphs">135</text>
<text x="417.8" y="439.7" font-size="12.6" fill="#000" textLength="18.9" lengthAdjust="spacingAndGlyphs">140</text>
<text x="417.6" y="419.4" font-size="12.6" fill="#000" textLength="18.9" lengthAdjust="spacingAndGlyphs">145</text>
<text x="417.8" y="399.1" font-size="12.6" fill="#000" textLength="18.9" lengthAdjust="spacingAndGlyphs">150</text>
<text x="417.6" y="378.8" font-size="12.6" fill="#000" textLength="18.9" lengthAdjust="spacingAndGlyphs">155</text>
<text x="417.8" y="358.5" font-size="12.6" fill="#000" textLength="18.9" lengthAdjust="spacingAndGlyphs">160</text>
<text x="417.6" y="338.2" font-size="12.6" fill="#000" textLength="18.9" lengthAdjust="spacingAndGlyphs">165</text>
<text x="417.8" y="317.9" font-size="12.6" fill="#000" textLength="18.9" lengthAdjust="spacingAndGlyphs">170</text>
<text x="417.6" y="297.6" font-size="12.6" fill="#000" textLength="18.9" lengthAdjust="spacingAndGlyphs">175</text>
<text x="525.5" y="547.2" font-size="13.24" fill="#000" textLength="139.1" lengthAdjust="spacingAndGlyphs">Binding Energy (eV)</text>
<text transform="translate(410.5,413.1) rotate(-90)" x="0" y="0" font-size="14.43" textLength="66.1" lengthAdjust="spacingAndGlyphs">CPS x 10</text>
<text transform="translate(402.7,345.3) rotate(-90)" x="0" y="0" font-size="13.0" textLength="13.1" lengthAdjust="spacingAndGlyphs">-2</text>
<text x="446.6" y="306.6" font-size="17.14" style="font-weight:normal" fill="#000" textLength="37.9" lengthAdjust="spacingAndGlyphs" stroke="#000" stroke-width="0.45">O 1s</text>
<text x="710.9" y="308.6" font-size="17.65" fill="#000" textLength="21.9" lengthAdjust="spacingAndGlyphs">(d)</text>
<rect x="47" y="6.1" width="318.1" height="205.4" fill="none" stroke="#000" stroke-width="2.5"/>
<rect x="453" y="3.2" width="281.6" height="213.6" fill="none" stroke="#000" stroke-width="2.4"/>
<rect x="62.3" y="286.6" width="301.9" height="228.6" fill="none" stroke="#000" stroke-width="2.5"/>
<rect x="443.6" y="287" width="302.8" height="221.2" fill="none" stroke="#000" stroke-width="2.5"/>
</svg></body></html>
